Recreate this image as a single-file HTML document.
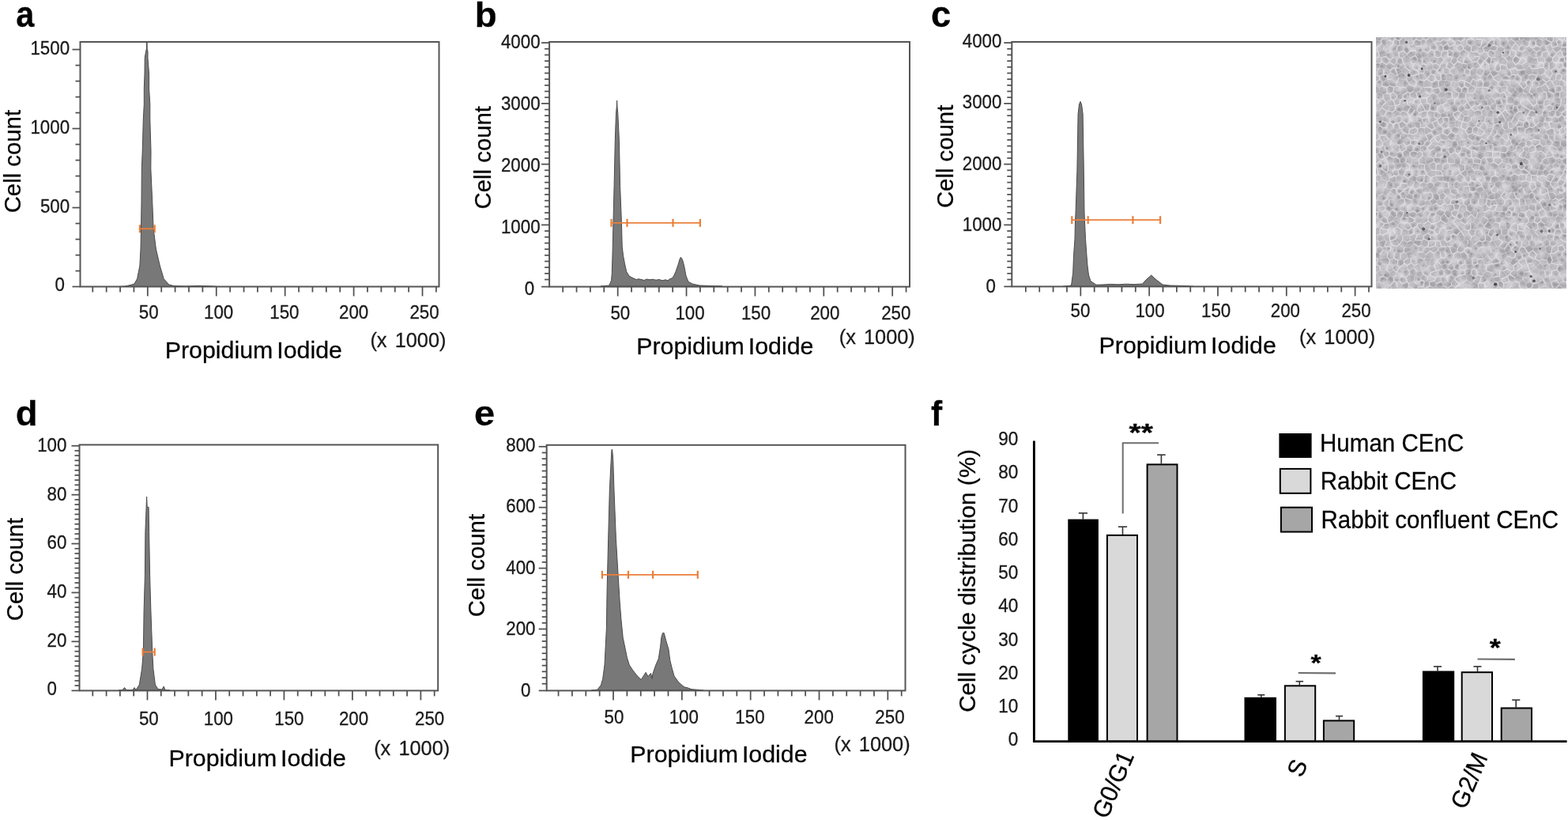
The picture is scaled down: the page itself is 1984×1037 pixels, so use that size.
<!DOCTYPE html>
<html><head><meta charset="utf-8"><title>Cell cycle figure</title>
<style>html,body{margin:0;padding:0;background:#fff;overflow:hidden;}svg{display:block;}text{stroke:#1a1a1a;stroke-width:0.3px;}</style></head>
<body><svg width="1984" height="1037" viewBox="0 0 1984 1037" font-family="Liberation Sans, Arial, sans-serif">
<rect width="1984" height="1037" fill="#fff"/>
<path d="M150.0,362.5 L158.0,362.0 L165.0,360.5 L170.0,359.0 L173.6,352.5 L176.9,336.0 L178.0,315.0 L178.5,289.0 L179.0,257.0 L179.3,213.0 L180.2,192.0 L181.3,151.0 L182.3,132.0 L182.3,112.0 L183.0,94.0 L183.2,73.5 L184.6,65.0 L185.4,62.0 L185.5,54.0 L186.1,54.0 L186.2,62.0 L187.0,65.0 L187.0,73.5 L188.6,94.0 L188.6,112.0 L189.8,132.0 L189.8,151.0 L191.0,192.0 L190.8,213.0 L192.8,257.0 L194.1,289.0 L197.4,315.0 L202.3,336.0 L207.2,352.5 L213.8,360.0 L220.0,361.5 L235.0,362.0 L250.0,361.3 L258.0,361.6 L270.0,362.0 L275.0,362.5 Z" fill="#787878" stroke="#4a4a4a" stroke-width="1" stroke-linejoin="round"/>
<rect x="101.5" y="53" width="454.0" height="309.5" fill="none" stroke="#555555" stroke-width="2"/>
<line x1="91.5" y1="362.50" x2="101.5" y2="362.50" stroke="#505050" stroke-width="1.75"/>
<line x1="95.5" y1="342.60" x2="101.5" y2="342.60" stroke="#505050" stroke-width="1.75"/>
<line x1="95.5" y1="322.60" x2="101.5" y2="322.60" stroke="#505050" stroke-width="1.75"/>
<line x1="95.5" y1="302.60" x2="101.5" y2="302.60" stroke="#505050" stroke-width="1.75"/>
<line x1="95.5" y1="282.60" x2="101.5" y2="282.60" stroke="#505050" stroke-width="1.75"/>
<line x1="91.5" y1="262.60" x2="101.5" y2="262.60" stroke="#505050" stroke-width="1.75"/>
<line x1="95.5" y1="242.60" x2="101.5" y2="242.60" stroke="#505050" stroke-width="1.75"/>
<line x1="95.5" y1="222.60" x2="101.5" y2="222.60" stroke="#505050" stroke-width="1.75"/>
<line x1="95.5" y1="202.60" x2="101.5" y2="202.60" stroke="#505050" stroke-width="1.75"/>
<line x1="95.5" y1="182.60" x2="101.5" y2="182.60" stroke="#505050" stroke-width="1.75"/>
<line x1="91.5" y1="162.60" x2="101.5" y2="162.60" stroke="#505050" stroke-width="1.75"/>
<line x1="95.5" y1="142.60" x2="101.5" y2="142.60" stroke="#505050" stroke-width="1.75"/>
<line x1="95.5" y1="122.60" x2="101.5" y2="122.60" stroke="#505050" stroke-width="1.75"/>
<line x1="95.5" y1="102.60" x2="101.5" y2="102.60" stroke="#505050" stroke-width="1.75"/>
<line x1="95.5" y1="82.60" x2="101.5" y2="82.60" stroke="#505050" stroke-width="1.75"/>
<line x1="91.5" y1="62.60" x2="101.5" y2="62.60" stroke="#505050" stroke-width="1.75"/>
<line x1="117.28" y1="362.5" x2="117.28" y2="369.5" stroke="#505050" stroke-width="1.75"/>
<line x1="134.67" y1="362.5" x2="134.67" y2="369.5" stroke="#505050" stroke-width="1.75"/>
<line x1="152.06" y1="362.5" x2="152.06" y2="369.5" stroke="#505050" stroke-width="1.75"/>
<line x1="169.44" y1="362.5" x2="169.44" y2="369.5" stroke="#505050" stroke-width="1.75"/>
<line x1="186.82" y1="362.5" x2="186.82" y2="374.5" stroke="#505050" stroke-width="1.75"/>
<line x1="204.21" y1="362.5" x2="204.21" y2="369.5" stroke="#505050" stroke-width="1.75"/>
<line x1="221.59" y1="362.5" x2="221.59" y2="369.5" stroke="#505050" stroke-width="1.75"/>
<line x1="238.98" y1="362.5" x2="238.98" y2="369.5" stroke="#505050" stroke-width="1.75"/>
<line x1="256.37" y1="362.5" x2="256.37" y2="369.5" stroke="#505050" stroke-width="1.75"/>
<line x1="273.75" y1="362.5" x2="273.75" y2="374.5" stroke="#505050" stroke-width="1.75"/>
<line x1="291.13" y1="362.5" x2="291.13" y2="369.5" stroke="#505050" stroke-width="1.75"/>
<line x1="308.52" y1="362.5" x2="308.52" y2="369.5" stroke="#505050" stroke-width="1.75"/>
<line x1="325.90" y1="362.5" x2="325.90" y2="369.5" stroke="#505050" stroke-width="1.75"/>
<line x1="343.29" y1="362.5" x2="343.29" y2="369.5" stroke="#505050" stroke-width="1.75"/>
<line x1="360.67" y1="362.5" x2="360.67" y2="374.5" stroke="#505050" stroke-width="1.75"/>
<line x1="378.06" y1="362.5" x2="378.06" y2="369.5" stroke="#505050" stroke-width="1.75"/>
<line x1="395.45" y1="362.5" x2="395.45" y2="369.5" stroke="#505050" stroke-width="1.75"/>
<line x1="412.83" y1="362.5" x2="412.83" y2="369.5" stroke="#505050" stroke-width="1.75"/>
<line x1="430.22" y1="362.5" x2="430.22" y2="369.5" stroke="#505050" stroke-width="1.75"/>
<line x1="447.60" y1="362.5" x2="447.60" y2="374.5" stroke="#505050" stroke-width="1.75"/>
<line x1="464.99" y1="362.5" x2="464.99" y2="369.5" stroke="#505050" stroke-width="1.75"/>
<line x1="482.37" y1="362.5" x2="482.37" y2="369.5" stroke="#505050" stroke-width="1.75"/>
<line x1="499.75" y1="362.5" x2="499.75" y2="369.5" stroke="#505050" stroke-width="1.75"/>
<line x1="517.14" y1="362.5" x2="517.14" y2="369.5" stroke="#505050" stroke-width="1.75"/>
<line x1="534.52" y1="362.5" x2="534.52" y2="374.5" stroke="#505050" stroke-width="1.75"/>
<line x1="551.91" y1="362.5" x2="551.91" y2="369.5" stroke="#505050" stroke-width="1.75"/>
<line x1="176.9" y1="289.3" x2="195.7" y2="289.3" stroke="#EA7F3A" stroke-width="1.8"/>
<line x1="176.9" y1="284.3" x2="176.9" y2="294.3" stroke="#EA7F3A" stroke-width="2.2"/>
<line x1="195.7" y1="284.3" x2="195.7" y2="294.3" stroke="#EA7F3A" stroke-width="2.2"/>
<text transform="translate(69.41,368.23) scale(0.9300,1)" font-size="24.00" fill="#1a1a1a">0</text>
<text transform="translate(50.93,268.58) scale(0.9300,1)" font-size="24.00" fill="#1a1a1a">500</text>
<text transform="translate(38.43,168.93) scale(0.9300,1)" font-size="24.00" fill="#1a1a1a">1000</text>
<text transform="translate(38.43,69.28) scale(0.9300,1)" font-size="24.00" fill="#1a1a1a">1500</text>
<text transform="translate(175.81,402.83) scale(0.9300,1)" font-size="24.00" fill="#1a1a1a">50</text>
<text transform="translate(257.98,402.83) scale(0.9300,1)" font-size="24.00" fill="#1a1a1a">100</text>
<text transform="translate(341.28,402.78) scale(0.9300,1)" font-size="24.00" fill="#1a1a1a">150</text>
<text transform="translate(429.06,402.78) scale(0.9300,1)" font-size="24.00" fill="#1a1a1a">200</text>
<text transform="translate(518.46,402.78) scale(0.9300,1)" font-size="24.00" fill="#1a1a1a">250</text>
<text transform="translate(20.26,34.34) scale(0.9093,1)" font-size="45.64" font-weight="bold" fill="#000">a</text>
<text transform="translate(25.98,269.30) rotate(-90) scale(0.9680,1)" font-size="30.30" fill="#000">Cell count</text>
<text transform="translate(208.67,453.25) scale(1.0228,1)" font-size="29.7" word-spacing="-3.5" fill="#000">Propidium Iodide</text>
<text transform="translate(468.44,438.59) scale(0.975,1)" font-size="26.0" fill="#1a1a1a">(x <tspan dx="3.2">1000)</tspan></text>
<path d="M760.0,362.0 L770.9,361.0 L773.6,354.4 L774.3,345.7 L775.0,323.0 L776.0,280.5 L777.1,235.4 L778.3,177.7 L779.5,143.9 L780.3,135.0 L780.6,127.0 L781.0,135.0 L781.8,143.9 L783.4,177.7 L784.6,235.4 L786.4,280.5 L787.2,311.8 L788.6,323.6 L790.5,333.6 L792.7,343.5 L796.0,349.0 L800.0,351.3 L805.0,353.5 L808.0,352.8 L812.0,353.6 L815.0,354.5 L818.0,353.0 L822.0,353.8 L826.0,353.2 L830.0,354.2 L834.0,353.5 L838.0,354.8 L842.0,353.8 L845.0,354.8 L848.0,352.5 L850.7,351.7 L853.0,348.0 L855.0,343.5 L858.0,335.0 L860.0,328.0 L861.2,325.4 L862.5,326.5 L864.0,330.0 L866.0,338.0 L868.0,349.0 L871.0,356.3 L876.0,359.0 L885.0,361.0 L900.0,361.5 L914.0,362.0 Z" fill="#787878" stroke="#4a4a4a" stroke-width="1" stroke-linejoin="round"/>
<rect x="695.1" y="53" width="455.9" height="309.6" fill="none" stroke="#555555" stroke-width="2"/>
<line x1="685.1" y1="362.60" x2="695.1" y2="362.60" stroke="#505050" stroke-width="1.75"/>
<line x1="689.1" y1="353.52" x2="695.1" y2="353.52" stroke="#505050" stroke-width="1.75"/>
<line x1="689.1" y1="345.84" x2="695.1" y2="345.84" stroke="#505050" stroke-width="1.75"/>
<line x1="689.1" y1="338.17" x2="695.1" y2="338.17" stroke="#505050" stroke-width="1.75"/>
<line x1="689.1" y1="330.49" x2="695.1" y2="330.49" stroke="#505050" stroke-width="1.75"/>
<line x1="689.1" y1="322.81" x2="695.1" y2="322.81" stroke="#505050" stroke-width="1.75"/>
<line x1="689.1" y1="315.13" x2="695.1" y2="315.13" stroke="#505050" stroke-width="1.75"/>
<line x1="689.1" y1="307.46" x2="695.1" y2="307.46" stroke="#505050" stroke-width="1.75"/>
<line x1="689.1" y1="299.78" x2="695.1" y2="299.78" stroke="#505050" stroke-width="1.75"/>
<line x1="689.1" y1="292.10" x2="695.1" y2="292.10" stroke="#505050" stroke-width="1.75"/>
<line x1="685.1" y1="284.43" x2="695.1" y2="284.43" stroke="#505050" stroke-width="1.75"/>
<line x1="689.1" y1="276.75" x2="695.1" y2="276.75" stroke="#505050" stroke-width="1.75"/>
<line x1="689.1" y1="269.07" x2="695.1" y2="269.07" stroke="#505050" stroke-width="1.75"/>
<line x1="689.1" y1="261.39" x2="695.1" y2="261.39" stroke="#505050" stroke-width="1.75"/>
<line x1="689.1" y1="253.72" x2="695.1" y2="253.72" stroke="#505050" stroke-width="1.75"/>
<line x1="689.1" y1="246.04" x2="695.1" y2="246.04" stroke="#505050" stroke-width="1.75"/>
<line x1="689.1" y1="238.36" x2="695.1" y2="238.36" stroke="#505050" stroke-width="1.75"/>
<line x1="689.1" y1="230.68" x2="695.1" y2="230.68" stroke="#505050" stroke-width="1.75"/>
<line x1="689.1" y1="223.01" x2="695.1" y2="223.01" stroke="#505050" stroke-width="1.75"/>
<line x1="689.1" y1="215.33" x2="695.1" y2="215.33" stroke="#505050" stroke-width="1.75"/>
<line x1="685.1" y1="207.65" x2="695.1" y2="207.65" stroke="#505050" stroke-width="1.75"/>
<line x1="689.1" y1="199.97" x2="695.1" y2="199.97" stroke="#505050" stroke-width="1.75"/>
<line x1="689.1" y1="192.30" x2="695.1" y2="192.30" stroke="#505050" stroke-width="1.75"/>
<line x1="689.1" y1="184.62" x2="695.1" y2="184.62" stroke="#505050" stroke-width="1.75"/>
<line x1="689.1" y1="176.94" x2="695.1" y2="176.94" stroke="#505050" stroke-width="1.75"/>
<line x1="689.1" y1="169.26" x2="695.1" y2="169.26" stroke="#505050" stroke-width="1.75"/>
<line x1="689.1" y1="161.59" x2="695.1" y2="161.59" stroke="#505050" stroke-width="1.75"/>
<line x1="689.1" y1="153.91" x2="695.1" y2="153.91" stroke="#505050" stroke-width="1.75"/>
<line x1="689.1" y1="146.23" x2="695.1" y2="146.23" stroke="#505050" stroke-width="1.75"/>
<line x1="689.1" y1="138.55" x2="695.1" y2="138.55" stroke="#505050" stroke-width="1.75"/>
<line x1="685.1" y1="130.88" x2="695.1" y2="130.88" stroke="#505050" stroke-width="1.75"/>
<line x1="689.1" y1="123.20" x2="695.1" y2="123.20" stroke="#505050" stroke-width="1.75"/>
<line x1="689.1" y1="115.52" x2="695.1" y2="115.52" stroke="#505050" stroke-width="1.75"/>
<line x1="689.1" y1="107.84" x2="695.1" y2="107.84" stroke="#505050" stroke-width="1.75"/>
<line x1="689.1" y1="100.17" x2="695.1" y2="100.17" stroke="#505050" stroke-width="1.75"/>
<line x1="689.1" y1="92.49" x2="695.1" y2="92.49" stroke="#505050" stroke-width="1.75"/>
<line x1="689.1" y1="84.81" x2="695.1" y2="84.81" stroke="#505050" stroke-width="1.75"/>
<line x1="689.1" y1="77.13" x2="695.1" y2="77.13" stroke="#505050" stroke-width="1.75"/>
<line x1="689.1" y1="69.46" x2="695.1" y2="69.46" stroke="#505050" stroke-width="1.75"/>
<line x1="689.1" y1="61.78" x2="695.1" y2="61.78" stroke="#505050" stroke-width="1.75"/>
<line x1="685.1" y1="54.10" x2="695.1" y2="54.10" stroke="#505050" stroke-width="1.75"/>
<line x1="712.17" y1="362.6" x2="712.17" y2="369.6" stroke="#505050" stroke-width="1.75"/>
<line x1="729.55" y1="362.6" x2="729.55" y2="369.6" stroke="#505050" stroke-width="1.75"/>
<line x1="746.92" y1="362.6" x2="746.92" y2="369.6" stroke="#505050" stroke-width="1.75"/>
<line x1="764.30" y1="362.6" x2="764.30" y2="369.6" stroke="#505050" stroke-width="1.75"/>
<line x1="781.67" y1="362.6" x2="781.67" y2="374.6" stroke="#505050" stroke-width="1.75"/>
<line x1="799.05" y1="362.6" x2="799.05" y2="369.6" stroke="#505050" stroke-width="1.75"/>
<line x1="816.42" y1="362.6" x2="816.42" y2="369.6" stroke="#505050" stroke-width="1.75"/>
<line x1="833.80" y1="362.6" x2="833.80" y2="369.6" stroke="#505050" stroke-width="1.75"/>
<line x1="851.17" y1="362.6" x2="851.17" y2="369.6" stroke="#505050" stroke-width="1.75"/>
<line x1="868.55" y1="362.6" x2="868.55" y2="374.6" stroke="#505050" stroke-width="1.75"/>
<line x1="885.92" y1="362.6" x2="885.92" y2="369.6" stroke="#505050" stroke-width="1.75"/>
<line x1="903.30" y1="362.6" x2="903.30" y2="369.6" stroke="#505050" stroke-width="1.75"/>
<line x1="920.67" y1="362.6" x2="920.67" y2="369.6" stroke="#505050" stroke-width="1.75"/>
<line x1="938.05" y1="362.6" x2="938.05" y2="369.6" stroke="#505050" stroke-width="1.75"/>
<line x1="955.42" y1="362.6" x2="955.42" y2="374.6" stroke="#505050" stroke-width="1.75"/>
<line x1="972.80" y1="362.6" x2="972.80" y2="369.6" stroke="#505050" stroke-width="1.75"/>
<line x1="990.17" y1="362.6" x2="990.17" y2="369.6" stroke="#505050" stroke-width="1.75"/>
<line x1="1007.55" y1="362.6" x2="1007.55" y2="369.6" stroke="#505050" stroke-width="1.75"/>
<line x1="1024.92" y1="362.6" x2="1024.92" y2="369.6" stroke="#505050" stroke-width="1.75"/>
<line x1="1042.30" y1="362.6" x2="1042.30" y2="374.6" stroke="#505050" stroke-width="1.75"/>
<line x1="1059.67" y1="362.6" x2="1059.67" y2="369.6" stroke="#505050" stroke-width="1.75"/>
<line x1="1077.05" y1="362.6" x2="1077.05" y2="369.6" stroke="#505050" stroke-width="1.75"/>
<line x1="1094.42" y1="362.6" x2="1094.42" y2="369.6" stroke="#505050" stroke-width="1.75"/>
<line x1="1111.80" y1="362.6" x2="1111.80" y2="369.6" stroke="#505050" stroke-width="1.75"/>
<line x1="1129.17" y1="362.6" x2="1129.17" y2="374.6" stroke="#505050" stroke-width="1.75"/>
<line x1="1146.55" y1="362.6" x2="1146.55" y2="369.6" stroke="#505050" stroke-width="1.75"/>
<line x1="773.5" y1="281.9" x2="885.9" y2="281.9" stroke="#EA7F3A" stroke-width="1.8"/>
<line x1="773.5" y1="276.9" x2="773.5" y2="286.9" stroke="#EA7F3A" stroke-width="2.2"/>
<line x1="793.5" y1="276.9" x2="793.5" y2="286.9" stroke="#EA7F3A" stroke-width="2.2"/>
<line x1="851.5" y1="276.9" x2="851.5" y2="286.9" stroke="#EA7F3A" stroke-width="2.2"/>
<line x1="885.9" y1="276.9" x2="885.9" y2="286.9" stroke="#EA7F3A" stroke-width="2.2"/>
<text transform="translate(663.71,372.78) scale(0.9300,1)" font-size="24.00" fill="#1a1a1a">0</text>
<text transform="translate(633.93,294.94) scale(0.9300,1)" font-size="24.00" fill="#1a1a1a">1000</text>
<text transform="translate(633.93,217.10) scale(0.9300,1)" font-size="24.00" fill="#1a1a1a">2000</text>
<text transform="translate(633.93,139.27) scale(0.9300,1)" font-size="24.00" fill="#1a1a1a">3000</text>
<text transform="translate(633.93,61.43) scale(0.9300,1)" font-size="24.00" fill="#1a1a1a">4000</text>
<text transform="translate(772.41,404.28) scale(0.9300,1)" font-size="24.00" fill="#1a1a1a">50</text>
<text transform="translate(854.38,404.28) scale(0.9300,1)" font-size="24.00" fill="#1a1a1a">100</text>
<text transform="translate(937.88,404.28) scale(0.9300,1)" font-size="24.00" fill="#1a1a1a">150</text>
<text transform="translate(1025.16,404.28) scale(0.9300,1)" font-size="24.00" fill="#1a1a1a">200</text>
<text transform="translate(1115.21,404.28) scale(0.9300,1)" font-size="24.00" fill="#1a1a1a">250</text>
<text transform="translate(600.63,34.06) scale(1.0377,1)" font-size="44.08" font-weight="bold" fill="#000">b</text>
<text transform="translate(620.73,264.40) rotate(-90) scale(0.9680,1)" font-size="30.30" fill="#000">Cell count</text>
<text transform="translate(805.17,448.40) scale(1.0228,1)" font-size="29.7" word-spacing="-3.5" fill="#000">Propidium Iodide</text>
<text transform="translate(1061.74,435.09) scale(0.975,1)" font-size="26.0" fill="#1a1a1a">(x <tspan dx="3.2">1000)</tspan></text>
<path d="M1345.0,362.3 L1355.5,361.0 L1357.7,344.9 L1358.5,323.6 L1360.0,302.4 L1360.5,279.0 L1361.0,270.6 L1362.9,216.4 L1364.1,144.0 L1365.5,132.0 L1367.0,128.4 L1368.5,132.0 L1370.1,144.0 L1371.3,216.4 L1372.0,270.0 L1373.5,302.4 L1375.0,323.6 L1376.1,337.0 L1377.5,348.0 L1380.0,355.5 L1387.0,360.2 L1395.0,360.0 L1405.0,359.4 L1415.0,359.8 L1425.0,359.2 L1435.0,359.6 L1445.6,359.0 L1450.0,354.0 L1456.7,348.0 L1462.0,353.0 L1471.1,360.0 L1480.0,361.0 L1500.0,361.5 L1510.0,362.3 Z" fill="#787878" stroke="#4a4a4a" stroke-width="1" stroke-linejoin="round"/>
<rect x="1280.3" y="53" width="455.20000000000005" height="309.4" fill="none" stroke="#555555" stroke-width="2"/>
<line x1="1270.3" y1="362.40" x2="1280.3" y2="362.40" stroke="#505050" stroke-width="1.75"/>
<line x1="1274.3" y1="353.52" x2="1280.3" y2="353.52" stroke="#505050" stroke-width="1.75"/>
<line x1="1274.3" y1="345.84" x2="1280.3" y2="345.84" stroke="#505050" stroke-width="1.75"/>
<line x1="1274.3" y1="338.17" x2="1280.3" y2="338.17" stroke="#505050" stroke-width="1.75"/>
<line x1="1274.3" y1="330.49" x2="1280.3" y2="330.49" stroke="#505050" stroke-width="1.75"/>
<line x1="1274.3" y1="322.81" x2="1280.3" y2="322.81" stroke="#505050" stroke-width="1.75"/>
<line x1="1274.3" y1="315.13" x2="1280.3" y2="315.13" stroke="#505050" stroke-width="1.75"/>
<line x1="1274.3" y1="307.46" x2="1280.3" y2="307.46" stroke="#505050" stroke-width="1.75"/>
<line x1="1274.3" y1="299.78" x2="1280.3" y2="299.78" stroke="#505050" stroke-width="1.75"/>
<line x1="1274.3" y1="292.10" x2="1280.3" y2="292.10" stroke="#505050" stroke-width="1.75"/>
<line x1="1270.3" y1="284.43" x2="1280.3" y2="284.43" stroke="#505050" stroke-width="1.75"/>
<line x1="1274.3" y1="276.75" x2="1280.3" y2="276.75" stroke="#505050" stroke-width="1.75"/>
<line x1="1274.3" y1="269.07" x2="1280.3" y2="269.07" stroke="#505050" stroke-width="1.75"/>
<line x1="1274.3" y1="261.39" x2="1280.3" y2="261.39" stroke="#505050" stroke-width="1.75"/>
<line x1="1274.3" y1="253.72" x2="1280.3" y2="253.72" stroke="#505050" stroke-width="1.75"/>
<line x1="1274.3" y1="246.04" x2="1280.3" y2="246.04" stroke="#505050" stroke-width="1.75"/>
<line x1="1274.3" y1="238.36" x2="1280.3" y2="238.36" stroke="#505050" stroke-width="1.75"/>
<line x1="1274.3" y1="230.68" x2="1280.3" y2="230.68" stroke="#505050" stroke-width="1.75"/>
<line x1="1274.3" y1="223.01" x2="1280.3" y2="223.01" stroke="#505050" stroke-width="1.75"/>
<line x1="1274.3" y1="215.33" x2="1280.3" y2="215.33" stroke="#505050" stroke-width="1.75"/>
<line x1="1270.3" y1="207.65" x2="1280.3" y2="207.65" stroke="#505050" stroke-width="1.75"/>
<line x1="1274.3" y1="199.97" x2="1280.3" y2="199.97" stroke="#505050" stroke-width="1.75"/>
<line x1="1274.3" y1="192.30" x2="1280.3" y2="192.30" stroke="#505050" stroke-width="1.75"/>
<line x1="1274.3" y1="184.62" x2="1280.3" y2="184.62" stroke="#505050" stroke-width="1.75"/>
<line x1="1274.3" y1="176.94" x2="1280.3" y2="176.94" stroke="#505050" stroke-width="1.75"/>
<line x1="1274.3" y1="169.26" x2="1280.3" y2="169.26" stroke="#505050" stroke-width="1.75"/>
<line x1="1274.3" y1="161.59" x2="1280.3" y2="161.59" stroke="#505050" stroke-width="1.75"/>
<line x1="1274.3" y1="153.91" x2="1280.3" y2="153.91" stroke="#505050" stroke-width="1.75"/>
<line x1="1274.3" y1="146.23" x2="1280.3" y2="146.23" stroke="#505050" stroke-width="1.75"/>
<line x1="1274.3" y1="138.55" x2="1280.3" y2="138.55" stroke="#505050" stroke-width="1.75"/>
<line x1="1270.3" y1="130.88" x2="1280.3" y2="130.88" stroke="#505050" stroke-width="1.75"/>
<line x1="1274.3" y1="123.20" x2="1280.3" y2="123.20" stroke="#505050" stroke-width="1.75"/>
<line x1="1274.3" y1="115.52" x2="1280.3" y2="115.52" stroke="#505050" stroke-width="1.75"/>
<line x1="1274.3" y1="107.84" x2="1280.3" y2="107.84" stroke="#505050" stroke-width="1.75"/>
<line x1="1274.3" y1="100.17" x2="1280.3" y2="100.17" stroke="#505050" stroke-width="1.75"/>
<line x1="1274.3" y1="92.49" x2="1280.3" y2="92.49" stroke="#505050" stroke-width="1.75"/>
<line x1="1274.3" y1="84.81" x2="1280.3" y2="84.81" stroke="#505050" stroke-width="1.75"/>
<line x1="1274.3" y1="77.13" x2="1280.3" y2="77.13" stroke="#505050" stroke-width="1.75"/>
<line x1="1274.3" y1="69.46" x2="1280.3" y2="69.46" stroke="#505050" stroke-width="1.75"/>
<line x1="1274.3" y1="61.78" x2="1280.3" y2="61.78" stroke="#505050" stroke-width="1.75"/>
<line x1="1270.3" y1="54.10" x2="1280.3" y2="54.10" stroke="#505050" stroke-width="1.75"/>
<line x1="1297.87" y1="362.4" x2="1297.87" y2="369.4" stroke="#505050" stroke-width="1.75"/>
<line x1="1315.23" y1="362.4" x2="1315.23" y2="369.4" stroke="#505050" stroke-width="1.75"/>
<line x1="1332.60" y1="362.4" x2="1332.60" y2="369.4" stroke="#505050" stroke-width="1.75"/>
<line x1="1349.96" y1="362.4" x2="1349.96" y2="369.4" stroke="#505050" stroke-width="1.75"/>
<line x1="1367.33" y1="362.4" x2="1367.33" y2="374.4" stroke="#505050" stroke-width="1.75"/>
<line x1="1384.69" y1="362.4" x2="1384.69" y2="369.4" stroke="#505050" stroke-width="1.75"/>
<line x1="1402.06" y1="362.4" x2="1402.06" y2="369.4" stroke="#505050" stroke-width="1.75"/>
<line x1="1419.42" y1="362.4" x2="1419.42" y2="369.4" stroke="#505050" stroke-width="1.75"/>
<line x1="1436.79" y1="362.4" x2="1436.79" y2="369.4" stroke="#505050" stroke-width="1.75"/>
<line x1="1454.15" y1="362.4" x2="1454.15" y2="374.4" stroke="#505050" stroke-width="1.75"/>
<line x1="1471.51" y1="362.4" x2="1471.51" y2="369.4" stroke="#505050" stroke-width="1.75"/>
<line x1="1488.88" y1="362.4" x2="1488.88" y2="369.4" stroke="#505050" stroke-width="1.75"/>
<line x1="1506.24" y1="362.4" x2="1506.24" y2="369.4" stroke="#505050" stroke-width="1.75"/>
<line x1="1523.61" y1="362.4" x2="1523.61" y2="369.4" stroke="#505050" stroke-width="1.75"/>
<line x1="1540.97" y1="362.4" x2="1540.97" y2="374.4" stroke="#505050" stroke-width="1.75"/>
<line x1="1558.34" y1="362.4" x2="1558.34" y2="369.4" stroke="#505050" stroke-width="1.75"/>
<line x1="1575.70" y1="362.4" x2="1575.70" y2="369.4" stroke="#505050" stroke-width="1.75"/>
<line x1="1593.07" y1="362.4" x2="1593.07" y2="369.4" stroke="#505050" stroke-width="1.75"/>
<line x1="1610.43" y1="362.4" x2="1610.43" y2="369.4" stroke="#505050" stroke-width="1.75"/>
<line x1="1627.80" y1="362.4" x2="1627.80" y2="374.4" stroke="#505050" stroke-width="1.75"/>
<line x1="1645.16" y1="362.4" x2="1645.16" y2="369.4" stroke="#505050" stroke-width="1.75"/>
<line x1="1662.53" y1="362.4" x2="1662.53" y2="369.4" stroke="#505050" stroke-width="1.75"/>
<line x1="1679.89" y1="362.4" x2="1679.89" y2="369.4" stroke="#505050" stroke-width="1.75"/>
<line x1="1697.26" y1="362.4" x2="1697.26" y2="369.4" stroke="#505050" stroke-width="1.75"/>
<line x1="1714.62" y1="362.4" x2="1714.62" y2="374.4" stroke="#505050" stroke-width="1.75"/>
<line x1="1731.99" y1="362.4" x2="1731.99" y2="369.4" stroke="#505050" stroke-width="1.75"/>
<line x1="1356.3" y1="278.2" x2="1468.1" y2="278.2" stroke="#EA7F3A" stroke-width="1.8"/>
<line x1="1356.3" y1="273.2" x2="1356.3" y2="283.2" stroke="#EA7F3A" stroke-width="2.2"/>
<line x1="1376.7" y1="273.2" x2="1376.7" y2="283.2" stroke="#EA7F3A" stroke-width="2.2"/>
<line x1="1433.4" y1="273.2" x2="1433.4" y2="283.2" stroke="#EA7F3A" stroke-width="2.2"/>
<line x1="1468.1" y1="273.2" x2="1468.1" y2="283.2" stroke="#EA7F3A" stroke-width="2.2"/>
<text transform="translate(1247.41,369.73) scale(0.9300,1)" font-size="24.00" fill="#1a1a1a">0</text>
<text transform="translate(1217.73,292.24) scale(0.9300,1)" font-size="24.00" fill="#1a1a1a">1000</text>
<text transform="translate(1217.73,214.75) scale(0.9300,1)" font-size="24.00" fill="#1a1a1a">2000</text>
<text transform="translate(1217.73,137.27) scale(0.9300,1)" font-size="24.00" fill="#1a1a1a">3000</text>
<text transform="translate(1217.73,59.78) scale(0.9300,1)" font-size="24.00" fill="#1a1a1a">4000</text>
<text transform="translate(1354.56,401.23) scale(0.9300,1)" font-size="24.00" fill="#1a1a1a">50</text>
<text transform="translate(1436.43,401.28) scale(0.9300,1)" font-size="24.00" fill="#1a1a1a">100</text>
<text transform="translate(1520.03,401.28) scale(0.9300,1)" font-size="24.00" fill="#1a1a1a">150</text>
<text transform="translate(1607.81,401.28) scale(0.9300,1)" font-size="24.00" fill="#1a1a1a">200</text>
<text transform="translate(1697.41,401.28) scale(0.9300,1)" font-size="24.00" fill="#1a1a1a">250</text>
<text transform="translate(1177.89,34.34) scale(0.9940,1)" font-size="45.64" font-weight="bold" fill="#000">c</text>
<text transform="translate(1206.13,263.05) rotate(-90) scale(0.9680,1)" font-size="30.30" fill="#000">Cell count</text>
<text transform="translate(1390.52,446.90) scale(1.0228,1)" font-size="29.7" word-spacing="-3.5" fill="#000">Propidium Iodide</text>
<text transform="translate(1644.04,434.55) scale(0.975,1)" font-size="26.0" fill="#1a1a1a">(x <tspan dx="3.2">1000)</tspan></text>
<path d="M150.0,873.0 L155.0,872.5 L157.5,869.5 L160.0,872.5 L168.0,872.5 L170.0,869.5 L172.0,872.5 L176.3,866.0 L179.6,845.8 L181.4,823.3 L182.1,773.0 L183.4,727.9 L183.9,672.7 L185.1,641.3 L185.6,628.0 L186.2,641.3 L188.1,641.3 L188.6,672.7 L189.6,727.9 L190.9,773.0 L192.7,823.3 L193.9,845.8 L196.4,866.0 L200.0,871.5 L205.0,872.0 L207.2,868.0 L209.0,872.5 L215.0,873.0 Z" fill="#787878" stroke="#4a4a4a" stroke-width="1" stroke-linejoin="round"/>
<rect x="100.5" y="562.5" width="453.70000000000005" height="310.9" fill="none" stroke="#555555" stroke-width="2"/>
<line x1="90.5" y1="873.40" x2="100.5" y2="873.40" stroke="#505050" stroke-width="1.75"/>
<line x1="94.5" y1="867.01" x2="100.5" y2="867.01" stroke="#505050" stroke-width="1.75"/>
<line x1="94.5" y1="860.82" x2="100.5" y2="860.82" stroke="#505050" stroke-width="1.75"/>
<line x1="94.5" y1="854.64" x2="100.5" y2="854.64" stroke="#505050" stroke-width="1.75"/>
<line x1="94.5" y1="848.45" x2="100.5" y2="848.45" stroke="#505050" stroke-width="1.75"/>
<line x1="94.5" y1="842.26" x2="100.5" y2="842.26" stroke="#505050" stroke-width="1.75"/>
<line x1="94.5" y1="836.07" x2="100.5" y2="836.07" stroke="#505050" stroke-width="1.75"/>
<line x1="94.5" y1="829.88" x2="100.5" y2="829.88" stroke="#505050" stroke-width="1.75"/>
<line x1="94.5" y1="823.70" x2="100.5" y2="823.70" stroke="#505050" stroke-width="1.75"/>
<line x1="94.5" y1="817.51" x2="100.5" y2="817.51" stroke="#505050" stroke-width="1.75"/>
<line x1="90.5" y1="811.32" x2="100.5" y2="811.32" stroke="#505050" stroke-width="1.75"/>
<line x1="94.5" y1="805.13" x2="100.5" y2="805.13" stroke="#505050" stroke-width="1.75"/>
<line x1="94.5" y1="798.94" x2="100.5" y2="798.94" stroke="#505050" stroke-width="1.75"/>
<line x1="94.5" y1="792.76" x2="100.5" y2="792.76" stroke="#505050" stroke-width="1.75"/>
<line x1="94.5" y1="786.57" x2="100.5" y2="786.57" stroke="#505050" stroke-width="1.75"/>
<line x1="94.5" y1="780.38" x2="100.5" y2="780.38" stroke="#505050" stroke-width="1.75"/>
<line x1="94.5" y1="774.19" x2="100.5" y2="774.19" stroke="#505050" stroke-width="1.75"/>
<line x1="94.5" y1="768.00" x2="100.5" y2="768.00" stroke="#505050" stroke-width="1.75"/>
<line x1="94.5" y1="761.82" x2="100.5" y2="761.82" stroke="#505050" stroke-width="1.75"/>
<line x1="94.5" y1="755.63" x2="100.5" y2="755.63" stroke="#505050" stroke-width="1.75"/>
<line x1="90.5" y1="749.44" x2="100.5" y2="749.44" stroke="#505050" stroke-width="1.75"/>
<line x1="94.5" y1="743.25" x2="100.5" y2="743.25" stroke="#505050" stroke-width="1.75"/>
<line x1="94.5" y1="737.06" x2="100.5" y2="737.06" stroke="#505050" stroke-width="1.75"/>
<line x1="94.5" y1="730.88" x2="100.5" y2="730.88" stroke="#505050" stroke-width="1.75"/>
<line x1="94.5" y1="724.69" x2="100.5" y2="724.69" stroke="#505050" stroke-width="1.75"/>
<line x1="94.5" y1="718.50" x2="100.5" y2="718.50" stroke="#505050" stroke-width="1.75"/>
<line x1="94.5" y1="712.31" x2="100.5" y2="712.31" stroke="#505050" stroke-width="1.75"/>
<line x1="94.5" y1="706.12" x2="100.5" y2="706.12" stroke="#505050" stroke-width="1.75"/>
<line x1="94.5" y1="699.94" x2="100.5" y2="699.94" stroke="#505050" stroke-width="1.75"/>
<line x1="94.5" y1="693.75" x2="100.5" y2="693.75" stroke="#505050" stroke-width="1.75"/>
<line x1="90.5" y1="687.56" x2="100.5" y2="687.56" stroke="#505050" stroke-width="1.75"/>
<line x1="94.5" y1="681.37" x2="100.5" y2="681.37" stroke="#505050" stroke-width="1.75"/>
<line x1="94.5" y1="675.18" x2="100.5" y2="675.18" stroke="#505050" stroke-width="1.75"/>
<line x1="94.5" y1="669.00" x2="100.5" y2="669.00" stroke="#505050" stroke-width="1.75"/>
<line x1="94.5" y1="662.81" x2="100.5" y2="662.81" stroke="#505050" stroke-width="1.75"/>
<line x1="94.5" y1="656.62" x2="100.5" y2="656.62" stroke="#505050" stroke-width="1.75"/>
<line x1="94.5" y1="650.43" x2="100.5" y2="650.43" stroke="#505050" stroke-width="1.75"/>
<line x1="94.5" y1="644.24" x2="100.5" y2="644.24" stroke="#505050" stroke-width="1.75"/>
<line x1="94.5" y1="638.06" x2="100.5" y2="638.06" stroke="#505050" stroke-width="1.75"/>
<line x1="94.5" y1="631.87" x2="100.5" y2="631.87" stroke="#505050" stroke-width="1.75"/>
<line x1="90.5" y1="625.68" x2="100.5" y2="625.68" stroke="#505050" stroke-width="1.75"/>
<line x1="94.5" y1="619.49" x2="100.5" y2="619.49" stroke="#505050" stroke-width="1.75"/>
<line x1="94.5" y1="613.30" x2="100.5" y2="613.30" stroke="#505050" stroke-width="1.75"/>
<line x1="94.5" y1="607.12" x2="100.5" y2="607.12" stroke="#505050" stroke-width="1.75"/>
<line x1="94.5" y1="600.93" x2="100.5" y2="600.93" stroke="#505050" stroke-width="1.75"/>
<line x1="94.5" y1="594.74" x2="100.5" y2="594.74" stroke="#505050" stroke-width="1.75"/>
<line x1="94.5" y1="588.55" x2="100.5" y2="588.55" stroke="#505050" stroke-width="1.75"/>
<line x1="94.5" y1="582.36" x2="100.5" y2="582.36" stroke="#505050" stroke-width="1.75"/>
<line x1="94.5" y1="576.18" x2="100.5" y2="576.18" stroke="#505050" stroke-width="1.75"/>
<line x1="94.5" y1="569.99" x2="100.5" y2="569.99" stroke="#505050" stroke-width="1.75"/>
<line x1="90.5" y1="563.80" x2="100.5" y2="563.80" stroke="#505050" stroke-width="1.75"/>
<line x1="117.30" y1="873.4" x2="117.30" y2="880.4" stroke="#505050" stroke-width="1.75"/>
<line x1="134.59" y1="873.4" x2="134.59" y2="880.4" stroke="#505050" stroke-width="1.75"/>
<line x1="151.88" y1="873.4" x2="151.88" y2="880.4" stroke="#505050" stroke-width="1.75"/>
<line x1="169.18" y1="873.4" x2="169.18" y2="880.4" stroke="#505050" stroke-width="1.75"/>
<line x1="186.48" y1="873.4" x2="186.48" y2="885.4" stroke="#505050" stroke-width="1.75"/>
<line x1="203.77" y1="873.4" x2="203.77" y2="880.4" stroke="#505050" stroke-width="1.75"/>
<line x1="221.06" y1="873.4" x2="221.06" y2="880.4" stroke="#505050" stroke-width="1.75"/>
<line x1="238.36" y1="873.4" x2="238.36" y2="880.4" stroke="#505050" stroke-width="1.75"/>
<line x1="255.66" y1="873.4" x2="255.66" y2="880.4" stroke="#505050" stroke-width="1.75"/>
<line x1="272.95" y1="873.4" x2="272.95" y2="885.4" stroke="#505050" stroke-width="1.75"/>
<line x1="290.25" y1="873.4" x2="290.25" y2="880.4" stroke="#505050" stroke-width="1.75"/>
<line x1="307.54" y1="873.4" x2="307.54" y2="880.4" stroke="#505050" stroke-width="1.75"/>
<line x1="324.84" y1="873.4" x2="324.84" y2="880.4" stroke="#505050" stroke-width="1.75"/>
<line x1="342.13" y1="873.4" x2="342.13" y2="880.4" stroke="#505050" stroke-width="1.75"/>
<line x1="359.43" y1="873.4" x2="359.43" y2="885.4" stroke="#505050" stroke-width="1.75"/>
<line x1="376.72" y1="873.4" x2="376.72" y2="880.4" stroke="#505050" stroke-width="1.75"/>
<line x1="394.01" y1="873.4" x2="394.01" y2="880.4" stroke="#505050" stroke-width="1.75"/>
<line x1="411.31" y1="873.4" x2="411.31" y2="880.4" stroke="#505050" stroke-width="1.75"/>
<line x1="428.61" y1="873.4" x2="428.61" y2="880.4" stroke="#505050" stroke-width="1.75"/>
<line x1="445.90" y1="873.4" x2="445.90" y2="885.4" stroke="#505050" stroke-width="1.75"/>
<line x1="463.19" y1="873.4" x2="463.19" y2="880.4" stroke="#505050" stroke-width="1.75"/>
<line x1="480.49" y1="873.4" x2="480.49" y2="880.4" stroke="#505050" stroke-width="1.75"/>
<line x1="497.79" y1="873.4" x2="497.79" y2="880.4" stroke="#505050" stroke-width="1.75"/>
<line x1="515.08" y1="873.4" x2="515.08" y2="880.4" stroke="#505050" stroke-width="1.75"/>
<line x1="532.38" y1="873.4" x2="532.38" y2="885.4" stroke="#505050" stroke-width="1.75"/>
<line x1="549.67" y1="873.4" x2="549.67" y2="880.4" stroke="#505050" stroke-width="1.75"/>
<line x1="180.6" y1="824.5" x2="195.7" y2="824.5" stroke="#EA7F3A" stroke-width="1.8"/>
<line x1="180.6" y1="819.5" x2="180.6" y2="829.5" stroke="#EA7F3A" stroke-width="2.2"/>
<line x1="195.7" y1="819.5" x2="195.7" y2="829.5" stroke="#EA7F3A" stroke-width="2.2"/>
<text transform="translate(59.51,879.33) scale(0.9300,1)" font-size="24.00" fill="#1a1a1a">0</text>
<text transform="translate(59.52,817.68) scale(0.9300,1)" font-size="24.00" fill="#1a1a1a">20</text>
<text transform="translate(59.52,756.03) scale(0.9300,1)" font-size="24.00" fill="#1a1a1a">40</text>
<text transform="translate(59.52,694.38) scale(0.9300,1)" font-size="24.00" fill="#1a1a1a">60</text>
<text transform="translate(59.52,632.73) scale(0.9300,1)" font-size="24.00" fill="#1a1a1a">80</text>
<text transform="translate(47.13,571.08) scale(0.9300,1)" font-size="24.00" fill="#1a1a1a">100</text>
<text transform="translate(175.96,917.38) scale(0.9300,1)" font-size="24.00" fill="#1a1a1a">50</text>
<text transform="translate(257.78,917.38) scale(0.9300,1)" font-size="24.00" fill="#1a1a1a">100</text>
<text transform="translate(347.23,917.38) scale(0.9300,1)" font-size="24.00" fill="#1a1a1a">150</text>
<text transform="translate(428.91,917.38) scale(0.9300,1)" font-size="24.00" fill="#1a1a1a">200</text>
<text transform="translate(525.01,917.38) scale(0.9300,1)" font-size="24.00" fill="#1a1a1a">250</text>
<text transform="translate(19.68,537.95) scale(1.0206,1)" font-size="44.63" font-weight="bold" fill="#000">d</text>
<text transform="translate(29.13,785.15) rotate(-90) scale(0.9680,1)" font-size="30.30" fill="#000">Cell count</text>
<text transform="translate(213.47,968.95) scale(1.0228,1)" font-size="29.7" word-spacing="-3.5" fill="#000">Propidium Iodide</text>
<text transform="translate(473.14,954.75) scale(0.975,1)" font-size="26.0" fill="#1a1a1a">(x <tspan dx="3.2">1000)</tspan></text>
<path d="M748.0,873.0 L755.8,872.2 L760.4,866.4 L762.7,858.4 L765.0,841.0 L766.2,817.9 L767.4,794.7 L767.9,760.0 L768.2,742.3 L769.7,681.5 L771.3,620.8 L772.8,590.0 L774.0,568.5 L774.6,568.5 L775.7,580.3 L777.0,620.8 L779.4,681.5 L781.8,722.0 L784.1,760.0 L785.9,783.1 L788.2,806.3 L791.1,820.2 L793.4,831.7 L796.3,841.0 L800.9,847.9 L805.5,853.7 L808.0,856.5 L811.3,859.5 L814.2,854.9 L817.1,850.3 L820.0,855.5 L823.5,851.4 L825.2,858.4 L825.8,852.6 L829.8,841.0 L833.3,832.9 L835.6,817.9 L836.8,806.3 L838.5,800.5 L840.2,800.5 L842.6,809.8 L846.0,821.3 L847.8,835.2 L850.1,844.5 L853.0,854.9 L858.8,863.0 L865.7,868.8 L870.3,869.9 L875.0,871.7 L881.9,872.2 L890.0,873.0 Z" fill="#787878" stroke="#4a4a4a" stroke-width="1" stroke-linejoin="round"/>
<rect x="691.7" y="562.8" width="453.79999999999995" height="310.6" fill="none" stroke="#555555" stroke-width="2"/>
<line x1="681.7" y1="873.40" x2="691.7" y2="873.40" stroke="#505050" stroke-width="1.75"/>
<line x1="685.7" y1="864.71" x2="691.7" y2="864.71" stroke="#505050" stroke-width="1.75"/>
<line x1="685.7" y1="857.02" x2="691.7" y2="857.02" stroke="#505050" stroke-width="1.75"/>
<line x1="685.7" y1="849.33" x2="691.7" y2="849.33" stroke="#505050" stroke-width="1.75"/>
<line x1="685.7" y1="841.64" x2="691.7" y2="841.64" stroke="#505050" stroke-width="1.75"/>
<line x1="685.7" y1="833.95" x2="691.7" y2="833.95" stroke="#505050" stroke-width="1.75"/>
<line x1="685.7" y1="826.26" x2="691.7" y2="826.26" stroke="#505050" stroke-width="1.75"/>
<line x1="685.7" y1="818.57" x2="691.7" y2="818.57" stroke="#505050" stroke-width="1.75"/>
<line x1="685.7" y1="810.88" x2="691.7" y2="810.88" stroke="#505050" stroke-width="1.75"/>
<line x1="685.7" y1="803.19" x2="691.7" y2="803.19" stroke="#505050" stroke-width="1.75"/>
<line x1="681.7" y1="795.50" x2="691.7" y2="795.50" stroke="#505050" stroke-width="1.75"/>
<line x1="685.7" y1="787.81" x2="691.7" y2="787.81" stroke="#505050" stroke-width="1.75"/>
<line x1="685.7" y1="780.12" x2="691.7" y2="780.12" stroke="#505050" stroke-width="1.75"/>
<line x1="685.7" y1="772.43" x2="691.7" y2="772.43" stroke="#505050" stroke-width="1.75"/>
<line x1="685.7" y1="764.74" x2="691.7" y2="764.74" stroke="#505050" stroke-width="1.75"/>
<line x1="685.7" y1="757.05" x2="691.7" y2="757.05" stroke="#505050" stroke-width="1.75"/>
<line x1="685.7" y1="749.36" x2="691.7" y2="749.36" stroke="#505050" stroke-width="1.75"/>
<line x1="685.7" y1="741.67" x2="691.7" y2="741.67" stroke="#505050" stroke-width="1.75"/>
<line x1="685.7" y1="733.98" x2="691.7" y2="733.98" stroke="#505050" stroke-width="1.75"/>
<line x1="685.7" y1="726.29" x2="691.7" y2="726.29" stroke="#505050" stroke-width="1.75"/>
<line x1="681.7" y1="718.60" x2="691.7" y2="718.60" stroke="#505050" stroke-width="1.75"/>
<line x1="685.7" y1="710.91" x2="691.7" y2="710.91" stroke="#505050" stroke-width="1.75"/>
<line x1="685.7" y1="703.22" x2="691.7" y2="703.22" stroke="#505050" stroke-width="1.75"/>
<line x1="685.7" y1="695.53" x2="691.7" y2="695.53" stroke="#505050" stroke-width="1.75"/>
<line x1="685.7" y1="687.84" x2="691.7" y2="687.84" stroke="#505050" stroke-width="1.75"/>
<line x1="685.7" y1="680.15" x2="691.7" y2="680.15" stroke="#505050" stroke-width="1.75"/>
<line x1="685.7" y1="672.46" x2="691.7" y2="672.46" stroke="#505050" stroke-width="1.75"/>
<line x1="685.7" y1="664.77" x2="691.7" y2="664.77" stroke="#505050" stroke-width="1.75"/>
<line x1="685.7" y1="657.08" x2="691.7" y2="657.08" stroke="#505050" stroke-width="1.75"/>
<line x1="685.7" y1="649.39" x2="691.7" y2="649.39" stroke="#505050" stroke-width="1.75"/>
<line x1="681.7" y1="641.70" x2="691.7" y2="641.70" stroke="#505050" stroke-width="1.75"/>
<line x1="685.7" y1="634.01" x2="691.7" y2="634.01" stroke="#505050" stroke-width="1.75"/>
<line x1="685.7" y1="626.32" x2="691.7" y2="626.32" stroke="#505050" stroke-width="1.75"/>
<line x1="685.7" y1="618.63" x2="691.7" y2="618.63" stroke="#505050" stroke-width="1.75"/>
<line x1="685.7" y1="610.94" x2="691.7" y2="610.94" stroke="#505050" stroke-width="1.75"/>
<line x1="685.7" y1="603.25" x2="691.7" y2="603.25" stroke="#505050" stroke-width="1.75"/>
<line x1="685.7" y1="595.56" x2="691.7" y2="595.56" stroke="#505050" stroke-width="1.75"/>
<line x1="685.7" y1="587.87" x2="691.7" y2="587.87" stroke="#505050" stroke-width="1.75"/>
<line x1="685.7" y1="580.18" x2="691.7" y2="580.18" stroke="#505050" stroke-width="1.75"/>
<line x1="685.7" y1="572.49" x2="691.7" y2="572.49" stroke="#505050" stroke-width="1.75"/>
<line x1="681.7" y1="564.80" x2="691.7" y2="564.80" stroke="#505050" stroke-width="1.75"/>
<line x1="706.57" y1="873.4" x2="706.57" y2="880.4" stroke="#505050" stroke-width="1.75"/>
<line x1="723.93" y1="873.4" x2="723.93" y2="880.4" stroke="#505050" stroke-width="1.75"/>
<line x1="741.30" y1="873.4" x2="741.30" y2="880.4" stroke="#505050" stroke-width="1.75"/>
<line x1="758.66" y1="873.4" x2="758.66" y2="880.4" stroke="#505050" stroke-width="1.75"/>
<line x1="776.03" y1="873.4" x2="776.03" y2="885.4" stroke="#505050" stroke-width="1.75"/>
<line x1="793.39" y1="873.4" x2="793.39" y2="880.4" stroke="#505050" stroke-width="1.75"/>
<line x1="810.75" y1="873.4" x2="810.75" y2="880.4" stroke="#505050" stroke-width="1.75"/>
<line x1="828.12" y1="873.4" x2="828.12" y2="880.4" stroke="#505050" stroke-width="1.75"/>
<line x1="845.49" y1="873.4" x2="845.49" y2="880.4" stroke="#505050" stroke-width="1.75"/>
<line x1="862.85" y1="873.4" x2="862.85" y2="885.4" stroke="#505050" stroke-width="1.75"/>
<line x1="880.22" y1="873.4" x2="880.22" y2="880.4" stroke="#505050" stroke-width="1.75"/>
<line x1="897.58" y1="873.4" x2="897.58" y2="880.4" stroke="#505050" stroke-width="1.75"/>
<line x1="914.95" y1="873.4" x2="914.95" y2="880.4" stroke="#505050" stroke-width="1.75"/>
<line x1="932.31" y1="873.4" x2="932.31" y2="880.4" stroke="#505050" stroke-width="1.75"/>
<line x1="949.67" y1="873.4" x2="949.67" y2="885.4" stroke="#505050" stroke-width="1.75"/>
<line x1="967.04" y1="873.4" x2="967.04" y2="880.4" stroke="#505050" stroke-width="1.75"/>
<line x1="984.40" y1="873.4" x2="984.40" y2="880.4" stroke="#505050" stroke-width="1.75"/>
<line x1="1001.77" y1="873.4" x2="1001.77" y2="880.4" stroke="#505050" stroke-width="1.75"/>
<line x1="1019.13" y1="873.4" x2="1019.13" y2="880.4" stroke="#505050" stroke-width="1.75"/>
<line x1="1036.50" y1="873.4" x2="1036.50" y2="885.4" stroke="#505050" stroke-width="1.75"/>
<line x1="1053.87" y1="873.4" x2="1053.87" y2="880.4" stroke="#505050" stroke-width="1.75"/>
<line x1="1071.23" y1="873.4" x2="1071.23" y2="880.4" stroke="#505050" stroke-width="1.75"/>
<line x1="1088.60" y1="873.4" x2="1088.60" y2="880.4" stroke="#505050" stroke-width="1.75"/>
<line x1="1105.96" y1="873.4" x2="1105.96" y2="880.4" stroke="#505050" stroke-width="1.75"/>
<line x1="1123.33" y1="873.4" x2="1123.33" y2="885.4" stroke="#505050" stroke-width="1.75"/>
<line x1="1140.69" y1="873.4" x2="1140.69" y2="880.4" stroke="#505050" stroke-width="1.75"/>
<line x1="761.9" y1="726.8" x2="882.8" y2="726.8" stroke="#EA7F3A" stroke-width="1.8"/>
<line x1="761.9" y1="721.8" x2="761.9" y2="731.8" stroke="#EA7F3A" stroke-width="2.2"/>
<line x1="795" y1="721.8" x2="795" y2="731.8" stroke="#EA7F3A" stroke-width="2.2"/>
<line x1="826.1" y1="721.8" x2="826.1" y2="731.8" stroke="#EA7F3A" stroke-width="2.2"/>
<line x1="882.8" y1="721.8" x2="882.8" y2="731.8" stroke="#EA7F3A" stroke-width="2.2"/>
<text transform="translate(659.11,880.93) scale(0.9300,1)" font-size="24.00" fill="#1a1a1a">0</text>
<text transform="translate(640.23,803.44) scale(0.9300,1)" font-size="24.00" fill="#1a1a1a">200</text>
<text transform="translate(640.23,725.95) scale(0.9300,1)" font-size="24.00" fill="#1a1a1a">400</text>
<text transform="translate(640.23,648.47) scale(0.9300,1)" font-size="24.00" fill="#1a1a1a">600</text>
<text transform="translate(640.23,570.98) scale(0.9300,1)" font-size="24.00" fill="#1a1a1a">800</text>
<text transform="translate(764.61,914.53) scale(0.9300,1)" font-size="24.00" fill="#1a1a1a">50</text>
<text transform="translate(846.63,914.53) scale(0.9300,1)" font-size="24.00" fill="#1a1a1a">100</text>
<text transform="translate(930.33,914.53) scale(0.9300,1)" font-size="24.00" fill="#1a1a1a">150</text>
<text transform="translate(1017.61,914.53) scale(0.9300,1)" font-size="24.00" fill="#1a1a1a">200</text>
<text transform="translate(1107.36,914.53) scale(0.9300,1)" font-size="24.00" fill="#1a1a1a">250</text>
<text transform="translate(600.02,537.95) scale(1.0442,1)" font-size="45.09" font-weight="bold" fill="#000">e</text>
<text transform="translate(613.03,780.30) rotate(-90) scale(0.9680,1)" font-size="30.30" fill="#000">Cell count</text>
<text transform="translate(797.32,964.20) scale(1.0228,1)" font-size="29.7" word-spacing="-3.5" fill="#000">Propidium Iodide</text>
<text transform="translate(1055.54,950.20) scale(0.975,1)" font-size="26.0" fill="#1a1a1a">(x <tspan dx="3.2">1000)</tspan></text>
<text transform="translate(1177.96,537.80) scale(0.9510,1)" font-size="44.69" font-weight="bold" fill="#000">f</text>
<line x1="1370.4" y1="656.6" x2="1370.4" y2="648.9" stroke="#333" stroke-width="1.6"/>
<line x1="1364.8" y1="648.9" x2="1376.0" y2="648.9" stroke="#333" stroke-width="1.6"/>
<rect x="1352.3" y="657.6" width="36.6" height="280.1" fill="#000" stroke="#000" stroke-width="2"/>
<line x1="1420.5" y1="675.9" x2="1420.5" y2="666.2" stroke="#333" stroke-width="1.6"/>
<line x1="1414.9" y1="666.2" x2="1426.1" y2="666.2" stroke="#333" stroke-width="1.6"/>
<rect x="1400.9" y="676.9" width="38.1" height="260.8" fill="#d9d9d9" stroke="#000" stroke-width="2"/>
<line x1="1469.4" y1="586.4" x2="1469.4" y2="575.2" stroke="#333" stroke-width="1.6"/>
<line x1="1464.1" y1="575.2" x2="1474.7" y2="575.2" stroke="#333" stroke-width="1.6"/>
<rect x="1451.6" y="587.4" width="37.9" height="350.3" fill="#a6a6a6" stroke="#000" stroke-width="2"/>
<line x1="1595.8" y1="881.8" x2="1595.8" y2="878.8" stroke="#333" stroke-width="1.6"/>
<line x1="1591.3" y1="878.8" x2="1600.3" y2="878.8" stroke="#333" stroke-width="1.6"/>
<rect x="1575.5" y="882.8" width="38.5" height="54.9" fill="#000" stroke="#000" stroke-width="2"/>
<line x1="1644.3" y1="866.3" x2="1644.3" y2="861.7" stroke="#333" stroke-width="1.6"/>
<line x1="1639.6" y1="861.7" x2="1649.1" y2="861.7" stroke="#333" stroke-width="1.6"/>
<rect x="1625.9" y="867.3" width="38.3" height="70.4" fill="#d9d9d9" stroke="#000" stroke-width="2"/>
<line x1="1694.5" y1="910.4" x2="1694.5" y2="905.6" stroke="#333" stroke-width="1.6"/>
<line x1="1690.0" y1="905.6" x2="1699.1" y2="905.6" stroke="#333" stroke-width="1.6"/>
<rect x="1674.9" y="911.4" width="38.3" height="26.3" fill="#a6a6a6" stroke="#000" stroke-width="2"/>
<line x1="1819.0" y1="848.5" x2="1819.0" y2="842.9" stroke="#333" stroke-width="1.6"/>
<line x1="1814.0" y1="842.9" x2="1824.1" y2="842.9" stroke="#333" stroke-width="1.6"/>
<rect x="1800.9" y="849.5" width="38.3" height="88.2" fill="#000" stroke="#000" stroke-width="2"/>
<line x1="1869.5" y1="849.2" x2="1869.5" y2="842.9" stroke="#333" stroke-width="1.6"/>
<line x1="1864.4" y1="842.9" x2="1874.5" y2="842.9" stroke="#333" stroke-width="1.6"/>
<rect x="1849.7" y="850.2" width="38.3" height="87.5" fill="#d9d9d9" stroke="#000" stroke-width="2"/>
<line x1="1918.2" y1="894.5" x2="1918.2" y2="885.2" stroke="#333" stroke-width="1.6"/>
<line x1="1913.2" y1="885.2" x2="1923.3" y2="885.2" stroke="#333" stroke-width="1.6"/>
<rect x="1899.7" y="895.5" width="38.3" height="42.2" fill="#a6a6a6" stroke="#000" stroke-width="2"/>
<line x1="1308.4" y1="557.5" x2="1308.4" y2="939.0" stroke="#000" stroke-width="2.9"/>
<line x1="1307" y1="937.7" x2="1982.6" y2="937.7" stroke="#000" stroke-width="2.8"/>
<text transform="translate(1275.68,943.46) scale(0.9600,1)" font-size="23.50" fill="#1a1a1a">0</text>
<text transform="translate(1263.16,901.18) scale(0.9600,1)" font-size="23.50" fill="#1a1a1a">10</text>
<text transform="translate(1263.16,858.90) scale(0.9600,1)" font-size="23.50" fill="#1a1a1a">20</text>
<text transform="translate(1263.16,816.62) scale(0.9600,1)" font-size="23.50" fill="#1a1a1a">30</text>
<text transform="translate(1263.16,774.35) scale(0.9600,1)" font-size="23.50" fill="#1a1a1a">40</text>
<text transform="translate(1263.16,732.07) scale(0.9600,1)" font-size="23.50" fill="#1a1a1a">50</text>
<text transform="translate(1263.16,689.79) scale(0.9600,1)" font-size="23.50" fill="#1a1a1a">60</text>
<text transform="translate(1263.16,647.51) scale(0.9600,1)" font-size="23.50" fill="#1a1a1a">70</text>
<text transform="translate(1263.16,605.24) scale(0.9600,1)" font-size="23.50" fill="#1a1a1a">80</text>
<text transform="translate(1263.16,562.96) scale(0.9600,1)" font-size="23.50" fill="#1a1a1a">90</text>
<text transform="translate(1234.07,900.78) rotate(-90) scale(1.0156,1)" font-size="29.20" fill="#000">Cell cycle distribution (%)</text>
<polyline points="1420.7,649.5 1420.7,560.2 1466,560.2" fill="none" stroke="#6e6e6e" stroke-width="2"/>
<text transform="translate(1428.60,557.92) scale(1.2362,1)" font-size="31.62" font-weight="bold" fill="#000">**</text>
<line x1="1642.7" y1="851" x2="1690" y2="851.3" stroke="#6e6e6e" stroke-width="2.2"/>
<text transform="translate(1658.43,847.75) scale(1.1739,1)" font-size="28.92" font-weight="bold" fill="#000">*</text>
<line x1="1869.5" y1="833.5" x2="1916.9" y2="833.9" stroke="#6e6e6e" stroke-width="2.2"/>
<text transform="translate(1884.82,829.67) scale(1.1805,1)" font-size="30.54" font-weight="bold" fill="#000">*</text>
<text transform="translate(1400.90,1037.09) rotate(-67) scale(0.9700,1)" font-size="31.00" fill="#000">G0/G1</text>
<text transform="translate(1647.34,984.38) rotate(-67) scale(0.9700,1)" font-size="31.00" fill="#000">S</text>
<text transform="translate(1854.34,1025.08) rotate(-67) scale(0.9700,1)" font-size="31.00" fill="#000">G2/M</text>
<rect x="1619.4" y="549" width="39.2" height="29" fill="#000" stroke="#000" stroke-width="2"/>
<rect x="1619.8" y="592.9" width="38.6" height="30.9" fill="#d9d9d9" stroke="#000" stroke-width="2"/>
<rect x="1620.9" y="641.7" width="39.1" height="30.9" fill="#a6a6a6" stroke="#000" stroke-width="2"/>
<text transform="translate(1670.04,571.30) scale(0.95,1)" font-size="31.1" fill="#000">Human CEnC</text>
<text transform="translate(1670.64,618.70) scale(0.95,1)" font-size="31.1" fill="#000">Rabbit CEnC</text>
<text transform="translate(1671.54,667.50) scale(0.95,1)" font-size="31.1" fill="#000">Rabbit confluent CEnC</text>
<defs><filter id="tex" x="0" y="0" width="100%" height="100%" color-interpolation-filters="sRGB"><feTurbulence type="fractalNoise" baseFrequency="0.09" numOctaves="3" seed="11" result="n"/><feColorMatrix in="n" type="matrix" values="0.3 0 0 0 0.585  0.3 0 0 0 0.578  0.3 0 0 0 0.594  0 0 0 0 1"/></filter><clipPath id="mc"><rect x="1741" y="47.5" width="241" height="317.3"/></clipPath></defs>
<rect x="1741" y="47.5" width="241" height="317.3" filter="url(#tex)"/>
<defs><filter id="bl" x="-5%" y="-5%" width="110%" height="110%"><feGaussianBlur stdDeviation="0.5"/></filter></defs>
<g clip-path="url(#mc)"><g filter="url(#bl)"><path d="M1783.7 209.1L1778.4 205.3M1771.6 265.9L1776.6 268.3M1917.1 351.3L1910.6 347.1M1975.7 109.6L1973.7 108.2M1983.7 176.0L1985.4 169.5M1757.8 344.4L1754.4 341.1M1984.9 154.4L1985.0 158.5M1842.5 275.5L1847.5 277.8M1951.8 251.7L1947.9 256.2M1801.5 183.6L1803.4 179.6M1969.7 41.3L1965.1 44.3M1925.2 321.5L1926.8 325.9M1916.5 325.2L1913.4 326.5M1932.7 319.2L1934.5 320.2M1924.6 214.9L1927.9 213.6M1932.0 221.1L1923.8 220.0M1770.6 244.9L1775.8 241.7M1861.6 76.7L1857.1 71.3M1861.9 299.7L1860.4 303.3M1826.3 208.2L1831.8 205.8M1785.3 177.6L1790.3 176.6M1821.2 111.2L1823.0 115.5M1851.5 62.2L1858.4 66.5M1944.6 130.9L1940.3 134.6M1833.4 153.4L1833.2 149.5M1921.9 222.3L1923.8 220.0M1973.3 225.6L1978.5 218.5M1865.4 140.6L1861.7 136.7M1806.6 264.1L1801.1 268.6M1771.2 132.1L1765.6 133.7M1875.8 109.8L1877.3 104.1M1928.8 199.5L1934.5 202.5M1769.6 156.1L1774.1 152.8M1776.1 63.8L1780.2 68.8M1896.1 362.8L1895.3 357.1M1756.9 176.5L1753.0 171.0M1985.6 200.7L1986.6 206.4M1848.9 142.6L1843.1 151.5M1897.3 349.2L1889.6 350.9M1769.6 156.1L1767.1 155.0M1826.2 162.6L1834.1 161.0M1802.2 222.1L1805.1 220.5M1814.1 232.2L1810.3 229.2M1958.1 238.8L1951.0 235.0M1856.0 276.3L1861.3 271.3M1816.8 215.3L1816.8 215.3M1872.3 357.3L1878.0 357.9M1844.3 318.2L1839.2 321.4M1808.4 356.6L1815.4 354.8M1743.0 297.7L1746.0 295.8M1761.9 215.9L1764.2 222.3M1899.7 353.2L1907.1 349.4M1790.4 239.6L1796.4 236.5M1829.7 178.1L1822.7 176.5M1811.9 154.9L1818.4 152.1M1861.0 107.3L1867.4 110.8M1855.7 50.7L1856.4 56.2M1863.8 200.3L1866.4 199.0M1746.3 202.3L1752.3 200.1M1763.1 189.0L1761.8 188.7M1819.1 92.2L1818.4 89.0M1896.1 48.0L1898.4 50.9M1907.7 87.4L1910.9 88.0M1873.4 83.8L1878.5 76.7M1956.0 359.5L1952.4 353.3M1950.5 145.8L1954.0 137.7M1868.6 102.7L1863.6 99.7M1806.2 141.1L1808.6 139.6M1815.7 71.6L1814.4 64.1M1874.4 174.8L1879.2 177.4M1983.1 87.8L1977.9 85.4M1745.0 140.1L1748.6 135.9M1867.6 275.3L1869.8 268.6M1775.4 198.3L1774.1 191.9M1810.3 229.2L1809.8 224.6M1954.6 135.2L1953.4 132.2M1970.2 139.6L1968.0 140.3M1875.8 109.8L1882.7 111.0M1956.2 89.0L1952.5 85.0M1854.0 347.2L1845.4 348.4M1771.7 126.7L1775.4 124.4M1846.9 340.9L1847.5 336.2M1865.8 325.3L1862.8 326.9M1782.5 362.2L1790.7 366.0M1983.8 253.3L1983.3 252.4M1986.5 335.4L1986.0 341.7M1885.8 45.3L1889.1 49.2M1920.8 208.3L1917.7 205.7M1954.6 135.2L1961.7 132.2M1859.9 88.9L1864.2 85.2M1927.0 199.9L1928.8 199.5M1960.9 185.2L1963.3 183.9M1921.0 291.3L1918.6 293.8M1894.5 258.9L1892.0 265.5M1804.7 159.5L1805.0 158.2M1858.0 291.7L1858.7 295.3M1818.9 349.3L1816.2 351.2M1859.9 88.9L1859.9 95.0M1742.5 275.2L1738.1 275.8M1779.3 185.0L1784.2 182.5M1812.5 117.0L1809.3 119.8M1805.3 100.0L1810.5 93.8M1985.8 98.6L1981.6 94.4M1978.2 72.0L1975.8 65.2M1766.2 238.8L1771.5 235.6M1877.9 65.7L1872.7 68.7M1845.2 140.2L1839.1 142.9M1956.4 210.3L1960.8 207.6M1943.6 338.4L1943.3 338.3M1783.5 94.0L1784.2 90.3M1742.4 196.6L1742.5 195.0M1855.8 266.0L1860.8 268.9M1773.6 231.3L1772.2 232.4M1803.5 326.2L1801.8 328.0M1862.1 199.6L1861.3 190.2M1838.1 72.0L1837.7 72.3M1745.1 96.5L1742.5 95.1M1896.1 362.8L1890.4 366.0M1891.4 126.1L1897.6 123.3M1965.9 243.4L1968.7 246.7M1772.0 142.7L1774.7 140.0M1926.7 187.1L1928.3 190.3M1778.4 205.3L1779.4 200.5M1799.1 238.3L1796.4 236.5M1797.1 42.5L1791.1 23.8M1911.8 273.9L1909.1 274.7M1976.7 201.6L1972.3 199.6M1934.8 117.0L1938.9 119.1M1930.9 284.7L1935.4 289.5M1745.1 311.5L1741.3 313.4M1794.0 318.9L1800.2 318.5M1746.0 295.8L1746.1 289.3M1964.5 60.5L1962.5 55.8M1925.2 338.5L1925.7 336.5M1977.1 79.9L1971.4 78.6M1741.5 212.0L1742.5 212.8M1827.5 326.0L1823.5 326.1M1870.8 252.6L1870.3 258.8M1969.1 262.1L1973.0 257.0M1780.9 142.4L1774.7 140.0M1969.1 354.5L1962.5 356.5M1963.4 343.0L1969.4 341.2M1925.5 249.0L1922.4 251.6M1748.1 146.0L1749.9 146.7M1934.5 320.2L1939.4 316.4M1828.5 102.1L1830.3 101.2M1811.2 181.2L1806.0 186.3M1773.8 73.5L1776.1 80.3M1790.4 239.6L1786.9 237.0M1841.0 187.8L1841.3 192.6M1811.5 164.3L1815.9 162.0M1854.8 167.2L1854.1 164.6M1918.2 95.0L1912.3 94.5M1938.4 349.3L1937.0 350.9M1764.7 320.2L1763.3 326.4M1862.1 199.6L1863.8 200.3M1975.0 131.7L1975.5 124.7M1925.4 81.8L1931.6 77.6M1952.1 100.4L1956.5 104.0M1902.1 343.0L1907.3 340.1M1969.2 52.3L1973.4 49.8M1973.1 358.6L1969.1 354.5M1892.0 356.5L1895.3 357.1M1853.4 185.1L1856.5 187.6M1760.5 177.8L1759.3 183.3M1799.5 80.5L1799.6 74.0M1867.6 275.3L1866.4 275.6M1941.9 366.9L1948.2 364.0M1777.2 288.5L1781.8 291.4M1968.4 279.9L1964.9 283.5M1905.1 152.2L1905.2 152.9M1834.6 88.3L1830.2 85.1M1824.0 237.2L1820.4 238.4M1966.8 239.3L1961.9 233.2M1912.3 94.5L1910.9 88.0M1841.0 56.1L1834.0 58.9M1922.6 50.2L1920.6 42.7M1927.9 213.6L1935.0 218.0M1936.5 139.7L1939.2 139.5M1789.7 125.5L1794.0 124.3M1966.8 239.3L1972.0 235.6M1814.4 64.1L1818.3 62.8M1930.1 296.4L1930.6 296.8M1783.6 346.3L1779.1 350.8M1860.9 43.5L1866.3 42.3M1855.2 260.8L1855.8 266.0M1796.5 231.6L1801.5 230.0M1816.6 304.6L1816.4 310.4M1914.5 259.5L1908.2 262.6M1747.8 108.8L1749.2 103.6M1965.0 197.5L1958.1 199.6M1975.6 59.6L1975.2 59.8M1874.3 261.2L1870.3 258.8M1868.3 170.5L1873.7 172.0M1971.9 253.6L1978.5 250.4M1734.4 267.5L1744.2 268.0M1769.2 329.4L1763.3 326.4M1943.3 100.3L1944.0 95.4M1976.5 334.7L1972.6 334.3M1820.3 110.6L1813.2 112.4M1837.3 272.1L1842.4 275.3M1792.7 286.4L1788.8 288.8M1874.7 235.4L1878.1 240.2M1863.6 99.7L1860.4 105.9M1973.4 226.0L1980.4 229.0M1746.8 289.0L1756.7 290.9M1861.4 346.6L1862.4 341.3M1799.0 131.2L1803.6 140.2M1935.5 160.6L1939.7 161.5M1848.0 259.6L1843.1 256.6M1899.4 266.8L1898.0 267.9M1776.1 318.7L1776.4 313.5M1901.3 132.1L1898.8 124.1M1889.3 161.6L1889.5 161.9M1784.2 197.2L1783.9 192.9M1907.2 186.0L1904.0 184.0M1982.2 106.5L1985.5 110.4M1848.5 52.7L1844.1 51.0M1829.7 322.9L1828.9 325.1M1887.8 329.3L1882.5 323.1M1788.5 99.7L1792.3 102.8M1770.8 201.6L1771.7 206.1M1831.3 148.1L1825.3 148.8M1976.3 244.3L1980.4 241.3M1926.3 65.8L1921.4 63.7M1878.8 125.8L1881.8 126.4M1863.7 161.7L1862.8 168.2M1864.7 339.9L1862.4 341.3M1898.0 192.4L1904.9 193.5M1758.2 271.9L1758.1 268.5M1880.3 335.6L1887.7 333.4M1890.7 57.0L1890.5 49.4M1898.0 57.3L1902.7 60.2M1931.6 333.9L1930.7 327.1M1910.0 244.8L1912.7 243.0M1787.2 51.7L1788.7 52.3M1775.8 240.5L1775.8 241.7M1736.2 350.9L1730.8 344.8M1888.6 191.9L1881.1 191.2M1933.9 276.3L1934.2 280.5M1752.5 265.7L1748.8 268.0M1934.4 127.6L1940.3 134.6M1818.4 152.1L1821.4 158.2M1916.9 85.3L1920.1 89.0M1860.9 289.6L1858.0 291.7M1912.2 213.2L1912.2 209.0M1961.3 320.9L1964.3 328.7M1851.0 269.4L1851.2 274.6M1775.0 43.4L1776.0 44.2M1830.5 129.5L1825.4 132.8M1773.4 211.7L1768.7 215.2M1950.1 95.1L1954.3 93.0M1907.3 340.1L1912.2 343.3M1841.1 251.7L1842.8 253.2M1910.6 347.1L1912.2 343.3M1793.9 212.8L1795.1 214.8M1752.3 200.1L1749.5 193.6M1918.8 251.0L1922.4 251.6M1788.9 115.5L1784.0 117.9M1960.9 185.2L1960.8 188.8M1924.2 74.2L1928.1 72.4M1762.2 41.7L1757.1 44.3M1793.8 259.9L1791.4 260.6M1964.9 77.4L1964.6 73.1M1801.6 329.7L1801.8 328.0M1826.1 64.3L1831.9 64.0M1896.1 94.2L1889.5 97.8M1835.6 78.6L1837.7 72.3M1916.9 85.3L1910.9 88.0M1960.8 99.6L1954.3 93.0M1780.1 157.1L1774.1 152.8M1827.5 270.4L1832.7 276.9M1886.4 252.9L1882.3 251.4M1809.6 177.8L1814.0 173.7M1925.7 305.4L1924.8 311.6M1848.6 55.8L1842.9 58.6M1935.5 160.6L1929.9 163.3M1809.6 317.2L1814.3 320.4M1875.8 296.1L1874.2 290.6M1956.6 117.0L1957.5 125.1M1930.0 208.8L1927.9 213.6M1952.0 263.8L1946.7 267.4M1981.9 329.8L1982.3 328.4M1864.3 206.0L1863.8 200.3M1977.1 79.9L1977.9 85.4M1756.0 50.4L1762.2 53.1M1807.6 305.2L1807.0 311.9M1735.5 162.1L1740.2 153.5M1912.7 362.0L1908.1 364.7M1981.3 208.6L1980.1 214.4M1771.2 56.8L1768.4 58.2M1834.6 88.3L1834.2 91.4M1944.4 145.9L1944.4 145.9M1751.4 58.6L1750.6 62.2M1851.7 356.6L1850.6 358.5M1886.5 80.6L1887.0 72.6M1809.4 78.0L1813.3 81.2M1938.3 86.9L1935.0 83.1M1861.8 315.8L1861.2 314.4M1862.9 118.1L1865.9 116.4M1775.0 303.4L1774.7 298.5M1821.2 111.2L1820.3 110.6M1930.7 327.1L1926.8 325.9M1758.9 118.9L1754.9 118.0M1906.7 198.7L1909.2 199.4M1899.2 184.7L1904.0 184.0M1984.3 130.4L1979.9 133.5M1757.5 154.4L1758.6 150.4M1834.5 139.4L1830.5 140.6M1751.9 282.7L1745.4 278.7M1889.8 273.5L1892.1 274.6M1757.5 196.8L1763.7 199.4M1847.9 320.1L1844.3 318.2M1905.6 207.8L1909.1 207.2M1882.9 56.1L1882.6 54.2M1878.0 357.9L1879.8 365.3M1913.0 301.6L1908.0 295.7M1891.8 114.4L1898.4 118.6M1890.5 49.4L1889.1 49.2M1880.3 335.6L1878.0 334.4M1831.4 311.2L1833.9 312.2M1735.5 162.1L1741.1 165.0M1963.5 346.0L1963.4 343.0M1890.1 172.9L1894.4 168.2M1899.4 155.1L1901.1 155.7M1819.6 134.8L1818.0 140.1M1876.8 327.3L1869.1 327.7M1877.9 65.7L1876.0 60.3M1877.0 326.9L1876.8 327.3M1884.9 134.1L1886.1 138.6M1799.2 192.9L1800.2 197.0M1841.0 56.1L1841.1 53.0M1812.5 117.0L1819.0 120.5M1926.3 65.8L1930.5 62.3M1763.2 127.0L1767.3 124.1M1755.0 48.6L1757.1 44.3M1771.1 162.4L1772.7 162.8M1905.0 139.0L1910.4 145.0M1828.2 298.4L1830.0 296.7M1959.4 65.3L1958.1 64.6M1794.6 208.5L1795.9 207.2M1968.2 290.7L1974.1 289.6M1934.6 323.4L1934.5 320.2M1904.4 42.2L1909.8 40.8M1766.6 319.2L1764.7 320.2M1980.8 229.5L1976.8 235.4M1976.8 235.4L1980.4 241.3M1753.2 236.7L1755.3 229.8M1828.2 298.4L1827.8 302.8M1842.4 275.3L1845.5 266.8M1885.9 229.6L1884.0 230.5M1968.9 310.3L1964.3 312.1M1977.6 50.9L1973.4 49.8M1905.8 221.2L1906.6 220.8M1878.0 357.9L1882.4 355.0M1900.3 142.7L1905.1 152.2M1753.7 364.4L1757.7 409.1M1780.1 157.1L1784.4 152.5M1745.1 96.5L1746.3 100.3M1795.4 146.9L1800.0 149.6M1817.3 271.2L1816.4 268.5M1915.4 341.5L1912.2 343.3M1941.4 249.8L1941.9 246.0M1886.6 239.8L1888.6 243.3M1852.6 109.2L1849.3 112.1M1932.0 221.1L1935.0 218.7M1807.8 243.6L1809.6 242.6M1937.8 178.3L1940.5 176.1M1783.4 163.4L1790.9 161.2M1926.5 206.1L1920.8 208.3M1735.5 312.1L1741.3 313.4M1780.1 42.6L1790.3 -51.3M1952.2 201.7L1956.5 198.9M1806.9 176.9L1803.8 170.8M1863.7 367.2L1859.9 472.8M1864.1 243.4L1859.9 242.1M1773.6 231.3L1780.1 232.4M1831.8 205.8L1831.2 200.0M1891.4 64.7L1894.0 62.9M1955.3 77.7L1953.2 80.0M1835.4 297.7L1836.7 302.9M1784.0 117.9L1781.3 116.4M1888.6 334.1L1897.3 332.2M1771.6 260.9L1777.7 258.2M1941.8 168.6L1947.4 168.5M1744.8 156.5L1740.2 153.5M1951.4 246.9L1949.7 245.5M1893.9 311.9L1895.3 312.5M1854.8 167.2L1857.6 170.5M1830.5 115.7L1828.6 117.4M1847.6 42.4L1844.1 45.1M1869.7 347.8L1867.6 341.0M1763.1 157.3L1767.1 155.0M1943.1 258.3L1943.1 266.5M1847.6 42.4L1851.4 43.6M1983.5 365.3L1984.1 364.3M1852.1 253.6L1849.1 250.2M1749.4 49.0L1747.1 51.6M1823.9 66.0L1823.5 71.5M1887.8 123.3L1891.4 126.1M1740.6 123.5L1741.5 118.5M1956.6 328.8L1958.4 333.3M1905.9 178.2L1909.7 176.4M1889.3 161.6L1890.3 157.9M1870.2 214.6L1875.6 217.1M1844.3 77.6L1843.9 74.0M1858.4 159.8L1854.1 164.6M1802.6 312.6L1807.0 311.9M1943.0 142.0L1939.2 139.5M1957.5 125.1L1961.8 126.4M1795.7 221.6L1792.3 223.7M1956.5 104.0L1955.8 105.8M1835.7 43.9L1834.2 49.3M1985.5 110.4L1997.6 106.6M1853.4 341.8L1855.6 339.3M1965.1 44.3L1965.9 51.3M1831.2 259.5L1834.9 257.8M1860.4 105.9L1853.3 102.6M1865.6 177.4L1862.7 178.5M1761.9 215.9L1765.4 213.8M1772.0 175.3L1771.9 171.9M1820.9 246.5L1817.6 243.8M1959.1 288.9L1954.8 286.1M1745.3 71.5L1742.0 73.0M1956.6 184.0L1952.5 185.3M1816.6 304.6L1809.3 304.3M1878.4 154.3L1879.6 148.4M1877.9 285.6L1883.0 279.3M1938.3 363.8L1933.1 364.9M1780.2 68.8L1780.2 69.4M1938.7 182.7L1942.1 185.1M1946.3 304.5L1952.4 306.3M1814.4 172.8L1821.3 170.2M1919.5 160.5L1921.2 169.1M1739.8 184.6L1739.3 179.2M1966.8 171.0L1967.2 177.1M1835.5 43.6L1835.7 43.9M1797.1 42.5L1800.1 43.0M1976.4 95.7L1975.0 100.7M1809.3 119.8L1803.3 116.0M1733.5 72.7L1742.0 73.0M1750.2 124.4L1753.6 129.3M1846.6 161.9L1840.9 160.0M1790.4 279.7L1790.1 276.7M1897.5 198.1L1900.5 202.1M1827.5 270.4L1828.5 266.9M1843.0 228.6L1847.8 231.4M1797.6 185.0L1793.9 182.2M1857.3 117.6L1857.4 111.1M1768.0 286.8L1773.6 291.0M1894.4 168.2L1893.9 165.0M1731.2 136.0L1737.0 130.9M1945.1 227.9L1945.4 223.2M1739.3 179.2L1745.4 175.0M1774.9 120.4L1775.4 124.4M1980.6 316.1L1977.1 309.5M1955.8 105.8L1960.0 112.8M1937.7 229.9L1937.5 221.3M1825.7 58.7L1823.1 56.6M1857.1 71.3L1858.4 66.5M1969.6 67.0L1969.4 68.9M1895.1 319.9L1893.2 321.5M1948.3 181.7L1952.5 185.3M1975.6 59.6L1982.1 59.7M1945.4 223.2L1944.7 221.9M1766.6 357.0L1763.8 355.5M1931.4 151.8L1931.3 147.7M1809.7 47.0L1815.2 41.7M1760.6 363.7L1762.8 379.0M1934.2 280.5L1930.8 283.4M1840.0 238.1L1843.4 239.0M1938.7 302.9L1938.4 297.2M1921.8 181.5L1924.3 179.7M1816.4 310.4L1808.5 313.4M1846.8 65.2L1843.3 63.7M1878.3 198.8L1874.1 201.8M1912.9 60.7L1917.6 54.3M1773.8 358.8L1780.5 356.4M1986.0 341.7L1982.8 343.2M1780.9 142.4L1784.7 135.2M1969.1 94.3L1968.5 100.6M1838.0 290.3L1830.5 291.8M1795.4 146.9L1794.3 147.8M1760.0 125.7L1763.2 127.0M1795.6 142.6L1792.7 139.6M1767.6 120.4L1767.3 124.1M1785.3 177.6L1784.2 182.5M1790.3 176.6L1793.4 178.3M1955.8 105.8L1949.6 109.5M1739.2 45.6L1739.8 50.8M1976.4 294.8L1974.7 290.0M1777.6 282.6L1772.9 280.5M1819.5 316.3L1814.3 320.4M1825.2 168.6L1831.8 171.3M1934.5 57.8L1931.4 59.6M1771.7 126.7L1771.2 132.1M1893.9 148.3L1900.3 142.7M1839.2 321.4L1836.6 320.0M1852.5 317.7L1847.9 320.1M1867.6 341.0L1864.7 339.9M1831.5 51.6L1834.2 49.3M1844.3 318.2L1843.9 315.4M1903.3 258.6L1904.5 253.5M1809.8 224.6L1805.1 220.5M1814.4 64.1L1810.2 63.0M1981.3 138.7L1986.5 142.6M1980.2 151.1L1980.3 148.8M1890.9 177.5L1890.1 172.9M1856.5 187.6L1857.4 187.6M1838.2 221.3L1835.1 222.5M1769.2 329.4L1767.7 335.3M1875.0 145.5L1874.5 140.3M1823.8 335.5L1818.5 330.3M1859.9 242.1L1858.8 235.7M1923.8 131.0L1929.8 135.8M1816.2 282.5L1810.8 283.0M1818.7 59.5L1815.0 53.6M1927.6 292.1L1921.0 291.3M1947.8 109.1L1943.7 111.3M1871.7 161.7L1876.7 154.9M1936.0 80.9L1935.5 81.2M1934.8 265.0L1939.7 267.9M1941.4 230.1L1937.7 229.9M1765.1 133.2L1765.6 133.7M1888.6 191.9L1897.8 192.1M1940.9 73.2L1943.7 72.7M1948.4 330.4L1941.9 327.2M1851.9 60.0L1848.6 55.8M1811.3 110.0L1813.2 112.4M1891.6 294.6L1896.3 298.4M1813.3 81.2L1817.4 80.2M1787.9 221.2L1781.9 225.5M1775.0 303.4L1770.4 309.5M1799.5 80.5L1804.9 81.9M1918.6 295.9L1918.6 293.8M1835.8 332.4L1832.3 334.7M1946.5 256.4L1947.9 256.2M1780.5 356.4L1779.1 350.8M1972.4 281.9L1974.1 289.6M1835.4 240.0L1834.9 244.5M1740.1 222.3L1744.1 220.5M1840.7 265.3L1839.1 259.2M1770.1 221.4L1767.1 223.0M1737.4 82.0L1739.9 80.0M1827.4 75.7L1822.0 83.0M1901.2 116.8L1898.4 118.6M1883.6 71.0L1878.7 76.7M1840.6 353.4L1841.4 351.2M1959.2 171.2L1955.9 168.7M1890.7 57.0L1895.1 58.9M1985.8 42.3L1981.0 42.3M1801.4 301.7L1807.6 305.2M1966.5 108.7L1964.2 103.0M1891.2 244.2L1888.6 243.3M1941.2 148.7L1932.1 147.1M1921.6 212.1L1924.6 214.9M1819.3 229.2L1824.2 230.0M1892.3 214.8L1892.2 222.1M1902.7 358.1L1899.4 354.5M1908.2 262.6L1908.4 264.7M1979.9 133.5L1981.3 138.7M1793.6 283.2L1797.7 281.8M1873.4 83.8L1868.8 77.9M1756.6 207.4L1750.5 208.8M1918.0 320.3L1916.5 325.2M1958.4 365.3L1958.2 394.3M1937.5 221.3L1935.0 218.7M1739.4 105.0L1746.3 100.3M1974.4 63.8L1969.6 67.0M1822.1 318.3L1823.5 326.1M1980.1 77.1L1987.5 79.6M1920.4 283.8L1921.0 291.3M1861.2 228.3L1860.2 222.9M1863.9 65.9L1869.0 65.1M1897.6 288.2L1898.0 282.7M1901.2 116.8L1903.6 116.6M1894.4 242.7L1895.4 238.5M1857.0 174.4L1862.7 178.5M1800.4 243.9L1807.8 243.6M1897.5 198.1L1889.8 200.0M1751.5 311.5L1754.8 305.2M1787.2 200.0L1784.2 197.2M1825.4 132.8L1823.5 132.6M1807.8 290.0L1814.4 291.7M1794.0 74.7L1790.5 70.2M1870.1 138.9L1874.5 140.3M1861.7 136.7L1857.1 129.1M1808.5 313.4L1807.0 311.9M1817.4 207.5L1814.2 204.3M1924.6 97.8L1924.6 102.8M1956.6 117.0L1953.3 116.1M1847.2 192.8L1844.5 194.7M1789.5 184.8L1784.2 182.5M1830.9 247.7L1825.9 242.9M1822.6 289.2L1821.0 295.2M1854.0 347.2L1853.4 341.8M1833.0 237.8L1832.9 231.0M1783.4 163.4L1782.6 168.9M1755.3 229.8L1757.4 228.5M1917.2 113.0L1917.0 112.0M1740.6 123.5L1745.4 126.7M1828.5 257.0L1820.9 261.5M1842.2 170.0L1844.7 168.9M1921.8 105.9L1927.7 112.6M1891.6 294.6L1887.1 300.4M1874.1 201.8L1866.4 199.0M1922.0 357.4L1923.1 363.8M1931.0 273.1L1933.9 276.3M1958.6 243.3L1961.3 251.9M1967.9 146.2L1968.0 140.3M1917.9 189.6L1913.5 191.9M1837.1 311.4L1833.9 312.2M1978.7 305.4L1974.1 302.3M1736.8 191.8L1738.3 186.0M1981.5 122.1L1984.6 128.0M1858.0 250.5L1852.1 253.6M1916.4 267.2L1917.1 260.8M1926.5 206.1L1930.0 208.8M1893.2 80.5L1895.8 78.6M1744.5 356.1L1743.4 356.5M1734.9 220.0L1740.1 222.3M1739.7 228.6L1744.2 230.2M1934.0 153.6L1931.4 151.8M1745.4 126.7L1743.7 131.4M1782.3 244.8L1785.2 237.2M1757.5 196.8L1753.0 200.3M1745.3 71.5L1744.1 65.5M1889.2 99.6L1889.5 97.8M1882.8 296.6L1885.0 290.6M1748.0 55.5L1747.1 51.6M1841.4 351.2L1844.7 349.6M1950.2 206.1L1952.2 201.7M1790.7 303.7L1793.4 296.8M1912.2 209.0L1917.7 205.7M1900.2 173.3L1905.9 178.2M1884.8 305.9L1887.9 304.1M1786.9 237.0L1789.6 230.3M1961.0 101.3L1956.5 104.0M1815.9 162.0L1811.9 154.9M1766.6 357.0L1768.0 362.3M1744.1 220.5L1747.5 222.4M1771.7 276.9L1774.2 274.6M1954.8 153.6L1953.3 155.0M1816.8 215.3L1823.6 216.3M1767.3 344.0L1763.0 341.5M1817.3 342.2L1814.6 335.9M1751.5 184.9L1753.3 190.4M1892.7 325.0L1898.5 329.0M1814.4 291.7L1817.8 285.9M1975.0 100.7L1974.0 101.6M1825.7 49.9L1822.9 52.4M1798.3 354.2L1802.2 355.8M1868.8 77.9L1872.4 72.7M1872.2 183.9L1866.3 184.8M1947.9 256.2L1952.0 263.8M1779.1 99.8L1783.0 106.2M1782.5 362.2L1782.7 358.0M1854.1 164.6L1848.4 161.1M1881.7 251.7L1882.3 251.4M1969.6 264.9L1963.3 267.2M1768.6 95.3L1768.3 95.1M1737.7 53.2L1737.2 56.1M1978.0 216.8L1980.1 214.4M1883.1 171.1L1882.4 174.8M1888.6 191.9L1888.6 191.9M1959.7 155.1L1961.7 162.4M1979.2 72.5L1978.2 72.0M1864.7 356.3L1865.7 350.2M1783.3 214.3L1785.7 215.9M1920.8 208.3L1921.6 212.1M1825.7 58.7L1826.1 64.3M1942.1 185.1L1948.3 181.7M1968.5 250.6L1971.9 253.6M1792.3 102.8L1791.6 108.2M1961.7 266.4L1963.3 267.2M1833.9 312.2L1836.6 320.0M1793.6 283.2L1792.7 286.4M1835.9 185.3L1831.7 186.9M1754.8 140.7L1756.6 140.0M1876.7 154.9L1878.4 154.3M1836.4 267.9L1840.7 265.3M1888.9 153.3L1890.3 157.9M1871.7 161.7L1878.4 165.5M1986.5 325.5L1987.4 320.6M1811.6 104.1L1817.2 101.2M1889.7 204.9L1889.8 200.0M1763.4 350.1L1763.8 355.5M1797.6 161.3L1796.8 155.0M1959.0 295.3L1956.3 297.5M1815.7 71.6L1819.4 73.0M1754.8 161.3L1750.0 161.9M1982.0 273.1L1978.4 276.0M1922.4 251.6L1922.6 259.7M1924.7 229.9L1930.4 228.3M1799.0 57.6L1800.4 58.3M1750.3 254.8L1755.8 251.2M1736.7 290.7L1742.7 286.9M1770.4 183.7L1771.6 191.6M1924.6 102.8L1922.1 105.0M1973.1 72.8L1978.2 72.0M1947.9 177.5L1948.3 181.7M1821.8 304.8L1823.6 311.8M1805.3 100.0L1811.6 104.1M1876.6 137.6L1874.5 140.3M1845.1 342.2L1840.1 340.2M1962.7 320.2L1964.3 312.1M1818.9 349.3L1822.7 350.5M1837.9 216.3L1838.2 221.3M1831.9 64.0L1832.0 71.2M1826.1 86.4L1825.9 92.0M1848.5 292.1L1843.7 287.2M1749.5 180.5L1749.7 183.8M1779.9 159.1L1780.1 157.1M1794.8 201.7L1795.9 207.2M1781.9 225.5L1782.3 227.6M1747.7 212.9L1753.8 217.9M1949.7 245.5L1948.7 237.8M1819.5 183.5L1816.2 184.8M1966.1 296.1L1959.0 295.3M1826.3 252.8L1828.5 257.0M1801.4 301.7L1799.1 304.2M1739.8 184.6L1745.3 186.5M1907.2 186.0L1912.6 182.7M1866.7 308.6L1871.8 304.3M1925.7 336.5L1921.5 331.8M1941.9 246.0L1938.4 243.1M1867.3 159.5L1871.0 161.7M1904.4 95.3L1910.5 97.4M1900.3 364.8L1896.1 362.8M1747.5 170.9L1753.0 171.0M1959.4 141.1L1965.4 139.0M1937.5 221.3L1944.7 221.9M1737.3 322.0L1741.0 318.6M1764.1 110.3L1758.4 108.3M1862.9 212.5L1866.0 216.0M1898.5 109.6L1895.3 107.8M1793.5 365.1L1794.3 363.1M1955.5 350.1L1954.6 342.1M1847.7 219.5L1853.0 224.0M1882.7 111.0L1885.2 117.2M1787.2 86.7L1794.2 89.8M1766.4 197.7L1770.8 201.6M1789.8 335.8L1793.2 333.9M1755.9 101.0L1756.2 100.4M1844.2 124.0L1846.3 118.0M1934.3 95.1L1939.2 93.9M1914.1 77.5L1917.7 81.7M1746.7 42.8L1747.1 43.2M1774.7 349.0L1779.1 350.8M1784.7 64.0L1790.6 63.6M1764.2 222.3L1767.1 223.0M1790.1 276.7L1783.2 273.6M1757.0 282.4L1762.8 279.2M1905.5 273.6L1909.1 274.7M1777.6 84.3L1784.2 90.3M1803.6 259.4L1797.4 262.1M1983.5 365.3L1978.2 365.5M1894.5 258.9L1886.8 260.3M1792.7 286.4L1797.7 291.8M1889.5 97.8L1885.6 92.6M1809.2 197.3L1814.1 200.2M1916.2 219.3L1921.9 222.3M1863.2 126.3L1865.8 127.4M1755.0 48.6L1749.4 49.0M1916.4 41.9L1914.1 43.1M1767.3 344.0L1770.6 338.9M1825.1 214.4L1826.3 208.2M1770.5 72.5L1773.8 73.5M1929.8 135.8L1930.4 135.7M1756.5 215.5L1754.3 217.9M1909.7 176.4L1906.9 169.1M1840.1 206.7L1834.0 207.5M1922.5 197.9L1922.3 195.7M1761.7 141.8L1756.6 140.0M1808.6 139.6L1815.0 141.1M1770.7 51.7L1776.0 45.2M1898.9 185.1L1899.2 184.7M1965.6 212.4L1969.8 215.9M1822.9 52.4L1817.6 52.1M1874.2 131.1L1869.5 133.7M1878.5 167.3L1873.7 172.0M1819.4 73.0L1823.5 71.5M1855.1 118.6L1854.4 124.9M1986.7 185.7L1988.2 190.6M1758.1 268.5L1752.5 265.7M1888.7 198.6L1889.8 200.0M1940.5 176.1L1947.9 177.5M1988.2 190.6L1982.0 196.1M1929.2 87.9L1929.6 88.0M1945.4 282.6L1949.7 279.4M1930.6 296.8L1929.7 302.4M1856.4 56.2L1861.9 58.8M1878.7 76.7L1878.5 76.7M1740.3 149.5L1739.9 153.1M1840.0 84.7L1834.6 88.3M1870.2 359.0L1870.9 364.0M1966.7 320.5L1962.7 320.2M1971.8 316.9L1971.0 311.9M1785.6 304.1L1780.4 306.2M1826.3 222.7L1825.9 222.4M1814.5 147.7L1818.6 151.1M1938.4 243.1L1938.5 241.0M1849.1 250.2L1842.8 253.2M1897.6 123.3L1898.8 124.1M1772.1 321.3L1772.1 327.8M1944.5 322.1L1941.9 327.2M1958.1 64.6L1955.5 58.4M1847.5 336.2L1853.8 333.5M1912.9 62.7L1918.3 65.1M1817.5 256.9L1820.9 261.5M1955.5 195.4L1956.5 198.9M1844.8 135.2L1845.2 140.2M1766.7 105.5L1769.9 98.8M1783.2 282.5L1786.1 288.3M1989.7 78.0L1985.1 68.4M1939.9 62.7L1943.9 65.3M1827.1 74.6L1823.5 71.5M1878.1 273.7L1882.9 277.6M1783.7 209.1L1786.1 207.1M1893.3 138.0L1900.4 142.5M1935.3 236.4L1936.3 230.7M1965.3 303.3L1966.3 296.5M1962.0 230.5L1962.5 230.3M1912.9 268.4L1911.8 273.9M1939.7 161.5L1942.9 158.5M1767.7 335.3L1770.6 338.6M1870.1 332.9L1864.6 335.8M1963.7 149.1L1967.9 146.2M1744.1 220.5L1742.5 212.8M1788.0 81.1L1784.9 78.6M1876.9 267.6L1878.1 268.6M1767.6 192.9L1771.6 191.6M1785.1 146.4L1783.4 147.4M1773.6 251.0L1776.9 251.5M1856.8 313.4L1853.9 314.1M1802.2 161.4L1804.7 159.5M1810.8 167.5L1814.4 172.8M1821.6 252.2L1820.9 246.5M1833.9 62.8L1831.9 64.0M1777.0 333.0L1780.5 335.9M1968.5 116.2L1967.4 109.2M1817.5 256.9L1812.9 259.7M1843.1 151.5L1842.9 151.5M1908.0 295.7L1908.9 290.3M1873.2 99.7L1877.3 104.1M1776.1 318.7L1778.5 320.2M1908.1 53.9L1908.3 51.2M1925.4 236.4L1921.7 238.7M1940.9 167.8L1941.8 168.6M1772.7 297.0L1773.6 291.0M1780.2 68.8L1784.7 64.0M1738.1 275.8L1736.0 281.7M1879.4 303.9L1875.4 305.9M1815.0 141.1L1818.0 140.1M1903.3 315.0L1908.3 307.6M1832.5 155.0L1833.4 153.4M1841.1 251.7L1836.1 252.4M1801.5 230.0L1802.2 222.1M1899.6 296.4L1899.9 289.7M1804.6 232.5L1810.3 229.2M1858.0 291.7L1852.4 290.4M1762.2 41.7L1764.7 43.9M1800.9 346.7L1806.7 350.3M1731.4 332.1L1737.7 336.4M1976.0 142.8L1981.3 138.7M1977.6 356.0L1981.5 356.4M1778.6 111.0L1774.0 110.0M1815.4 354.8L1816.2 351.2M1949.3 59.6L1952.4 56.4M1810.0 344.6L1817.3 342.2M1736.6 98.4L1739.4 105.0M1834.0 207.5L1831.8 205.8M1758.8 89.0L1764.0 85.2M1853.3 208.6L1848.0 207.0M1930.8 184.3L1930.7 179.4M1763.2 127.0L1765.1 133.2M1900.2 98.6L1900.2 100.2M1792.7 44.6L1787.9 40.6M1935.0 186.2L1930.8 184.3M1843.8 286.6L1838.6 280.3M1975.5 171.0L1980.7 167.4M1917.3 158.8L1921.7 152.3M1936.4 356.0L1937.0 350.9M1952.1 39.0L1946.9 44.4M1757.0 259.9L1757.9 252.5M1974.4 63.8L1975.8 65.2M1741.8 253.6L1742.9 252.7M1788.7 170.3L1793.6 167.1M1809.6 242.6L1811.9 244.3M1848.2 101.4L1853.1 102.3M1861.3 190.2L1857.4 187.6M1985.9 353.2L1986.0 352.7M1972.7 88.0L1977.9 85.4M1819.9 102.4L1817.2 101.2M1868.9 192.6L1865.3 190.2M1979.1 50.2L1981.0 42.3M1795.8 132.4L1798.0 130.6M1830.4 94.5L1825.9 92.0M1837.7 72.3L1832.0 71.2M1927.0 199.9L1922.5 197.9M1861.9 58.8L1861.2 64.8M1793.4 343.7L1789.3 338.7M1768.0 183.2L1770.4 183.7M1886.5 107.0L1882.7 111.0M1882.3 66.9L1883.6 71.0M1884.8 265.2L1878.1 268.6M1742.7 286.9L1742.0 284.3M1817.6 303.8L1821.8 304.8M1755.1 275.5L1751.3 273.8M1861.9 299.7L1858.7 295.3M1753.6 129.3L1748.6 134.5M1920.8 274.0L1925.3 275.9M1766.1 302.2L1767.6 297.7M1763.1 157.3L1757.5 154.4M1912.2 213.2L1907.8 216.1M1920.6 42.7L1916.4 41.9M1809.6 317.2L1803.8 322.3M1781.7 169.9L1782.6 168.9M1852.7 146.8L1850.8 154.0M1966.3 296.5L1973.5 299.0M1880.2 258.0L1884.7 263.4M1801.2 110.0L1802.0 110.7M1765.4 138.9L1765.6 133.7M1768.3 95.1L1765.6 95.4M1789.7 125.5L1788.0 131.0M1878.3 198.8L1879.5 199.5M1920.8 274.0L1921.5 270.4M1929.9 163.3L1929.1 168.9M1852.6 109.2L1853.3 102.6M1857.4 111.1L1852.6 109.2M1972.8 92.8L1976.4 95.7M1840.6 353.4L1846.1 359.0M1908.8 161.9L1913.5 162.6M1911.3 222.8L1916.2 219.3M1866.0 216.0L1870.2 214.6M1952.1 39.0L1958.8 44.1M1943.3 57.4L1949.3 59.6M1977.3 207.0L1981.3 208.6M1806.1 147.7L1800.0 149.6M1845.0 266.1L1848.0 259.6M1893.3 138.0L1894.0 132.5M1737.5 43.4L1739.2 45.6M1917.3 171.4L1916.8 173.8M1797.1 125.6L1798.0 130.6M1824.2 41.6L1823.2 42.8M1900.7 68.9L1903.9 62.9M1959.8 69.7L1959.4 65.3M1915.4 341.5L1914.6 335.9M1886.7 315.0L1886.4 319.0M1785.2 237.2L1782.3 236.0M1937.8 178.3L1934.0 176.9M1917.3 158.8L1917.2 158.8M1864.6 335.8L1863.1 333.6M1981.5 267.5L1984.7 265.0M1858.8 235.7L1857.8 234.8M1857.8 234.8L1852.2 236.3M1853.8 283.8L1857.8 281.5M1802.4 207.9L1795.9 207.2M1796.5 231.6L1792.0 228.3M1938.3 363.8L1939.6 359.0M1754.8 161.3L1755.9 155.6M1946.0 86.4L1938.3 86.9M1907.1 333.6L1904.0 328.9M1970.9 41.8L1969.7 41.3M1946.5 256.4L1941.4 249.8M1745.5 204.0L1750.5 208.8M1785.2 237.2L1786.9 237.0M1932.3 108.3L1927.7 112.6M1785.7 215.9L1787.9 221.2M1956.2 89.0L1954.3 93.0M1930.1 104.1L1932.3 108.3M1800.3 63.8L1807.2 66.9M1762.6 116.5L1767.6 120.4M1862.1 148.7L1861.3 151.8M1800.3 73.1L1799.6 74.0M1836.1 252.4L1834.9 257.8M1873.7 39.8L1878.2 46.1M1823.5 326.1L1818.5 328.6M1936.0 343.3L1938.4 349.3M1904.2 241.7L1899.4 246.6M1780.5 356.4L1782.7 358.0M1756.5 282.1L1751.9 282.7M1867.9 238.0L1874.7 235.4M1783.2 282.5L1780.7 281.3M1856.8 313.4L1857.4 304.0M1878.4 165.5L1878.5 167.3M1912.8 304.0L1908.3 307.1M1816.8 215.3L1810.3 215.3M1748.2 77.5L1746.5 79.7M1803.6 140.2L1795.6 142.6M1935.0 218.0L1935.0 218.7M1879.6 148.4L1880.9 147.9M1868.6 102.7L1873.2 99.7M1948.2 364.0L1949.0 364.3M1985.6 66.7L1985.3 66.4M1747.8 73.2L1753.5 71.3M1819.9 180.7L1814.0 173.7M1788.8 288.8L1789.7 294.6M1796.2 325.5L1801.8 328.0M1903.7 228.4L1900.9 230.4M1786.1 288.3L1781.8 291.4M1921.7 152.3L1921.3 150.3M1899.4 155.1L1890.3 157.9M1869.7 228.2L1869.8 225.2M1810.8 167.5L1803.8 170.8M1741.3 313.4L1741.0 318.6M1825.9 222.4L1823.6 216.3M1828.5 266.9L1821.5 264.1M1780.9 173.5L1785.3 177.6M1771.5 235.6L1772.2 232.4M1827.0 341.6L1827.5 348.0M1847.6 70.1L1843.9 74.0M1924.2 74.2L1921.3 79.9M1908.1 154.1L1908.8 161.9M1964.3 328.7L1963.0 333.1M1780.4 127.2L1781.0 132.0M1809.3 304.3L1807.6 305.2M1964.4 93.0L1962.6 88.7M1861.7 136.7L1866.3 132.9M1775.2 167.6L1771.9 171.9M1907.0 131.5L1906.6 124.4M1873.2 96.6L1876.0 94.7M1901.0 161.3L1904.5 164.8M1749.4 153.2L1755.9 155.6M1976.6 319.1L1980.6 316.1M1971.1 149.0L1976.4 145.3M1808.6 190.9L1807.3 190.1M1982.0 221.5L1987.0 220.5M1898.2 81.5L1905.9 82.3M1844.5 194.7L1841.3 192.6M1952.6 263.9L1956.3 268.8M1965.4 195.2L1960.8 188.8M1755.1 275.5L1756.5 282.1M1736.5 128.2L1737.0 130.9M1924.2 127.4L1923.8 131.0M1746.8 341.9L1745.7 336.6M1929.4 252.0L1930.7 259.1M1763.0 56.0L1759.2 59.4M1747.8 73.2L1748.2 77.5M1960.6 43.3L1965.1 44.3M1972.0 334.6L1963.0 333.1M1982.0 273.1L1981.5 267.5M1767.1 348.1L1763.4 350.1M1792.6 270.0L1798.5 266.9M1768.0 286.8L1768.8 284.6M1934.9 53.4L1934.5 57.8M1855.2 260.8L1851.7 258.2M1826.9 154.8L1825.3 148.8M1780.4 127.2L1775.4 124.4M1887.1 300.4L1887.9 304.1M1862.8 168.2L1868.3 170.5M1963.3 183.9L1969.7 186.9M1839.5 231.2L1843.0 228.6M1932.1 147.1L1936.5 139.7M1749.2 364.4L1753.7 364.4M1930.6 296.8L1932.8 296.2M1754.8 110.6L1747.8 108.8M1967.4 109.2L1973.7 108.2M1886.1 138.6L1889.4 140.1M1800.2 197.0L1794.8 201.7M1858.3 199.6L1855.2 197.8M1964.9 77.4L1968.5 79.9M1776.1 80.3L1777.5 81.2M1763.8 82.3L1758.5 78.5M1825.5 238.6L1824.0 237.2M1853.4 87.9L1852.8 92.6M1760.6 100.1L1756.2 100.4M1899.4 266.8L1905.1 269.0M1887.0 223.5L1892.2 222.1M1750.8 259.2L1753.3 261.8M1839.5 326.3L1839.2 321.4M1948.8 63.4L1943.9 65.3M1947.6 154.3L1943.1 158.5M1742.0 284.3L1736.0 281.7M1788.7 52.3L1789.0 54.5M1935.9 343.2L1929.2 344.4M1790.6 80.5L1788.0 81.1M1745.4 158.8L1750.0 161.9M1788.3 250.5L1787.9 247.3M1834.9 257.8L1839.1 259.2M1897.8 192.1L1898.0 192.4M1971.4 78.6L1973.1 72.8M1985.6 200.7L1982.4 197.8M1806.1 147.7L1808.1 150.3M1806.9 176.9L1803.4 179.6M1805.2 123.7L1809.0 121.2M1878.2 46.1L1881.5 44.3M1904.5 138.8L1904.7 133.7M1785.2 327.0L1785.4 332.5M1959.0 295.3L1959.1 288.9M1939.4 60.9L1943.3 57.4M1861.0 107.3L1860.4 105.9M1850.3 154.2L1843.1 151.5M1746.0 171.7L1747.5 170.9M1828.5 266.9L1830.3 265.6M1762.6 116.5L1758.9 118.9M1986.8 231.3L1980.8 229.5M1861.4 48.7L1860.9 43.5M1841.5 365.9L1841.0 364.2M1736.2 143.3L1720.3 153.7M1795.8 115.9L1799.5 120.0M1867.3 158.8L1870.3 153.3M1902.9 237.0L1901.5 235.8M1764.1 110.3L1766.7 108.8M1738.4 85.3L1737.4 82.0M1956.3 297.5L1953.7 296.6M1841.4 246.7L1834.9 244.5M1857.7 38.9L1868.5 -1.3M1777.6 282.6L1780.7 281.3M1741.6 140.2L1737.3 143.6M1969.1 94.3L1972.8 92.8M1966.0 162.5L1967.4 170.1M1770.4 309.5L1770.2 309.5M1806.7 275.0L1806.7 274.9M1783.3 214.3L1779.0 216.0M1876.0 60.3L1882.9 56.1M1791.9 65.9L1790.6 63.6M1890.9 88.5L1893.2 80.5M1853.8 283.8L1847.7 280.5M1818.4 89.0L1822.3 83.9M1760.1 312.5L1758.8 317.9M1915.6 133.0L1913.5 138.7M1762.9 289.7L1765.4 295.9M1968.5 116.2L1973.9 116.7M1896.1 208.7L1889.7 204.9M1825.1 229.2L1832.9 231.0M1740.7 243.0L1740.5 239.0M1789.9 109.5L1783.1 106.7M1874.7 235.4L1875.1 232.1M1792.7 44.6L1791.5 49.8M1776.2 329.7L1777.0 333.0M1791.4 199.8L1787.2 200.0M1921.5 331.8L1921.3 330.4M1926.1 56.6L1922.1 59.6M1840.8 125.3L1837.9 123.9M1942.9 158.5L1939.6 152.6M1886.6 206.8L1889.7 204.9M1844.6 104.0L1848.2 101.4M1811.9 244.3L1813.3 250.4M1962.0 230.5L1961.9 233.2M1857.5 95.6L1859.9 95.0M1857.6 170.5L1862.8 168.2M1742.2 344.7L1737.9 341.0M1799.4 342.2L1800.9 346.7M1763.4 72.3L1758.6 76.0M1821.5 264.1L1816.4 268.5M1804.7 159.5L1811.5 164.3M1809.6 131.9L1808.6 139.6M1966.1 296.1L1968.2 290.7M1853.3 49.4L1848.5 52.7M1912.9 62.7L1912.9 60.7M1784.4 152.5L1783.4 147.4M1759.1 288.4L1756.7 290.9M1857.0 322.3L1857.8 326.1M1767.5 311.3L1761.5 310.4M1759.8 65.3L1761.3 66.0M1810.5 93.8L1815.8 95.7M1984.1 364.3L1981.5 356.4M1812.6 86.6L1818.4 89.0M1831.6 339.6L1836.5 342.5M1793.4 178.3L1796.6 175.0M1938.5 109.8L1939.1 103.5M1782.4 59.7L1789.0 54.5M1901.7 101.2L1911.3 101.9M1762.1 265.1L1767.6 268.7M1980.1 77.1L1979.2 72.5M1824.3 340.0L1817.7 342.4M1737.9 341.0L1737.7 336.4M1932.5 43.4L1935.8 44.9M1876.9 135.2L1883.1 133.0M1861.2 314.4L1856.8 313.4M1737.9 65.9L1733.5 72.7M1946.5 132.4L1944.6 130.9M1823.6 311.8L1830.2 312.0M1879.5 199.5L1882.6 205.6M1973.0 163.8L1973.6 170.0M1912.2 209.0L1909.1 207.2M1740.4 208.3L1741.5 212.0M1849.6 185.4L1853.4 185.1M1930.9 284.7L1927.6 292.1M1900.6 259.8L1903.3 258.6M1937.4 257.6L1943.1 258.3M1945.4 282.6L1946.1 288.7M1862.9 118.1L1857.3 117.6M1868.5 49.5L1875.7 50.0M1825.2 168.6L1826.2 162.6M1827.9 287.2L1830.5 291.8M1848.9 142.6L1845.2 140.2M1858.3 199.6L1862.1 199.6M1861.7 136.7L1858.3 139.0M1936.3 230.7L1937.7 229.9M1822.7 350.5L1827.5 348.0M1873.2 96.6L1868.1 93.5M1968.9 201.0L1965.0 197.5M1872.1 71.7L1865.7 71.5M1866.4 275.6L1861.3 271.3M1760.1 312.5L1751.5 311.5M1857.0 322.3L1852.5 317.7M1793.4 192.5L1788.0 190.7M1740.4 208.3L1745.5 204.0M1853.6 328.9L1853.8 333.5M1828.5 257.0L1831.2 259.5M1826.3 252.8L1830.9 247.7M1831.9 190.1L1834.9 195.5M1867.2 291.3L1869.7 289.7M1947.6 120.5L1946.8 123.8M1897.5 198.1L1898.0 192.4M1930.8 184.3L1926.7 187.1M1808.4 356.6L1809.1 361.6M1957.5 125.1L1954.1 127.1M1866.7 308.6L1865.2 308.6M1932.4 334.2L1938.7 332.7M1745.4 175.0L1749.5 180.5M1876.0 94.7L1878.0 88.2M1892.7 325.0L1887.8 329.3M1824.0 185.8L1819.5 183.5M1874.8 349.0L1876.4 348.2M1925.3 364.6L1923.1 363.8M1861.3 190.2L1865.3 190.2M1821.6 170.3L1821.3 170.2M1819.6 134.8L1823.5 132.6M1982.6 104.2L1975.0 100.7M1791.6 59.2L1799.0 57.6M1844.2 124.0L1840.8 125.3M1755.4 325.3L1758.3 329.0M1946.2 78.9L1953.2 80.0M1756.7 207.3L1753.0 200.3M1956.1 223.9L1960.3 219.9M1979.1 50.2L1986.3 54.2M1819.9 180.7L1822.7 176.5M1889.4 185.5L1887.4 181.9M1746.4 321.9L1750.5 316.1M1927.2 160.0L1927.6 154.9M1908.3 307.1L1908.3 307.6M1836.5 342.5L1840.1 340.2M1785.2 327.0L1786.2 326.2M1787.1 96.1L1783.5 94.0M1969.6 67.0L1964.0 62.7M1933.1 364.9L1930.2 362.8M1844.1 45.1L1835.7 43.9M1919.3 185.3L1917.9 189.6M1791.4 117.1L1794.0 124.3M1736.5 128.2L1740.6 123.5M1839.8 82.2L1835.6 78.6M1757.7 191.8L1753.3 190.4M1845.1 211.8L1847.8 218.6M1775.9 180.8L1779.3 185.0M1927.3 117.1L1931.1 119.0M1780.5 335.9L1785.4 332.5M1980.6 286.8L1985.6 289.4M1803.8 364.4L1809.1 361.6M1971.4 78.6L1968.5 79.9M1823.0 278.7L1829.4 282.9M1862.8 326.9L1863.1 333.6M1983.7 176.0L1993.7 180.3M1961.7 162.4L1966.0 162.4M1885.0 290.6L1889.0 289.0M1837.9 123.9L1831.3 125.7M1843.4 239.0L1845.3 244.2M1980.7 167.4L1979.5 161.9M1931.6 77.6L1929.4 72.9M1799.2 192.9L1797.5 191.3M1808.0 207.8L1814.2 204.3M1759.3 240.0L1763.4 237.9M1836.9 178.0L1841.3 177.3M1744.8 156.5L1749.4 153.2M1860.9 289.6L1860.5 282.5M1740.9 334.7L1743.4 327.6M1906.7 50.4L1904.4 42.2M1739.4 107.2L1739.4 105.0M1858.0 232.4L1861.2 228.3M1783.3 214.3L1783.7 209.1M1968.5 205.0L1964.5 208.7M1930.4 135.7L1936.5 139.7M1798.1 246.3L1797.7 251.2M1823.2 93.2L1819.1 92.2M1886.8 260.3L1884.7 263.4M1748.6 135.9L1754.8 140.7M1757.6 333.9L1755.9 335.2M1802.4 207.9L1802.4 214.4M1934.5 57.8L1939.4 60.9M1758.3 329.0L1757.6 333.9M1785.1 146.4L1790.0 139.5M1971.1 57.7L1969.2 52.3M1951.4 246.9L1958.6 243.3M1768.1 244.3L1766.2 238.8M1838.5 295.8L1835.4 297.7M1971.8 316.9L1966.7 320.5M1964.9 283.5L1964.4 286.1M1975.7 109.6L1976.7 114.6M1943.6 191.0L1942.1 185.1M1885.7 89.3L1885.6 92.6M1770.6 338.6L1777.0 333.0M1757.5 196.8L1757.7 191.8M1816.2 222.5L1809.8 224.6M1734.9 220.0L1729.1 226.7M1934.6 323.4L1940.5 327.7M1774.1 191.9L1779.1 189.4M1888.6 191.9L1888.7 198.6M1921.8 140.7L1925.2 140.8M1786.2 257.7L1781.3 260.5M1864.1 243.4L1867.6 241.3M1769.6 156.1L1771.1 162.4M1944.4 145.9L1943.0 142.0M1765.2 48.6L1770.7 51.7M1851.7 258.2L1852.1 253.6M1924.2 74.2L1917.9 70.4M1753.5 71.3L1758.6 76.0M1851.1 80.1L1852.6 72.7M1807.2 66.9L1810.2 63.0M1861.3 151.8L1857.3 155.6M1914.1 43.1L1909.8 40.8M1842.2 170.0L1836.1 166.7M1919.1 134.1L1921.8 140.7M1865.9 116.4L1867.4 110.8M1779.3 185.0L1779.1 189.4M1872.7 68.7L1869.0 65.1M1951.3 231.4L1951.0 235.0M1811.3 110.0L1802.0 110.7M1900.2 204.8L1900.5 202.1M1930.1 269.1L1924.8 267.6M1910.1 356.2L1907.4 349.5M1934.9 53.4L1937.3 50.7M1839.9 335.6L1840.1 340.2M1946.9 214.5L1945.8 215.1M1896.2 104.2L1895.3 107.8M1976.6 319.1L1976.7 323.5M1823.0 278.7L1816.4 282.5M1744.2 268.0L1742.5 275.2M1758.7 299.0L1758.2 304.8M1985.5 110.4L1984.1 117.1M1920.1 89.0L1929.2 87.9M1755.4 67.0L1759.8 65.3M1954.9 253.1L1951.8 251.7M1746.0 171.7L1745.4 175.0M1797.5 191.3L1793.4 192.5M1836.8 116.4L1830.5 115.7M1959.7 350.2L1963.5 346.0M1899.5 249.1L1899.4 246.6M1985.1 263.1L2005.6 253.4M1877.9 285.6L1877.7 287.7M1839.5 95.3L1834.2 91.4M1851.7 356.6L1855.7 354.4M1775.8 240.5L1782.3 236.0M1974.1 178.4L1974.4 184.4M1805.8 130.4L1805.2 123.7M1782.7 268.7L1781.4 267.6M1844.7 349.6L1845.4 348.4M1755.3 352.1L1750.6 349.2M1858.3 139.0L1853.6 138.5M1892.3 252.9L1891.4 252.4M1898.6 88.2L1898.2 81.5M1905.2 319.5L1905.6 319.7M1810.2 297.6L1807.0 294.5M1843.5 297.9L1838.5 295.8M1982.0 196.1L1978.7 192.9M1969.4 68.9L1964.6 73.1M1766.2 238.8L1763.4 237.9M1785.4 332.5L1789.8 335.8M1960.4 334.8L1958.4 333.3M1927.6 154.9L1921.7 152.3M1848.8 200.6L1845.3 197.0M1789.9 109.5L1791.6 108.2M1783.6 346.3L1782.8 342.1M1969.7 41.3L1960.7 -2.2M1790.5 70.2L1784.5 73.6M1742.9 87.6L1745.5 86.4M1865.9 297.7L1861.9 299.7M1932.4 334.2L1935.9 343.2M1869.7 347.8L1865.7 350.2M1874.1 201.8L1873.5 207.4M1856.8 129.0L1857.1 129.1M1894.0 62.9L1895.1 58.9M1795.8 132.4L1792.7 139.6M1885.8 45.3L1891.3 37.5M1817.3 271.2L1814.6 274.7M1776.9 251.5L1777.7 258.2M1954.8 153.6L1955.3 148.9M1972.3 199.6L1968.9 201.0M1959.7 321.0L1961.3 320.9M1806.7 275.0L1807.4 279.6M1835.8 332.4L1836.1 329.2M1977.2 160.7L1973.0 163.8M1772.1 321.3L1776.1 318.7M1949.9 275.2L1956.1 272.7M1923.6 312.4L1924.8 311.6M1977.6 356.0L1977.4 350.6M1936.4 193.3L1943.6 191.0M1735.1 177.2L1739.3 179.2M1924.8 311.6L1928.8 312.9M1875.7 109.9L1868.4 110.2M1763.7 199.4L1766.4 197.7M1904.5 253.5L1899.5 249.1M1967.8 365.4L1973.0 360.2M1750.2 297.4L1755.2 294.6M1739.3 326.0L1743.4 327.6M1921.8 140.7L1916.8 145.0M1892.0 72.4L1887.0 72.6M1786.1 288.3L1788.8 288.8M1884.2 215.6L1885.8 214.4M1801.1 283.4L1807.4 279.6M1771.6 191.6L1774.1 191.9M1818.0 140.1L1822.9 143.9M1943.7 72.7L1945.1 73.4M1958.1 238.8L1958.7 243.1M1765.4 213.8L1768.7 215.2M1816.3 222.2L1825.9 222.4M1987.0 220.5L1985.7 215.8M1815.7 198.9L1823.0 199.1M1880.2 258.0L1881.7 251.7M1882.8 296.6L1887.1 300.4M1739.0 117.8L1741.5 118.5M1914.4 131.5L1907.0 131.5M1836.4 357.8L1836.9 360.5M1851.4 43.6L1853.3 49.4M1966.1 296.1L1966.3 296.5M1962.6 88.7L1968.5 84.7M1914.6 335.9L1921.5 331.8M1892.2 222.1L1895.8 223.9M1921.3 298.4L1923.0 303.3M1862.0 78.4L1868.8 77.9M1763.8 355.5L1758.7 361.4M1773.6 251.0L1770.6 244.9M1906.2 114.3L1907.6 109.8M1854.4 124.9L1856.8 129.0M1986.7 308.2L1979.4 305.2M1953.4 132.2L1954.1 127.1M1986.0 99.7L1997.6 106.6M1853.4 341.8L1846.9 340.9M1952.5 85.0L1946.1 86.1M1816.8 215.3L1817.4 207.5M1973.8 244.3L1976.3 244.3M1885.9 229.6L1887.0 223.5M1743.3 64.9L1744.1 65.5M1836.9 178.0L1832.4 175.7M1807.0 294.5L1800.9 298.5M1828.2 184.7L1824.0 185.8M1955.5 195.4L1950.0 191.0M1741.8 60.1L1743.3 64.9M1915.6 133.0L1919.1 134.1M1803.2 253.8L1805.0 253.0M1896.3 298.4L1895.8 301.4M1790.7 303.7L1799.1 304.2M1771.9 146.1L1774.1 148.4M1955.5 58.4L1962.5 55.8M1971.0 327.1L1971.2 326.2M1824.3 340.0L1827.0 341.6M1967.3 221.7L1960.3 219.9M1783.2 282.5L1790.4 279.7M1882.3 66.9L1885.3 63.1M1750.7 94.0L1755.4 96.8M1837.8 102.6L1836.2 103.3M1756.6 207.4L1756.5 215.5M1878.4 154.3L1880.2 156.5M1958.6 243.3L1958.7 243.1M1916.4 125.0L1920.9 123.6M1946.2 78.9L1945.1 73.4M1872.3 357.3L1870.2 359.0M1850.3 154.2L1848.4 161.1M1750.5 237.9L1753.2 236.7M1910.9 63.8L1910.0 70.1M1771.2 355.6L1773.8 358.8M1800.8 362.5L1802.2 355.8M1973.5 345.0L1969.4 341.2M1912.6 182.7L1911.3 176.8M1793.8 259.9L1797.4 262.1M1935.2 207.4L1937.5 209.2M1849.5 116.2L1849.3 112.1M1814.1 200.2L1814.2 204.3M1778.3 250.3L1786.3 252.8M1872.3 357.3L1874.8 349.0M1945.4 282.6L1940.9 280.6M1817.1 296.4L1814.4 291.7M1955.3 77.7L1954.5 74.3M1914.5 73.4L1917.9 70.4M1880.6 342.6L1880.3 335.6M1984.7 245.0L1983.3 252.4M1809.2 348.5L1810.0 344.6M1763.1 170.9L1763.1 176.4M1973.3 225.6L1973.4 226.0M1961.1 260.1L1963.0 258.9M1763.1 161.8L1763.1 157.3M1912.0 49.6L1917.6 53.3M1944.2 125.4L1944.6 130.9M1891.4 64.7L1885.3 63.1M1856.5 86.8L1859.9 88.9M1900.9 305.8L1896.7 312.1M1795.7 221.6L1802.2 222.1M1836.1 166.7L1835.9 162.5M1976.7 201.6L1982.4 197.8M1945.9 192.3L1950.0 191.0M1772.1 81.6L1770.2 86.0M1938.4 243.1L1935.5 244.8M1869.5 133.7L1866.3 132.9M1980.1 214.4L1985.7 215.8M1961.0 101.3L1964.2 103.0M1986.7 185.7L1993.7 180.3M1847.8 218.6L1853.8 215.0M1978.0 216.8L1978.5 218.5M1879.5 199.5L1888.7 198.6M1806.3 339.3L1807.5 336.7M1815.7 198.9L1817.3 193.3M1918.0 320.3L1912.1 316.4M1825.7 58.7L1831.6 54.7M1853.3 208.6L1855.1 208.1M1811.2 181.2L1809.6 177.8M1744.3 247.6L1749.7 245.1M1767.1 63.8L1768.4 58.2M1964.4 286.1L1959.1 288.9M1808.1 150.3L1808.6 153.8M1793.6 167.1L1793.7 163.1M1820.3 110.6L1819.9 102.4M1982.0 196.1L1982.4 197.8M1797.1 42.5L1792.7 44.6M1810.1 268.4L1806.7 274.9M1880.6 342.6L1888.0 345.0M1966.1 118.9L1959.1 115.4M1808.6 190.9L1814.8 188.4M1972.4 154.6L1968.5 156.5M1888.6 191.9L1889.4 185.5M1948.4 274.0L1949.9 275.2M1931.3 147.7L1932.1 147.1M1845.0 266.1L1840.7 265.3M1823.2 101.3L1823.2 93.2M1789.3 267.1L1792.6 270.0M1840.8 125.3L1840.5 132.1M1890.6 231.7L1891.4 235.3M1788.0 81.1L1787.2 86.7M1897.3 349.2L1897.8 342.5M1939.6 152.6L1941.2 148.7M1770.1 221.4L1768.7 215.2M1926.8 353.2L1926.9 350.9M1745.1 311.5L1749.6 313.5M1965.9 51.3L1962.8 53.6M1765.7 274.7L1767.0 274.1M1831.9 355.6L1830.6 349.6M1975.5 171.0L1973.6 170.0M1873.3 84.9L1878.0 88.2M1823.2 42.8L1818.5 43.0M1951.3 231.4L1945.1 227.9M1889.1 49.2L1882.6 54.2M1963.7 149.1L1958.4 146.6M1891.7 129.6L1891.4 126.1M1859.8 364.2L1863.7 367.2M1848.0 207.0L1848.8 200.6M1824.0 185.8L1823.7 192.2M1890.9 88.5L1895.7 90.8M1831.3 79.0L1830.2 85.1M1852.5 317.7L1853.9 314.1M1959.7 155.1L1964.0 153.2M1927.5 238.0L1928.9 244.6M1794.2 89.8L1795.2 93.0M1935.9 343.2L1936.0 343.3M1966.4 123.3L1965.3 125.1M1857.3 155.6L1850.8 154.0M1735.0 261.0L1725.9 254.9M1954.8 153.6L1959.7 155.1M1834.2 212.3L1834.0 207.5M1919.0 342.8L1925.2 338.5M1944.0 95.4L1945.7 94.5M1807.4 279.6L1810.8 283.0M1918.8 251.0L1915.5 243.8M1776.1 63.8L1769.9 66.6M1968.2 290.7L1964.4 286.1M1858.0 232.4L1852.5 226.4M1980.2 282.3L1977.9 280.1M1755.7 319.2L1755.4 325.3M1754.1 81.7L1758.5 78.5M1845.0 183.7L1843.8 179.1M1815.2 41.7L1818.5 43.0M1801.5 183.6L1797.6 185.0M1789.3 267.1L1782.7 268.7M1747.4 366.8L1741.4 364.9M1745.7 336.6L1740.9 334.7M1817.4 207.5L1822.5 206.9M1771.9 146.1L1765.3 149.1M1907.1 123.6L1906.6 124.4M1814.1 232.2L1814.0 235.3M1835.9 107.5L1836.2 103.3M1819.7 314.3L1819.5 316.3M1937.1 110.4L1934.8 117.0M1907.5 78.3L1903.8 72.9M1900.4 142.5L1904.5 138.8M1895.2 47.8L1896.1 48.0M1962.8 53.6L1955.9 49.6M1914.1 304.7L1918.2 310.0M1956.6 227.5L1962.0 230.5M1986.7 308.2L1987.0 309.1M1898.0 282.7L1891.8 281.2M1754.9 248.6L1755.8 251.2M1736.8 191.8L1730.3 194.6M1776.4 313.5L1778.1 312.6M1889.5 161.9L1885.5 170.7M1986.5 142.8L1986.5 142.6M1806.7 350.3L1806.2 354.2M1781.3 260.5L1781.4 267.6M1887.7 333.4L1888.6 334.1M1761.8 206.1L1764.5 207.8M1980.3 148.8L1986.5 142.8M1766.9 79.5L1768.1 73.7M1770.5 72.5L1769.9 66.6M1896.2 104.2L1889.2 99.6M1871.8 304.3L1875.4 305.9M1946.1 288.7L1943.0 291.7M1923.6 312.4L1921.2 318.4M1928.4 282.6L1920.4 283.8M1906.2 114.3L1912.5 118.9M1964.5 179.9L1959.8 175.4M1919.5 160.5L1927.2 160.0M1936.3 230.7L1930.4 228.3M1848.9 292.1L1852.6 298.9M1841.0 364.2L1846.1 359.0M1944.8 357.6L1939.6 359.0M1758.0 224.8L1764.2 222.3M1766.7 108.8L1772.0 110.5M1844.8 135.2L1848.6 132.5M1913.3 253.3L1909.1 251.0M1903.8 72.9L1900.5 71.7M1870.4 59.5L1873.7 58.9M1973.5 123.1L1973.9 116.7M1827.4 75.7L1827.1 74.6M1817.2 358.6L1823.7 356.2M1821.0 295.2L1817.7 296.8M1970.1 231.3L1973.4 226.0M1873.3 84.9L1868.8 87.4M1749.9 146.7L1752.4 145.8M1866.9 230.2L1861.2 228.3M1935.5 160.6L1934.0 153.6M1750.7 94.0L1750.9 87.8M1964.8 363.7L1962.3 356.8M1907.7 87.4L1905.9 82.3M1791.0 242.4L1790.4 239.6M1938.9 119.1L1941.5 124.8M1765.2 48.6L1762.2 53.1M1753.3 261.8L1752.5 265.7M1789.5 184.8L1793.9 182.2M1957.0 164.7L1953.5 160.3M1985.0 158.5L1996.1 166.2M1985.8 42.3L1990.9 47.3M1930.4 228.3L1932.0 221.1M1910.1 289.8L1918.6 293.8M1750.2 124.4L1750.1 119.8M1852.5 226.4L1853.0 224.0M1907.1 123.6L1903.6 116.6M1865.7 350.2L1861.4 346.6M1848.9 292.1L1848.5 292.1M1822.8 274.3L1823.0 278.7M1942.8 274.8L1940.9 280.6M1842.2 222.9L1847.7 219.5M1913.2 284.0L1917.8 281.6M1818.6 151.1L1823.1 147.2M1806.2 141.1L1803.6 140.2M1758.4 108.3L1754.8 110.6M1876.9 311.8L1871.3 314.1M1754.8 110.6L1754.9 118.0M1902.7 363.2L1902.7 358.1M1800.0 149.6L1799.8 153.2M1851.7 363.9L1857.9 365.0M1979.4 305.2L1978.7 305.4M1879.8 365.3L1881.5 365.8M1916.8 145.0L1916.6 145.4M1810.2 297.6L1809.3 304.3M1779.6 368.1L1782.5 362.2M1951.6 66.1L1950.8 71.9M1918.2 95.0L1920.1 94.0M1781.0 132.0L1784.1 133.8M1842.8 253.2L1843.1 256.6M1912.8 304.0L1914.1 304.7M1877.9 65.7L1882.3 66.9M1877.7 287.7L1885.0 290.6M1896.1 208.7L1900.2 204.8M1750.7 94.0L1745.1 96.5M1952.5 85.0L1953.2 80.0M1874.8 349.0L1869.7 347.8M1849.3 112.1L1845.3 108.5M1807.8 290.0L1807.8 290.0M1956.1 223.9L1953.8 222.0M1974.2 155.1L1972.4 154.6M1893.2 321.5L1892.7 325.0M1938.7 182.7L1935.0 186.2M1807.3 190.1L1806.0 186.3M1884.8 265.2L1888.6 267.4M1977.1 309.5L1971.0 311.9M1896.1 48.0L1902.2 41.2M1952.0 263.8L1952.6 263.9M1932.1 125.6L1934.0 127.6M1879.2 297.6L1879.4 303.9M1861.4 48.7L1855.7 50.7M1907.2 323.5L1913.4 326.5M1881.4 97.1L1885.6 92.6M1908.4 264.7L1912.9 268.4M1836.1 346.8L1830.6 349.6M1845.1 328.9L1844.3 333.0M1807.5 336.7L1808.9 336.1M1892.0 265.5L1888.6 267.4M1762.2 53.1L1763.0 56.0M1782.0 275.4L1774.2 274.6M1749.5 193.6L1745.5 192.6M1849.9 175.7L1854.3 176.4M1816.2 282.5L1816.4 282.5M1944.0 95.4L1939.2 93.9M1964.4 93.0L1960.8 99.6M1787.1 96.1L1795.0 93.4M1746.0 295.8L1750.2 297.4M1789.7 294.6L1783.3 298.1M1788.0 190.7L1789.5 184.8M1918.2 310.0L1912.0 314.4M1856.6 81.0L1851.1 80.1M1878.7 76.7L1884.2 82.3M1806.1 147.7L1806.2 141.1M1971.1 57.7L1964.5 60.5M1962.5 55.8L1962.8 53.6M1736.8 191.8L1742.5 195.0M1952.4 353.3L1952.5 352.3M1756.7 290.9L1755.2 294.6M1870.1 138.9L1865.4 140.6M1979.2 72.5L1985.1 68.4M1828.1 318.1L1829.7 322.9M1833.2 149.5L1831.3 148.1M1776.1 222.1L1781.9 225.5M1791.5 49.8L1788.7 52.3M1860.8 258.3L1860.9 251.7M1761.7 141.8L1765.4 138.9M1838.7 289.1L1838.0 290.3M1950.7 327.8L1956.6 328.8M1815.2 267.9L1810.1 268.4M1961.7 162.4L1957.0 164.7M1868.4 45.0L1868.5 49.5M1783.0 106.2L1783.1 106.7M1897.3 332.2L1898.5 329.0M1779.0 216.0L1776.1 222.1M1767.0 274.1L1767.6 268.7M1755.4 96.8L1756.2 100.4M1973.1 347.8L1973.5 345.0M1766.1 302.2L1758.6 305.0M1943.3 100.3L1939.1 103.5M1962.5 230.3L1967.3 221.7M1873.3 84.9L1873.4 83.8M1754.4 341.1L1755.9 335.2M1985.0 158.5L1979.5 161.9M1794.3 363.1L1800.8 362.5M1922.1 59.6L1921.4 63.7M1947.5 48.5L1952.0 51.2M1789.1 356.2L1792.7 358.7M1963.0 258.9L1969.1 262.1M1959.9 79.4L1960.0 87.9M1776.2 329.7L1781.3 326.2M1912.0 154.2L1916.7 145.8M1926.8 325.9L1921.3 330.4M1790.9 161.2L1793.7 163.1M1804.9 100.0L1802.1 102.2M1784.2 122.8L1784.0 117.9M1830.8 306.5L1827.8 302.8M1950.2 206.1L1948.6 206.8M1900.2 173.3L1900.2 172.5M1853.3 208.6L1853.8 215.0M1761.5 310.4L1758.6 305.0M1783.0 147.2L1780.9 142.4M1854.5 192.9L1855.2 197.8M1852.7 146.8L1858.0 146.3M1771.4 349.9L1774.7 349.0M1919.3 185.3L1921.2 183.9M1977.5 266.4L1976.3 258.4M1965.4 195.2L1965.0 197.5M1877.8 223.5L1876.0 222.3M1843.5 297.9L1848.5 292.1M1838.7 65.2L1833.9 62.8M1934.8 265.0L1930.1 269.1M1770.7 51.7L1771.2 56.8M1740.2 153.5L1739.9 153.1M1934.5 202.5L1935.2 207.4M1815.8 95.7L1817.2 101.2M1823.0 199.1L1825.8 197.5M1814.6 335.9L1818.5 330.3M1976.4 145.3L1980.3 148.8M1968.5 250.6L1964.4 253.0M1754.8 140.7L1752.4 145.8M1973.9 116.7L1976.7 114.6M1826.1 64.3L1823.9 66.0M1737.2 200.8L1737.4 206.5M1732.0 91.3L1737.0 97.1M1770.2 86.0L1765.0 85.9M1872.9 366.0L1862.0 542.0M1907.4 349.5L1910.6 347.1M1902.7 358.1L1910.1 356.2M1846.3 118.0L1839.4 114.0M1886.6 239.8L1891.4 235.3M1883.6 71.0L1887.0 72.6M1750.6 349.2L1745.8 351.1M1959.8 175.4L1959.2 171.2M1980.4 229.0L1982.0 221.5M1984.7 245.0L1982.6 241.5M1914.1 77.5L1914.5 73.4M1813.3 250.4L1808.5 253.5M1843.9 315.4L1848.2 307.7M1831.8 171.3L1836.1 166.7M1980.6 286.8L1980.2 282.3M1917.3 171.4L1913.2 168.0M1985.1 263.1L1982.6 256.5M1758.9 118.9L1760.0 125.7M1862.5 182.8L1857.4 187.6M1774.9 120.4L1781.3 116.4M1962.7 320.2L1961.3 320.9M1913.2 284.0L1910.1 289.8M1798.8 124.0L1805.2 123.7M1938.5 241.0L1944.0 237.1M1796.6 100.6L1802.1 102.2M1856.8 129.0L1852.4 132.7M1837.3 272.1L1836.4 267.9M1748.2 77.5L1754.1 81.7M1901.0 161.3L1901.1 155.7M1809.4 47.0L1804.3 51.2M1836.8 116.4L1837.9 123.9M1934.6 305.3L1935.2 310.0M1782.6 168.9L1788.7 170.3M1794.7 311.8L1788.7 308.1M1916.7 365.7L1904.8 523.0M1921.2 169.1L1917.3 171.4M1864.3 206.0L1873.2 207.6M1963.3 183.9L1964.5 179.9M1818.7 59.5L1818.3 62.8M1744.3 306.1L1742.7 304.2M1867.3 159.5L1863.7 161.7M1767.5 311.3L1770.2 309.5M1970.2 139.6L1975.3 132.1M1904.9 193.5L1908.3 189.4M1832.1 364.5L1836.9 360.5M1863.9 65.9L1861.2 64.8M1762.6 116.5L1764.1 110.3M1976.4 294.8L1973.5 299.0M1934.1 100.7L1930.1 104.1M1850.5 80.4L1844.3 77.6M1895.7 90.8L1898.6 88.2M1946.9 298.4L1942.7 294.2M1894.6 258.7L1894.5 258.9M1930.1 269.1L1931.0 273.1M1895.8 301.4L1900.9 305.8M1782.8 342.1L1780.7 340.3M1737.0 130.9L1738.9 131.8M1749.7 183.8L1745.3 186.5M1832.1 364.5L1826.1 361.5M1971.1 149.0L1967.9 146.2M1986.3 54.2L1986.3 54.2M1927.6 154.9L1931.4 151.8M1898.0 282.7L1900.5 278.8M1922.3 195.7L1928.3 190.3M1739.0 117.8L1734.4 109.7M1827.9 287.2L1822.6 289.2M1862.5 182.8L1866.3 184.8M1873.1 250.5L1872.8 245.3M1960.3 216.9L1965.6 212.4M1958.1 64.6L1951.6 66.1M1869.7 228.2L1875.1 232.1M1882.6 322.8L1882.5 323.1M1800.9 298.5L1801.4 301.7M1846.8 65.2L1851.5 62.2M1861.4 48.7L1866.1 51.0M1952.0 216.1L1955.8 213.1M1788.0 190.7L1783.9 192.9M1841.3 192.6L1834.9 195.5M1798.0 130.6L1799.0 131.2M1797.5 295.7L1793.4 296.8M1944.0 237.1L1941.4 230.1M1844.3 77.6L1839.8 82.2M1932.7 319.2L1928.8 312.9M1944.5 322.1L1939.4 316.4M1842.9 151.5L1838.8 145.7M1789.7 125.5L1784.2 122.8M1836.7 302.9L1830.8 306.5M1791.5 49.8L1797.6 51.6M1922.1 59.6L1917.6 54.3M1910.9 63.8L1912.9 62.7M1809.2 348.5L1816.2 351.2M1943.4 51.2L1943.3 57.4M1802.2 161.4L1797.6 161.3M1878.9 312.9L1876.9 311.8M1982.6 256.5L1983.8 253.3M1881.5 365.8L1905.4 624.1M1809.6 131.9L1805.8 130.4M1804.3 51.2L1800.3 49.5M1851.2 274.6L1847.5 277.8M1865.9 297.7L1867.2 291.3M1873.7 39.8L1868.4 45.0M1977.6 50.9L1975.6 59.6M1895.2 47.8L1890.5 49.4M1937.5 209.2L1938.4 212.7M1908.4 264.7L1905.1 269.0M1968.5 84.7L1972.7 88.0M1860.9 43.5L1857.7 38.9M1946.7 267.4L1948.4 274.0M1781.7 169.9L1775.2 167.6M1744.5 356.1L1747.7 357.8M1861.7 136.7L1861.7 136.7M1891.4 252.4L1886.4 252.9M1879.4 229.5L1877.8 223.5M1917.9 70.4L1918.3 65.1M1822.9 158.4L1821.4 158.2M1917.7 81.7L1921.3 79.9M1787.9 40.6L1782.5 43.1M1839.1 142.9L1838.8 145.7M1802.4 214.4L1805.2 219.9M1737.2 229.3L1736.9 237.5M1964.7 135.7L1965.4 139.0M1904.5 253.5L1909.1 251.0M1949.9 275.2L1949.7 279.4M1960.9 309.7L1960.8 304.7M1796.7 83.0L1796.9 84.3M1817.4 80.2L1822.0 83.0M1808.8 58.6L1810.2 63.0M1825.4 132.8L1829.0 140.3M1798.3 310.4L1794.7 311.8M1958.8 44.1L1955.9 49.6M1971.1 272.5L1968.0 275.4M1774.2 274.6L1776.6 268.3M1953.8 222.0L1945.4 223.2M1751.9 282.7L1746.8 289.0M1950.4 320.7L1950.2 320.7M1949.7 279.4L1954.7 283.2M1851.9 60.0L1851.5 62.2M1826.2 162.6L1822.9 158.4M1924.6 97.8L1920.1 94.0M1888.9 153.3L1889.0 149.1M1916.1 355.6L1922.0 357.4M1817.7 342.4L1817.3 342.2M1873.7 58.9L1875.7 50.0M1871.0 161.7L1871.7 161.7M1938.5 241.0L1935.3 236.4M1750.8 259.2L1743.9 261.6M1871.2 180.2L1874.4 174.8M1849.6 185.4L1847.2 192.8M1972.0 334.6L1969.4 341.2M1823.2 101.3L1819.9 102.4M1762.9 289.7L1768.0 286.8M1890.7 57.0L1885.3 59.0M1841.1 53.0L1834.2 49.3M1800.9 92.4L1795.2 93.0M1973.8 244.3L1972.0 235.6M1746.5 79.7L1739.9 80.0M1741.8 60.1L1748.0 55.5M1956.1 272.7L1958.7 274.9M1984.1 296.6L1976.4 294.8M1840.0 84.7L1839.8 82.2M1907.6 109.8L1905.9 108.9M1984.9 154.4L1980.2 151.1M1813.3 53.5L1815.0 53.6M1831.6 54.7L1834.0 58.9M1826.9 154.8L1822.9 158.4M1765.0 85.9L1768.3 95.1" stroke="#e6e5e9" stroke-width="1.3" fill="none" opacity="0.8"/><path d="M1823.7 192.2L1817.3 193.3M1984.6 128.0L1997.3 120.6M1922.0 357.4L1926.8 353.2M1947.4 168.5L1951.6 171.1M1907.5 333.8L1910.5 333.1M1938.7 332.7L1940.5 327.7M1872.9 276.7L1867.6 275.3M1797.1 66.8L1791.9 65.9M1745.4 126.7L1750.2 124.4M1809.6 317.2L1808.5 313.4M1889.0 289.0L1890.7 289.9M1905.5 89.1L1904.4 95.3M1974.2 155.1L1980.2 151.1M1925.2 321.5L1921.2 318.4M1976.4 145.3L1976.0 142.8M1868.9 148.2L1870.3 153.3M1945.5 197.1L1942.8 200.2M1824.3 340.0L1823.8 335.5M1848.2 101.4L1846.6 93.8M1735.1 177.2L1715.0 181.2M1912.7 243.0L1915.5 243.8M1851.9 60.0L1856.4 56.2M1938.4 212.7L1935.0 218.0M1822.6 289.2L1817.8 285.9M1838.5 295.8L1838.0 290.3M1767.1 223.0L1766.4 229.4M1843.4 239.0L1848.6 234.3M1759.1 91.7L1765.6 95.4M1900.2 172.5L1894.4 168.2M1896.5 178.4L1899.2 184.7M1768.0 183.2L1763.1 189.0M1780.4 127.2L1784.2 122.8M1762.4 148.0L1758.6 150.4M1802.7 41.8L1800.1 43.0M1878.3 198.8L1878.0 194.2M1926.1 56.6L1931.4 59.6M1934.9 53.4L1927.8 50.2M1852.0 243.6L1848.7 245.7M1873.2 207.6L1873.5 207.4M1880.3 214.5L1875.6 217.1M1796.5 231.6L1796.4 236.5M1873.7 172.0L1874.4 174.8M1982.1 59.7L1986.3 54.2M1959.9 79.4L1964.9 77.4M1896.8 228.2L1890.6 231.7M1828.5 332.7L1827.5 326.0M1903.9 62.9L1902.7 60.2M1832.4 41.0L1810.1 -2684.4M1858.3 199.6L1855.1 208.1M1885.5 170.7L1883.1 171.1M1754.9 118.0L1750.1 119.8M1885.3 63.1L1885.3 59.0M1784.2 90.3L1787.2 86.7M1878.2 46.1L1877.0 49.3M1744.2 230.2L1745.2 235.8M1788.9 115.5L1789.9 109.5M1955.3 148.9L1958.4 146.6M1809.7 240.7L1814.0 235.3M1747.7 212.9L1750.5 208.8M1874.2 131.1L1874.3 127.6M1845.3 208.8L1840.1 206.7M1799.5 342.2L1799.4 342.2M1764.0 85.2L1763.8 82.3M1915.8 230.0L1913.6 229.7M1907.3 340.1L1907.5 333.8M1842.9 151.5L1841.3 153.4M1904.5 213.0L1907.8 216.1M1803.4 179.6L1796.6 175.0M1871.8 304.3L1871.3 300.9M1904.5 213.0L1898.1 214.1M1749.9 146.7L1749.4 153.2M1972.4 281.9L1968.4 279.9M1835.6 78.6L1831.3 79.0M1835.9 107.5L1830.4 111.9M1885.8 214.4L1886.6 206.8M1896.1 208.7L1896.1 212.4M1896.1 94.2L1900.2 98.6M1840.0 84.7L1844.6 88.1M1954.5 137.4L1954.6 135.2M1964.0 153.2L1968.5 156.5M1772.7 162.8L1775.2 167.6M1832.3 247.4L1836.1 252.4M1842.9 58.6L1841.0 56.1M1915.8 230.0L1922.1 227.9M1907.6 109.8L1910.1 108.7M1878.0 194.2L1881.1 191.2M1813.3 81.2L1812.6 86.6M1878.0 88.2L1883.6 87.5M1883.0 279.3L1888.3 284.5M1776.0 44.2L1776.0 45.2M1897.3 332.2L1899.9 336.5M1810.3 327.2L1808.9 336.1M1896.8 228.2L1895.8 223.9M1921.3 150.3L1916.7 145.8M1966.0 162.5L1973.0 163.8M1961.1 260.1L1961.7 266.4M1930.0 208.8L1935.2 207.4M1925.5 249.0L1928.9 244.6M1823.6 311.8L1819.7 314.3M1898.9 185.1L1897.8 192.1M1857.3 222.5L1853.0 224.0M1751.3 342.6L1750.6 349.2M1885.3 59.0L1882.9 56.1M1953.3 155.0L1953.5 160.3M1790.3 176.6L1788.7 170.3M1806.5 72.2L1808.7 74.3M1875.7 109.9L1876.8 117.3M1839.9 335.6L1835.8 332.4M1930.7 259.1L1924.0 260.7M1935.0 83.1L1935.5 81.2M1889.8 148.4L1889.0 149.1M1925.3 275.9L1928.4 282.6M1816.2 222.5L1816.3 222.2M1775.9 101.0L1769.9 98.8M1803.7 207.2L1803.8 199.2M1837.1 311.4L1842.5 304.7M1857.8 281.5L1856.0 276.3M1991.2 150.6L1986.5 142.8M1969.0 129.9L1975.0 131.7M1870.1 138.9L1869.5 133.7M1929.1 168.9L1926.8 169.7M1776.0 45.2L1779.7 53.1M1734.4 109.7L1739.4 107.2M1813.3 53.5L1808.8 58.6M1939.6 359.0L1936.4 356.0M1971.1 57.7L1975.2 59.8M1972.0 235.6L1972.1 235.4M1878.8 125.8L1878.2 118.2M1917.9 189.6L1922.3 195.7M1808.9 336.1L1814.6 335.9M1944.5 322.1L1950.2 320.7M1745.5 110.7L1739.4 107.2M1758.8 317.9L1764.7 320.2M1736.3 170.7L1741.9 168.5M1910.4 145.0L1916.6 145.4M1920.5 348.3L1926.8 350.7M1987.5 79.6L1989.7 78.0M1746.5 79.7L1745.5 86.4M1790.0 139.5L1784.7 135.2M1845.1 342.2L1845.4 348.4M1762.1 335.7L1763.0 341.5M1860.5 282.5L1864.0 281.0M1756.0 50.4L1754.4 57.4M1835.9 185.3L1841.0 187.8M1799.0 57.6L1797.6 51.6M1805.2 88.1L1809.4 89.5M1885.1 103.1L1882.2 102.0M1902.9 237.0L1910.1 235.1M1950.5 289.1L1954.8 286.1M1929.4 72.9L1928.1 72.4M1762.4 148.0L1761.7 141.8M1908.1 364.7L1902.7 363.2M1885.1 103.1L1889.2 99.6M1852.5 226.4L1847.8 231.4M1917.0 236.7L1915.8 230.0M1852.7 146.8L1849.2 142.7M1937.8 178.3L1938.7 182.7M1968.0 140.3L1965.4 139.0M1978.5 218.5L1982.0 221.5M1975.5 124.7L1981.5 122.1M1912.7 362.0L1916.7 365.7M1813.2 112.4L1812.5 117.0M1907.2 186.0L1908.3 189.4M1800.2 197.0L1803.8 199.2M1883.0 238.5L1879.4 240.4M1844.6 104.0L1837.8 102.6M1875.6 217.1L1876.0 222.3M1848.9 292.1L1852.4 290.4M1802.1 102.2L1801.2 110.0M1986.7 185.7L1982.9 185.0M1836.1 329.2L1828.9 325.1M1901.5 235.8L1895.4 238.5M1870.4 59.5L1865.7 56.0M1831.2 200.0L1825.8 197.5M1973.4 49.8L1970.9 41.8M1762.5 231.2L1766.4 229.4M1956.4 210.3L1950.2 206.1M1903.3 315.0L1896.7 312.1M1879.6 148.4L1875.0 145.5M1872.9 276.7L1873.2 280.5M1866.1 51.0L1868.5 49.5M1790.7 366.0L1793.5 365.1M1921.2 318.4L1918.0 320.3M1781.4 267.6L1776.6 268.3M1786.2 257.7L1791.4 260.6M1954.6 342.1L1952.3 341.6M1797.7 251.2L1796.3 252.2M1742.5 95.1L1742.9 87.6M1916.7 365.7L1923.1 363.8M1805.2 88.1L1804.9 81.9M1840.5 132.1L1844.8 135.2M1775.8 240.5L1771.5 235.6M1921.7 238.7L1920.2 242.4M1887.0 223.5L1884.7 220.6M1947.2 138.2L1946.5 132.4M1830.3 265.6L1831.2 259.5M1883.1 140.5L1886.1 138.6M1929.9 163.3L1927.2 160.0M1868.8 87.4L1864.2 85.2M1851.0 269.4L1855.8 266.0M1898.4 118.6L1897.6 123.3M1828.6 117.4L1828.7 122.7M1946.9 214.5L1948.6 206.8M1892.0 356.5L1886.6 361.2M1954.7 283.2L1958.5 280.0M1955.8 318.9L1955.2 312.7M1918.6 295.9L1913.0 301.6M1941.8 40.8L1946.9 44.4M1923.8 220.0L1924.6 214.9M1934.1 100.7L1934.3 95.1M1737.2 200.8L1742.4 196.6M1938.7 332.7L1943.3 338.3M1785.6 304.1L1788.2 305.6M1960.8 207.6L1958.1 199.6M1955.9 49.6L1952.0 51.2M1932.5 43.4L1930.1 44.2M1800.4 58.3L1804.7 57.0M1818.9 349.3L1817.7 342.4M1875.1 232.1L1879.4 229.5M1986.5 325.5L1982.3 328.4M1781.7 169.9L1780.9 173.5M1855.7 50.7L1853.3 49.4M1786.4 317.6L1789.1 320.3M1753.9 129.4L1753.6 129.3M1774.1 148.4L1783.0 147.2M1802.6 312.6L1800.2 318.5M1789.1 356.2L1790.1 348.9M1853.9 314.1L1848.2 307.7M1952.0 216.1L1946.9 214.5M1954.9 253.1L1958.3 259.7M1818.3 254.3L1821.6 252.2M1782.7 358.0L1789.1 356.2M1755.0 48.6L1756.0 50.4M1751.5 184.9L1759.3 183.3M1914.1 77.5L1907.5 78.3M1887.8 349.6L1889.6 350.9M1870.9 364.0L1863.7 367.2M1825.5 238.6L1833.0 237.8M1932.8 296.2L1935.4 289.5M1954.7 283.2L1954.8 286.1M1872.3 319.8L1877.0 326.9M1777.5 57.3L1779.7 53.1M1831.3 125.7L1828.7 122.7M1895.2 47.8L1891.3 37.5M1826.3 222.7L1825.1 229.2M1739.8 50.8L1737.7 53.2M1949.7 245.5L1941.9 246.0M1912.0 154.2L1908.1 154.1M1969.6 264.9L1969.1 262.1M1793.6 167.1L1797.8 171.8M1905.9 178.2L1904.0 184.0M1742.0 73.0L1739.9 80.0M1771.9 146.1L1772.0 142.7M1782.8 342.1L1789.3 338.7M1892.1 274.6L1891.8 281.2M1930.2 362.8L1930.8 358.6M1951.0 235.0L1948.7 237.8M1898.6 342.1L1899.9 336.5M1969.9 191.1L1969.7 186.9M1978.5 250.4L1976.3 244.3M1900.5 202.1L1906.7 198.7M1911.3 176.8L1909.7 176.4M1864.3 206.0L1862.3 210.8M1921.2 169.1L1926.8 169.7M1755.9 155.6L1757.5 154.4M1741.0 257.9L1741.8 253.6M1943.9 65.3L1943.7 72.7M1770.4 183.7L1775.9 180.8M1768.8 284.6L1762.8 279.2M1941.4 230.1L1945.1 227.9M1934.2 260.5L1937.4 257.6M1948.8 63.4L1951.6 66.1M1794.7 311.8L1794.0 318.9M1940.5 176.1L1941.8 168.6M1872.1 191.1L1872.2 183.9M1770.6 338.9L1775.4 341.7M1895.4 238.5L1891.4 235.3M1847.2 192.8L1854.5 192.9M1987.4 320.6L1981.4 316.1M1907.5 78.3L1905.9 82.3M1746.4 321.9L1741.0 318.6M1817.6 303.8L1816.6 304.6M1836.4 357.8L1831.9 355.6M1845.3 197.0L1840.7 201.2M1921.4 63.7L1918.3 65.1M1922.6 50.2L1917.6 53.3M1908.1 53.9L1912.9 60.7M1789.8 154.6L1784.4 152.5M1931.6 333.9L1925.7 336.5M1945.5 197.1L1952.2 201.7M1865.2 308.6L1861.2 314.4M1878.6 209.5L1873.5 207.4M1955.3 148.9L1950.5 145.8M1951.6 334.2L1948.7 332.6M1882.6 352.7L1882.4 355.0M1842.4 275.3L1842.5 275.5M1935.0 186.2L1934.0 192.0M1843.3 63.7L1838.7 65.2M1892.0 72.4L1891.4 64.7M1751.3 342.6L1746.8 341.9M1969.1 354.5L1969.3 351.1M1865.2 219.6L1869.8 225.2M1852.8 303.3L1848.1 306.4M1774.0 110.0L1772.0 110.5M1860.4 303.3L1857.4 304.0M1930.1 44.2L1923.7 40.7M1857.8 326.1L1853.6 328.9M1762.1 335.7L1757.6 333.9M1862.5 182.8L1862.7 178.5M1929.4 252.0L1934.7 251.4M1766.8 257.0L1761.9 262.9M1846.6 161.9L1848.4 161.1M1861.2 64.8L1858.4 66.5M1746.3 202.3L1742.4 196.6M1830.5 291.8L1830.0 296.7M1974.2 208.2L1972.4 215.0M1731.2 136.0L1050.9 113.8M1964.0 62.7L1959.4 65.3M1889.5 161.9L1893.9 165.0M1892.0 356.5L1889.6 350.9M1938.4 297.2L1942.7 294.2M1960.6 43.3L1958.8 44.1M1815.7 198.9L1814.1 200.2M1896.8 228.2L1900.9 230.4M1761.5 310.4L1760.1 312.5M1756.6 207.4L1756.7 207.3M1834.2 91.4L1830.4 94.5M1845.1 328.9L1839.5 326.3M1922.1 105.0L1921.8 105.9M1864.7 356.3L1861.3 357.3M1872.2 183.9L1872.2 183.9M1874.3 127.6L1871.5 125.6M1754.4 341.1L1751.3 342.6M1789.8 154.6L1790.9 161.2M1781.7 94.8L1773.6 91.4M1811.6 104.1L1811.3 110.0M1912.7 362.0L1912.7 358.1M1849.7 366.9L1853.7 385.8M1767.3 124.1L1771.7 126.7M1876.9 135.2L1874.2 131.1M1899.9 289.7L1897.6 288.2M1847.8 218.6L1847.7 219.5M1749.8 333.2L1746.1 326.8M1825.5 238.6L1825.9 242.9M1944.3 306.0L1942.7 311.7M1781.7 94.8L1783.5 94.0M1759.2 242.1L1759.3 240.0M1906.9 169.1L1913.2 168.0M1950.7 327.8L1950.4 320.7M1979.5 161.9L1977.2 160.7M1888.2 179.9L1887.4 181.9M1757.7 133.9L1765.1 133.2M1948.4 274.0L1942.8 274.8M1814.3 320.4L1815.0 325.6M1818.4 152.1L1818.6 151.1M1840.5 132.1L1835.7 134.5M1940.9 167.8L1939.7 161.5M1881.5 44.3L1890.0 1.7M1968.5 84.7L1968.5 79.9M1731.4 60.3L1737.9 65.9M1845.5 266.8L1845.0 266.1M1899.4 354.5L1895.3 357.1M1956.6 227.5L1956.1 223.9M1938.4 297.2L1932.8 296.2M1899.9 219.4L1895.8 223.9M1958.4 365.3L1964.8 363.7M1816.4 282.5L1817.8 285.9M1764.8 247.8L1759.2 242.1M1900.4 276.8L1900.5 278.8M1945.7 94.5L1946.0 86.4M1852.6 298.9L1852.8 303.3M1770.4 309.5L1776.4 313.5M1894.0 132.5L1901.3 132.1M1895.1 319.9L1895.3 312.5M1908.1 364.7L1901.5 439.7M1964.5 208.7L1965.6 212.4M1820.9 261.5L1821.5 264.1M1974.1 302.3L1973.5 299.0M1914.4 131.5L1915.6 133.0M1834.9 195.5L1834.5 196.4M1917.7 205.7L1917.9 201.6M1792.3 328.9L1796.2 325.5M1952.1 100.4L1946.8 104.6M1942.7 311.7L1946.2 313.3M1832.3 334.7L1828.5 332.7M1883.0 279.3L1882.9 277.6M1931.6 333.9L1932.4 334.2M1950.7 327.8L1948.4 330.4M1982.8 343.2L1979.7 341.8M1915.3 215.6L1916.2 219.3M1976.7 323.5L1982.3 328.4M1861.4 346.6L1855.8 349.4M1816.2 222.5L1819.3 229.2M1956.5 198.9L1958.1 199.6M1965.3 125.1L1961.8 126.4M1808.1 150.3L1814.5 147.7M1819.5 183.5L1819.9 180.7M1816.2 162.0L1815.9 162.0M1953.3 116.1L1947.6 120.5M1909.0 280.8L1904.8 282.0M1812.9 259.7L1815.2 267.9M1895.3 312.5L1896.7 312.1M1846.8 65.2L1847.6 70.1M1875.7 109.9L1875.8 109.8M1952.3 341.6L1951.6 334.2M1952.3 341.6L1947.5 342.9M1970.2 139.6L1976.0 142.8M1876.4 348.2L1882.6 352.7M1767.6 268.7L1771.6 265.9M1750.9 87.8L1753.7 86.1M1817.6 243.8L1820.4 238.4M1786.4 317.6L1778.5 320.2M1886.7 315.0L1893.9 311.9M1872.1 71.7L1872.4 72.7M1930.7 327.1L1934.6 323.4M1731.9 270.3L1699.5 279.4M1845.0 183.7L1849.6 185.4M1892.0 72.4L1896.2 74.6M1848.8 200.6L1855.2 197.8M1840.9 160.0L1841.3 153.4M1893.3 138.0L1889.4 140.1M1840.6 353.4L1836.4 357.8M1783.9 192.9L1779.1 189.4M1834.0 58.9L1833.9 62.8M1811.9 259.6L1806.7 262.1M1936.0 80.9L1940.9 73.2M1874.4 335.7L1870.1 332.9M1903.7 228.4L1912.2 230.5M1977.1 309.5L1978.7 305.4M1816.4 268.5L1815.2 267.9M1920.9 123.6L1922.9 118.3M1912.2 121.6L1912.5 118.9M1840.7 201.2L1834.5 196.4M1905.2 319.5L1903.3 315.0M1872.9 366.0L1870.9 364.0M1766.6 319.2L1767.5 311.3M1861.6 76.7L1862.0 78.4M1755.2 294.6L1758.7 299.0M1973.1 358.6L1973.0 360.2M1926.8 350.7L1926.9 350.9M1770.5 72.5L1768.1 73.7M1772.7 297.0L1767.6 297.7M1967.3 221.7L1968.3 221.3M1736.9 237.5L1715.5 240.7M1985.4 169.5L1980.7 167.4M1943.1 158.5L1948.1 162.1M1884.2 215.6L1880.3 214.5M1886.6 361.2L1886.5 363.0M1809.2 348.5L1806.7 350.3M1910.0 244.8L1904.2 241.7M1823.2 93.2L1825.9 92.0M1881.5 44.3L1885.8 45.3M1947.5 342.9L1943.6 338.4M1741.1 165.0L1741.9 168.5M1903.9 62.9L1910.9 63.8M1770.2 309.5L1766.1 302.2M1788.2 305.6L1790.7 303.7M1792.3 102.8L1796.6 100.6M1804.9 81.9L1809.4 78.0M1968.5 116.2L1966.1 118.9M1935.6 69.5L1929.4 72.9M1956.6 227.5L1951.3 231.4M1857.1 71.3L1852.6 72.7M1775.0 43.4L1764.7 43.9M1763.1 189.0L1767.6 192.9M1884.9 134.1L1883.1 133.0M1980.4 241.3L1982.6 241.5M1829.4 282.9L1827.9 287.2M1800.9 92.4L1803.1 89.0M1772.0 142.7L1765.4 138.9M1949.3 59.6L1948.8 63.4M1978.2 365.5L1973.0 360.2M1817.1 296.4L1817.7 296.8M1753.8 217.9L1754.3 217.9M1940.9 73.2L1935.6 69.5M1779.7 53.1L1787.2 51.7M1895.8 78.6L1896.2 74.6M1764.5 176.8L1772.0 175.3M1795.8 115.9L1799.3 110.4M1758.7 299.0L1765.4 295.9M1828.1 318.1L1822.1 318.3M1796.9 334.5L1801.6 329.7M1889.8 148.4L1889.4 140.1M1958.3 259.7L1961.1 260.1M1794.0 124.3L1797.1 125.6M1916.7 145.8L1916.6 145.4M1960.9 309.7L1955.2 312.7M1946.9 44.4L1947.5 48.5M1898.6 342.1L1897.8 342.5M1876.9 311.8L1875.4 305.9M1903.3 258.6L1908.2 262.6M1913.5 191.9L1912.3 198.3M1854.4 124.9L1847.0 125.7M1887.8 123.3L1887.2 118.4M1831.3 79.0L1827.4 75.7M1819.0 120.5L1819.8 123.9M1886.5 107.0L1892.6 109.8M1754.4 356.4L1747.7 357.8M1763.7 252.3L1757.9 252.5M1985.7 296.0L1991.1 298.9M1964.5 208.7L1960.8 207.6M1794.6 208.5L1786.1 207.1M1847.2 170.2L1844.7 168.9M1935.8 44.9L1941.8 40.8M1947.4 168.5L1948.1 162.1M1731.4 332.1L1693.4 326.9M1767.1 348.1L1767.3 344.0M1834.1 161.0L1832.5 155.0M1943.0 142.0L1947.2 138.2M1920.1 89.0L1920.1 94.0M1868.6 102.7L1868.4 110.2M1742.2 345.1L1745.8 351.1M1899.4 354.5L1899.7 353.2M1791.6 108.2L1799.3 110.4M1915.7 101.3L1911.5 101.6M1780.4 306.2L1778.1 312.6M1758.2 271.9L1755.1 275.5M1956.6 184.0L1955.7 178.7M1934.0 127.6L1934.4 127.6M1754.4 356.4L1758.5 361.3M1813.0 128.2L1819.8 123.9M1866.0 216.0L1865.2 219.6M1912.2 230.5L1913.6 229.7M1953.5 160.3L1948.1 162.1M1870.8 252.6L1864.2 250.3M1955.8 213.1L1956.4 210.3M1987.0 279.7L1990.5 285.0M1794.3 147.8L1785.1 146.4M1835.9 107.5L1839.4 113.6M1979.7 341.8L1973.5 345.0M1806.7 262.1L1806.6 264.1M1758.6 305.0L1758.2 304.8M1819.4 73.0L1817.4 80.2M1958.5 280.0L1964.9 283.5M1867.6 241.3L1872.8 245.3M1753.9 129.4L1757.7 133.9M1844.1 51.0L1841.1 53.0M1838.2 221.3L1842.2 222.9M1835.5 43.6L1843.9 31.9M1912.2 230.5L1910.1 235.1M1796.9 84.3L1803.1 89.0M1736.2 350.9L1736.2 355.2M1790.3 348.8L1797.7 351.3M1981.6 94.4L1976.4 95.7M1955.2 312.7L1953.4 311.0M1896.3 298.4L1899.6 296.4M1819.7 314.3L1816.4 310.4M1752.4 145.8L1758.6 150.4M1966.8 171.0L1959.2 171.2M1798.3 310.4L1799.1 304.2M1759.2 242.1L1754.9 248.6M1827.3 108.6L1821.2 111.2M1771.4 349.9L1771.2 355.6M1964.5 60.5L1964.0 62.7M1778.6 111.0L1781.3 116.4M1759.2 59.4L1759.8 65.3M1921.3 298.4L1930.1 296.4M1972.4 215.0L1969.8 215.9M1985.6 289.4L1985.7 296.0M1912.7 358.1L1916.1 355.6M1919.1 134.1L1923.8 131.0M1775.4 341.7L1780.7 340.3M1853.3 102.6L1853.1 102.3M1818.3 254.3L1817.5 256.9M1803.1 89.0L1805.2 88.1M1751.8 302.9L1754.8 305.2M1929.6 88.0L1935.0 83.1M1836.6 320.0L1829.7 322.9M1983.1 87.8L1985.9 86.2M1912.3 94.5L1910.5 97.4M1990.5 285.0L1985.6 289.4M1808.6 190.9L1809.2 197.3M1792.3 328.9L1793.2 333.9M1786.4 317.6L1785.5 313.5M1830.6 349.6L1827.5 348.0M1987.0 279.7L1980.2 282.3M1984.1 296.6L1979.4 305.2M1849.2 142.7L1853.6 138.5M1964.8 274.0L1958.7 274.9M1809.7 240.7L1809.6 242.6M1847.7 280.5L1847.5 277.8M1742.5 212.8L1747.7 212.9M1930.5 169.9L1934.0 176.9M1934.8 117.0L1931.1 119.0M1919.5 160.5L1917.3 158.8M1867.3 159.5L1867.3 158.8M1888.6 334.1L1891.3 341.2M1987.4 320.6L1996.1 314.8M1981.6 94.4L1983.1 87.8M1872.7 68.7L1872.1 71.7M1943.7 111.3L1943.9 115.3M1741.0 257.9L1743.9 261.6M1845.3 244.2L1848.7 245.7M1974.2 208.2L1968.5 205.0M1896.5 178.4L1900.2 173.3M1793.6 283.2L1790.4 279.7M1913.5 162.6L1913.2 168.0M1734.9 217.3L1741.5 212.0M1946.2 313.3L1950.2 320.7M1922.6 50.2L1925.5 51.2M1882.2 102.0L1881.4 97.1M1914.4 131.5L1916.4 125.0M1899.4 266.8L1900.6 259.8M1882.4 174.8L1879.2 177.4M1974.1 178.4L1967.2 177.1M1815.4 354.8L1817.2 358.6M1807.8 290.0L1810.8 283.0M1912.2 213.2L1915.3 215.6M1804.9 100.0L1800.9 92.4M1750.0 161.9L1747.5 170.9M1904.8 282.0L1900.5 278.8M1750.3 254.8L1750.8 259.2M1734.8 305.7L1735.5 312.1M1960.0 87.9L1962.6 88.7M1928.4 282.6L1930.8 283.4M1935.2 310.0L1928.8 312.9M1934.0 153.6L1939.6 152.6M1831.8 281.7L1832.5 280.9M1750.5 237.9L1749.7 245.1M1882.8 248.3L1879.4 240.4M1785.5 313.5L1778.1 312.6M1828.2 184.7L1829.7 178.1M1763.1 161.8L1768.4 164.0M1822.1 366.1L1826.1 361.5M1802.5 273.4L1801.1 268.6M1900.2 204.8L1905.6 207.8M1931.1 119.0L1932.1 125.6M1804.3 51.2L1804.7 57.0M1758.2 271.9L1765.7 274.7M1865.7 264.5L1860.8 268.9M1852.0 243.6L1852.2 236.3M1866.4 199.0L1868.9 192.6M1925.2 338.5L1929.2 344.4M1944.7 81.9L1936.0 80.9M1802.2 355.8L1806.2 354.2M1816.5 362.4L1817.2 358.6M1983.7 176.0L1981.8 177.4M1954.5 137.4L1954.0 137.7M1924.6 97.8L1930.8 93.1M1866.3 42.3L1868.4 45.0M1812.9 259.7L1811.9 259.6M1823.7 192.2L1824.8 193.7M1952.0 216.1L1953.8 222.0M1961.8 126.4L1961.7 132.2M1814.6 274.7L1806.7 274.9M1972.6 334.3L1971.0 327.1M1797.6 51.6L1800.3 49.5M1755.4 325.3L1746.3 326.6M1757.7 165.8L1763.1 170.9M1926.3 65.8L1928.1 72.4M1761.8 188.7L1757.7 191.8M1890.4 366.0L1886.5 363.0M1864.0 281.0L1866.4 275.6M1775.9 101.0L1774.0 110.0M1745.5 110.7L1747.8 108.8M1873.2 99.7L1873.2 96.6M1981.5 122.1L1982.9 117.7M1847.8 231.4L1848.6 234.3M1887.4 181.9L1880.4 183.7M1755.3 352.1L1759.5 349.0M1843.9 74.0L1838.1 72.0M1828.2 184.7L1831.7 186.9M1942.8 274.8L1939.4 271.5M1756.5 215.5L1761.9 215.9M1766.8 257.0L1771.6 260.9M1963.3 267.2L1964.8 274.0M1822.5 206.9L1826.3 208.2M1898.5 109.6L1905.9 108.9M1863.7 161.7L1858.4 159.8M1955.4 361.5L1949.0 364.3M1917.6 53.3L1917.6 54.3M1889.9 304.8L1893.9 311.9M1745.5 192.6L1742.5 195.0M1853.8 283.8L1852.4 290.4M1942.9 158.5L1943.1 158.5M1935.6 69.5L1935.7 68.1M1893.9 148.3L1899.4 155.1M1903.9 305.1L1903.6 298.3M1980.4 229.0L1980.8 229.5M1951.0 174.0L1955.7 178.7M1906.2 114.3L1903.6 116.6M1754.4 57.4L1759.2 59.4M1735.1 177.2L1736.3 170.7M1821.0 295.2L1828.2 298.4M1790.1 348.9L1790.3 348.8M1925.2 321.5L1932.7 319.2M1862.8 326.9L1857.8 326.1M1864.1 243.4L1864.2 250.3M1745.0 140.1L1748.1 146.0M1980.1 77.1L1977.1 79.9M1976.2 176.2L1975.5 171.0M1949.6 109.5L1953.3 116.1M1835.1 222.5L1833.9 230.3M1944.4 145.9L1941.2 148.7M1968.9 310.3L1968.7 305.7M1910.0 70.1L1914.5 73.4M1911.3 222.8L1913.6 229.7M1987.2 236.4L2005.3 246.6M1868.1 93.5L1868.8 87.4M1938.4 212.7L1945.8 215.1M1873.1 250.5L1870.8 252.6M1979.7 341.8L1976.5 334.7M1943.9 115.3L1947.6 120.5M1969.0 129.9L1964.7 135.7M1775.9 58.2L1776.1 63.8M1734.8 305.7L1742.7 304.2M1831.4 311.2L1830.8 306.5M1780.5 335.9L1780.7 340.3M1749.7 183.8L1751.5 184.9M1895.8 301.4L1889.9 304.8M1793.4 343.7L1799.4 342.2M1746.1 289.3L1746.8 289.0M1947.6 154.3L1953.3 155.0M1755.4 96.8L1759.1 91.7M1987.1 276.2L1987.0 279.7M1900.9 230.4L1901.5 235.8M1759.1 288.4L1757.0 282.4M1984.3 130.4L1984.6 128.0M1851.7 363.9L1850.6 358.5M1767.6 120.4L1771.8 118.4M1946.8 123.8L1944.2 125.4M1943.9 115.3L1938.9 119.1M1954.5 137.4L1959.4 141.1M1960.9 185.2L1956.6 184.0M1900.2 100.2L1901.7 101.2M1758.2 304.8L1754.8 305.2M1941.9 366.9L1935.7 407.3M1751.3 273.8L1745.3 278.3M1800.2 318.5L1803.8 322.3M1932.5 192.3L1928.3 190.3M1876.9 135.2L1876.6 137.6M1920.6 42.7L1923.7 40.7M1885.1 103.1L1886.5 107.0M1972.3 267.8L1969.6 264.9M1767.1 63.8L1761.3 66.0M1976.3 258.4L1982.6 256.5M1757.0 282.4L1756.5 282.1M1811.9 259.6L1808.5 253.5M1925.3 364.6L1930.2 362.8M1738.9 131.8L1743.7 131.4M1888.0 345.0L1887.8 349.6M1849.5 116.2L1846.3 118.0M1739.3 326.0L1737.3 322.0M1862.7 96.2L1863.6 99.7M1784.7 64.0L1782.4 59.7M1856.4 244.8L1852.0 243.6M1912.9 268.4L1916.4 267.2M1982.9 185.0L1979.2 186.9M1896.2 104.2L1900.2 100.2M1849.2 84.9L1844.6 88.1M1913.3 253.3L1914.5 259.5M1941.5 124.8L1934.4 127.6M1898.9 185.1L1889.4 185.5M1780.7 281.3L1782.0 275.4M1799.1 275.5L1802.5 273.4M1880.9 147.9L1889.0 149.1M1879.4 240.4L1878.1 240.2M1928.8 199.5L1932.5 192.3M1876.7 154.9L1870.3 153.3M1844.6 88.1L1845.1 92.5M1864.6 335.8L1864.7 339.9M1948.2 364.0L1945.6 358.0M1929.2 87.9L1925.4 81.8M1846.9 340.9L1845.1 342.2M1924.3 179.7L1930.7 179.4M1810.3 215.3L1808.0 207.8M1952.4 56.4L1952.0 51.2M1865.7 56.0L1861.9 58.8M1868.3 170.5L1865.6 177.4M1856.5 86.8L1856.6 81.0M1831.9 190.1L1824.8 193.7M1890.9 177.5L1896.5 178.4M1897.6 288.2L1890.7 289.9M1961.7 266.4L1956.3 268.8M1746.7 42.8L1739.2 45.6M1749.7 245.1L1754.9 248.6M1775.6 177.6L1772.0 175.3M1809.4 47.0L1809.7 47.0M1867.6 241.3L1867.9 238.0M1974.2 194.2L1969.9 191.1M1840.0 238.1L1835.4 240.0M1785.6 304.1L1783.3 298.1M1763.7 252.3L1764.8 247.8M1845.1 211.8L1845.3 208.8M1925.4 236.4L1924.7 229.9M1900.2 172.5L1905.1 168.3M1884.2 82.3L1883.6 87.5M1755.3 352.1L1754.4 356.4M1954.0 137.7L1947.2 138.2M1824.2 230.0L1824.0 237.2M1950.8 71.9L1945.1 73.4M1832.0 71.2L1827.1 74.6M1921.3 330.4L1916.5 325.2M1832.7 276.9L1832.5 280.9M1893.9 165.0L1901.0 161.3M1985.1 263.1L1984.7 265.0M1940.4 313.1L1935.2 310.0M1794.6 208.5L1793.9 212.8M1865.9 116.4L1870.8 120.2M1810.2 297.6L1817.1 296.4M1851.7 356.6L1844.7 349.6M1865.8 127.4L1866.3 132.9M1788.7 308.1L1785.5 313.5M1959.7 350.2L1955.5 350.1M1851.2 274.6L1856.0 276.3M1938.5 109.8L1937.1 110.4M1864.2 85.2L1862.0 78.4M1872.9 366.0L1879.8 365.3M1741.8 60.1L1737.2 56.1M1774.7 298.5L1772.7 297.0M1871.2 180.2L1865.6 177.4M1977.5 266.4L1972.3 267.8M1976.7 201.6L1977.3 207.0M1777.6 282.6L1777.2 288.5M1808.7 74.3L1809.4 78.0M1987.2 236.4L1982.6 241.5M1946.4 347.4L1942.7 349.7M1793.9 212.8L1785.7 215.9M1943.7 204.9L1937.5 209.2M1742.9 252.7L1750.3 254.8M1939.4 60.9L1939.9 62.7M1917.7 81.7L1916.9 85.3M1966.8 171.0L1967.4 170.1M1904.7 133.7L1901.3 132.1M1865.8 235.3L1866.9 230.2M1839.5 231.2L1833.9 230.3M1985.6 200.7L1994.7 194.7M1831.6 54.7L1831.5 51.6M1872.0 339.4L1876.9 346.4M1879.2 297.6L1882.8 296.6M1781.0 132.0L1775.6 134.5M1860.2 222.9L1865.2 219.6M1790.0 139.5L1792.7 139.6M1922.1 227.9L1921.9 222.3M1736.2 295.8L1743.0 297.7M1922.9 118.3L1927.3 117.1M1773.6 89.4L1773.6 91.4M1838.1 72.0L1838.7 65.2M1903.9 305.1L1908.3 307.1M1829.0 140.3L1822.9 143.9M1899.7 353.2L1897.3 349.2M1779.1 99.8L1775.9 101.0M1959.1 115.4L1956.6 117.0M1755.4 67.0L1753.5 71.3M1870.2 214.6L1873.2 207.6M1956.3 268.8L1956.1 272.7M1825.7 49.9L1831.5 51.6M1737.7 336.4L1740.9 334.7M1986.0 341.7L1999.7 345.0M1892.6 109.8L1891.8 114.4M1909.1 207.2L1909.2 199.4M1848.6 132.5L1852.4 132.7M1914.1 304.7L1923.0 303.3M1947.9 177.5L1951.0 174.0M1964.7 135.7L1961.7 132.2M1844.2 124.0L1847.0 125.7M1808.5 253.5L1805.0 253.0M1878.7 318.4L1872.3 319.8M1820.8 124.5L1823.5 132.6M1832.4 175.7L1831.8 171.3M1872.2 183.9L1871.2 180.2M1772.1 327.8L1769.2 329.4M1861.3 357.3L1855.7 354.4M1769.9 98.8L1768.6 95.3M1857.6 170.5L1857.0 174.4M1986.0 99.7L1982.6 104.2M1905.6 319.7L1907.2 323.5M1787.9 247.3L1782.3 244.8M1744.2 230.2L1747.7 226.7M1854.3 176.4L1857.0 174.4M1902.7 60.2L1908.1 53.9M1755.9 101.0L1749.2 103.6M1905.1 269.0L1905.5 273.6M1853.6 138.5L1852.4 132.7M1783.6 346.3L1790.1 348.9M1979.3 40.8L1945.5 -1865.1M1960.8 304.7L1956.9 302.2M1757.4 228.5L1758.0 224.8M1742.9 252.7L1744.3 247.6M1955.4 361.5L1956.0 359.5M1830.3 265.6L1836.4 267.9M1809.7 47.0L1813.3 53.5M1953.4 311.0L1952.4 306.3M1870.2 359.0L1864.7 356.3M1824.8 193.7L1825.8 197.5M1906.6 220.8L1911.3 222.8M1768.1 244.3L1770.6 244.9M1758.8 89.0L1759.1 91.7M1843.5 297.9L1844.1 304.3M1892.3 252.9L1899.5 249.1M1969.3 351.1L1963.5 346.0M1881.9 161.3L1889.3 161.6M1791.4 260.6L1789.3 267.1M1901.7 101.2L1905.9 108.9M1862.3 210.8L1855.1 208.1M1797.7 251.2L1803.2 253.8M1910.0 244.8L1909.1 251.0M1816.2 184.8L1811.2 181.2M1788.2 305.6L1788.7 308.1M1804.7 57.0L1808.8 58.6M1963.0 258.9L1964.4 253.0M1905.0 139.0L1913.5 138.7M1755.7 319.2L1750.5 316.1M1929.7 302.4L1925.7 305.4M1872.2 183.9L1879.9 183.3M1768.4 164.0L1771.1 162.4M1930.7 179.4L1934.0 176.9M1786.2 326.2L1792.3 328.9M1809.4 89.5L1812.6 86.6M1919.3 185.3L1912.6 182.7M1807.8 243.6L1805.0 253.0M1849.2 84.9L1853.4 87.9M1840.1 206.7L1840.7 201.2M1817.6 243.8L1811.9 244.3M1816.2 162.0L1821.4 158.2M1764.5 207.8L1771.7 206.1M1986.0 99.7L1985.8 98.6M1768.0 362.3L1771.7 364.0M1746.3 326.6L1746.4 321.9M1779.9 159.1L1772.7 162.8M1920.5 348.3L1917.1 351.3M1814.5 147.7L1815.0 141.1M1782.5 43.1L1787.2 51.7M1743.9 261.6L1745.0 267.4M1792.7 358.7L1798.3 354.2M1777.5 57.3L1782.4 59.7M1764.5 176.8L1763.1 176.4M1866.9 230.2L1869.7 228.2M1865.7 264.5L1869.8 268.6M1934.2 260.5L1934.8 265.0M1964.4 93.0L1969.1 94.3M1799.2 192.9L1807.3 190.1M1876.0 94.7L1881.4 97.1M1930.1 44.2L1927.8 50.2M1959.1 115.4L1960.0 112.8M1745.0 140.1L1741.6 140.2M1884.2 215.6L1884.7 220.6M1803.8 199.2L1809.2 197.3M1845.3 244.2L1841.4 246.7M1982.0 273.1L1987.1 276.2M1851.0 269.4L1845.5 266.8M1855.8 349.4L1855.7 354.4M1944.8 357.6L1942.7 349.7M1966.8 239.3L1965.9 243.4M1770.6 338.9L1770.6 338.6M1931.4 59.6L1930.5 62.3M1844.1 304.3L1848.1 306.4M1806.3 339.3L1810.0 344.6M1846.6 93.8L1852.8 92.6M1868.9 148.2L1865.4 147.1M1937.1 110.4L1932.3 108.3M1849.0 326.9L1853.6 328.9M1867.2 320.8L1861.8 315.8M1956.9 302.2L1956.3 297.5M1954.5 74.3L1950.8 71.9M1921.3 79.9L1925.4 81.8M1855.6 339.3L1862.4 341.3M1848.6 55.8L1848.5 52.7M1926.1 56.6L1925.5 51.2M1809.6 177.8L1806.9 176.9M1877.7 287.7L1874.2 290.6M1779.4 200.5L1784.2 197.2M1926.8 353.2L1930.8 358.6M1775.4 198.3L1770.8 201.6M1779.0 216.0L1773.4 211.7M1972.4 215.0L1978.0 216.8M1894.4 242.7L1899.4 246.6M1878.2 118.2L1885.2 117.2M1857.3 117.6L1855.1 118.6M1836.8 116.4L1839.4 114.0M1779.6 368.1L1771.9 364.4M1902.9 237.0L1904.2 241.7M1934.7 251.4L1935.5 244.8M1929.1 168.9L1930.5 169.9M1833.0 237.8L1835.4 240.0M1907.4 349.5L1907.1 349.4M1903.6 298.3L1899.6 296.4M1874.3 261.2L1876.9 267.6M1946.8 104.6L1947.8 109.1M1921.8 105.9L1917.0 112.0M1901.1 155.7L1905.2 152.9M1792.0 228.3L1792.3 223.7M1796.9 334.5L1793.2 333.9M1941.9 366.9L1938.3 363.8M1828.5 332.7L1823.8 335.5M1806.5 72.2L1807.2 66.9M1880.3 214.5L1878.6 209.5M1792.9 273.2L1790.1 276.7M1946.8 123.8L1954.1 127.1M1797.1 66.8L1800.3 73.1M1843.1 256.6L1839.1 259.2M1878.6 209.5L1882.6 205.6M1908.9 290.3L1910.1 289.8M1975.3 132.1L1979.9 133.5M1991.2 150.6L1984.9 154.4M1773.6 231.3L1774.7 222.7M1876.0 60.3L1873.7 58.9M1742.7 286.9L1746.1 289.3M1937.7 281.3L1940.4 289.9M1869.8 225.2L1876.0 222.3M1879.4 303.9L1884.8 305.9M1890.6 231.7L1885.9 229.6M1955.5 350.1L1952.5 352.3M1973.8 244.3L1968.7 246.7M1834.1 161.0L1835.9 162.5M1981.9 329.8L1976.5 334.7M1757.4 228.5L1762.5 231.2M1944.2 125.4L1941.5 124.8M1745.4 158.8L1744.8 156.5M1736.2 350.9L1742.2 345.1M1966.4 123.3L1973.5 123.1M1966.0 162.5L1966.0 162.4M1739.8 50.8L1747.1 51.6M1810.5 93.8L1809.4 89.5M1795.1 214.8L1795.7 221.6M1747.1 43.2L1749.4 49.0M1903.6 298.3L1908.0 295.7M1915.5 243.8L1920.2 242.4M1853.8 215.0L1856.0 216.0M1736.2 143.3L1737.3 143.6M1767.6 192.9L1766.4 197.7M1777.5 81.2L1784.9 78.6M1936.4 193.3L1934.0 192.0M1790.5 70.2L1791.9 65.9M1788.5 99.7L1787.1 96.1M1874.4 335.7L1878.0 334.4M1883.1 133.0L1881.8 126.4M1929.4 252.0L1925.5 249.0M1854.3 176.4L1853.4 185.1M1844.6 104.0L1845.3 108.5M1969.2 52.3L1965.9 51.3M1878.0 194.2L1872.1 191.1M1734.9 220.0L1734.9 217.3M1781.3 326.2L1785.2 327.0M1766.7 105.5L1760.6 100.1M1927.0 199.9L1926.5 206.1M1929.2 344.4L1926.8 350.7M1839.1 142.9L1834.5 139.4M1737.4 206.5L1740.4 208.3M1794.0 74.7L1790.6 80.5M1783.3 298.1L1781.8 297.1M1832.4 41.0L1835.5 43.6M1910.5 97.4L1911.5 101.6M1765.3 149.1L1767.1 155.0M1731.4 332.1L1739.3 326.0M1954.5 74.3L1959.8 69.7M1877.0 49.3L1882.6 54.2M1921.5 270.4L1916.4 267.2M1876.4 348.2L1876.9 346.4M1956.0 359.5L1962.3 356.8M1821.3 170.2L1816.2 162.0M1798.5 266.9L1801.1 268.6M1910.1 235.1L1912.9 240.2M1775.6 134.5L1771.2 132.1M1740.7 243.0L1734.6 246.1M1777.6 84.3L1773.6 89.4M1795.1 214.8L1802.4 214.4M1855.6 339.3L1855.0 335.3M1737.3 367.0L1741.4 364.9M1791.4 117.1L1795.8 115.9M1966.4 123.3L1966.1 118.9M1908.3 51.2L1912.0 49.6M1809.6 131.9L1812.7 129.5M1841.3 177.3L1842.2 170.0M1912.1 316.4L1912.0 314.4M1859.9 242.1L1856.4 244.8M1924.8 267.6L1921.5 270.4M1977.9 280.1L1972.4 281.9M1817.6 52.1L1815.0 53.6M1985.1 68.4L1985.6 66.7M1826.1 361.5L1826.4 358.7M1773.6 91.4L1768.6 95.3M1841.3 153.4L1833.4 153.4M1919.0 342.8L1915.4 341.5M1944.4 145.9L1947.6 154.3M1973.7 108.2L1974.0 101.6M1876.6 137.6L1883.1 140.5M1870.4 59.5L1869.0 65.1M1835.7 134.5L1834.5 139.4M1842.5 275.5L1838.6 280.3M1749.8 333.2L1755.9 335.2M1815.0 325.6L1818.5 328.6M1863.9 65.9L1865.7 71.5M1922.9 118.3L1917.2 113.0M1738.4 85.3L1742.9 87.6M1732.0 91.3L1738.4 85.3M1757.9 252.5L1755.8 251.2M1938.7 302.9L1934.6 305.3M1903.8 72.9L1910.0 70.1M1980.6 286.8L1974.7 290.0M1964.0 153.2L1963.7 149.1M1885.8 214.4L1892.3 214.8M1952.1 100.4L1950.1 95.1M1806.0 186.3L1801.5 183.6M1932.5 192.3L1934.0 192.0M1868.6 285.0L1864.0 281.0M1880.6 342.6L1876.9 346.4M1781.8 291.4L1781.8 297.1M1948.7 332.6L1948.4 330.4M1877.3 104.1L1882.2 102.0M1784.9 78.6L1784.5 73.6M1872.3 319.8L1870.2 319.1M1828.7 122.7L1820.8 124.5M1930.8 93.1L1929.6 88.0M1968.3 221.3L1969.8 215.9M1796.3 252.2L1793.8 259.9M1810.3 327.2L1803.5 326.2M1878.1 273.7L1878.1 268.6M1880.9 147.9L1883.1 140.5M1804.8 235.1L1804.6 232.5M1854.0 347.2L1855.8 349.4M1955.9 168.7L1957.0 164.7M1866.5 261.2L1865.7 264.5M1737.2 200.8L1730.3 194.6M1942.8 200.2L1943.7 204.9M1946.1 86.1L1944.7 81.9M1940.3 134.6L1939.2 139.5M1960.9 309.7L1964.3 312.1M1909.0 280.8L1913.2 284.0M1737.9 65.9L1743.3 64.9M1977.2 160.7L1974.2 155.1M1812.7 129.5L1813.0 128.2M1885.2 117.2L1887.2 118.4M1912.3 198.3L1909.2 199.4M1869.1 327.7L1870.1 332.9M1832.5 280.9L1838.6 280.3M1780.1 232.4L1782.3 227.6M1745.2 116.5L1750.1 119.8M1847.9 320.1L1849.0 326.9M1869.1 327.7L1865.8 325.3M1886.6 206.8L1882.6 205.6M1940.4 313.1L1939.4 316.4M1800.4 243.9L1799.1 238.3M1983.8 253.3L2005.6 253.4M1771.6 260.9L1771.6 265.9M1751.3 273.8L1748.8 268.0M1921.8 181.5L1916.8 173.8M1968.4 279.9L1968.0 275.4M1789.6 230.3L1782.3 227.6M1798.8 124.0L1799.5 120.0M1827.5 270.4L1822.8 274.3M1943.3 100.3L1946.8 104.6M1826.4 358.7L1823.7 356.2M1763.3 326.4L1758.3 329.0M1810.8 167.5L1811.5 164.3M1937.6 199.1L1934.5 202.5M1943.7 111.3L1938.5 109.8M1930.8 93.1L1934.3 95.1M1856.6 81.0L1862.0 78.4M1955.8 318.9L1950.4 320.7M1982.1 59.7L1985.3 66.4M1955.7 178.7L1959.8 175.4M1912.7 243.0L1912.9 240.2M1803.8 322.3L1803.5 326.2M1847.5 336.2L1844.3 333.0M1763.4 72.3L1761.3 66.0M1763.4 72.3L1768.1 73.7M1788.0 131.0L1784.1 133.8M1809.0 121.2L1809.3 119.8M1950.0 191.0L1952.5 185.3M1797.1 125.6L1798.8 124.0M1912.5 118.9L1917.2 113.0M1758.4 108.3L1755.9 101.0M1818.3 254.3L1813.3 250.4M1930.4 135.7L1934.0 127.6M1919.0 342.8L1920.5 348.3M1741.5 118.5L1745.2 116.5M1961.9 233.2L1958.1 238.8M1878.5 167.3L1883.1 171.1M1960.3 219.9L1960.3 216.9M1886.6 239.8L1883.0 238.5M1845.1 211.8L1837.9 216.3M1960.8 188.8L1955.5 195.4M1899.9 336.5L1907.1 333.6M1849.0 326.9L1845.1 328.9M1745.2 116.5L1745.5 110.7M1981.5 267.5L1977.5 266.4M1744.3 247.6L1740.7 243.0M1968.7 305.7L1974.1 302.3M1854.5 192.9L1856.5 187.6M1771.8 118.4L1772.0 110.5M1814.6 274.7L1816.2 282.5M1945.5 197.1L1945.9 192.3M1803.1 170.5L1803.8 170.8M1976.3 258.4L1973.0 257.0M1982.8 343.2L1982.7 347.2M1782.7 268.7L1783.2 273.6M1793.2 319.7L1796.2 325.5M1742.2 344.7L1746.8 341.9M1945.6 358.0L1944.8 357.6M1836.1 329.2L1839.5 326.3M1950.5 289.1L1953.7 296.6M1897.8 342.5L1891.3 341.2M1976.7 114.6L1982.9 117.7M1831.2 215.5L1834.2 212.3M1894.6 258.7L1900.6 259.8M1844.7 168.9L1846.6 161.9M1750.6 62.2L1744.1 65.5M1768.0 183.2L1764.5 176.8M1979.2 186.9L1974.4 184.4M1832.1 364.5L1830.8 393.0M1868.9 148.2L1875.0 145.5M1772.1 321.3L1766.6 319.2M1917.7 277.2L1911.8 273.9M1929.8 135.8L1925.2 140.8M1917.2 158.8L1913.5 162.6M1740.1 222.3L1739.7 228.6M1756.9 176.5L1749.5 180.5M1916.4 125.0L1912.2 121.6M1939.2 93.9L1938.3 86.9M1961.3 251.9L1964.4 253.0M1890.9 88.5L1885.7 89.3M1878.7 318.4L1882.6 322.8M1859.9 95.0L1862.7 96.2M1946.9 298.4L1953.7 296.6M1759.5 349.0L1757.8 344.4M1762.8 279.2L1765.7 274.7M1793.9 182.2L1793.4 178.3M1973.1 72.8L1969.4 68.9M1765.4 213.8L1764.5 207.8M1822.7 176.5L1821.6 170.3M1908.3 189.4L1913.5 191.9M1822.3 83.9L1822.0 83.0M1881.1 191.2L1880.4 183.7M1888.3 284.5L1891.8 281.2M1771.2 355.6L1766.6 357.0M1774.1 148.4L1774.1 152.8M1835.7 134.5L1830.5 129.5M1905.2 319.5L1900.0 321.6M1991.1 298.9L1986.7 308.2M1902.7 363.2L1900.3 364.8M1968.7 246.7L1968.5 250.6M1885.7 89.3L1883.6 87.5M1777.6 84.3L1777.5 81.2M1878.5 76.7L1872.4 72.7M1806.5 72.2L1800.3 73.1M1972.3 267.8L1971.1 272.5M1943.1 266.5L1946.7 267.4M1797.6 161.3L1793.7 163.1M1927.7 112.6L1927.3 117.1M1860.5 282.5L1857.8 281.5M1968.5 156.5L1966.0 162.4M1802.7 41.8L1809.4 47.0M1747.7 226.7L1755.3 229.8M1982.2 106.5L1975.7 109.6M1817.3 193.3L1814.8 188.4M1958.4 365.3L1955.4 361.5M1798.1 246.3L1791.0 242.4M1898.1 214.1L1899.9 219.4M1859.8 364.2L1861.3 357.3M1935.8 44.9L1937.3 50.7M1882.6 352.7L1887.8 349.6M1914.1 43.1L1912.0 49.6M1952.5 352.3L1946.4 347.4M1758.8 89.0L1753.7 86.1M1921.3 150.3L1928.3 146.1M1803.8 364.4L1800.8 362.5M1907.5 333.8L1907.1 333.6M1805.0 158.2L1808.6 153.8M1831.3 148.1L1830.5 140.6M1814.0 235.3L1820.4 238.4M1940.5 327.7L1941.9 327.2M1990.9 47.3L1986.3 54.2M1882.3 251.4L1882.8 248.3M1935.7 68.1L1930.5 62.3M1857.5 95.6L1853.1 102.3M1947.8 109.1L1949.6 109.5M1955.8 213.1L1960.3 216.9M1939.4 271.5L1933.9 276.3M1863.1 333.6L1855.0 335.3M1745.2 235.8L1740.5 239.0M1907.1 349.4L1902.1 343.0M1884.7 220.6L1877.8 223.5M1894.0 132.5L1891.7 129.6M1900.4 276.8L1897.0 274.3M1981.0 42.3L1979.3 40.8M1804.9 100.0L1805.3 100.0M1967.4 109.2L1966.5 108.7M1766.9 79.5L1763.8 82.3M1885.5 170.7L1890.1 172.9M1868.6 285.0L1869.7 289.7M1789.7 294.6L1793.4 296.8M1972.4 154.6L1971.1 149.0M1812.7 129.5L1819.6 134.8M1873.1 250.5L1881.7 251.7M1776.9 251.5L1778.3 250.3M1946.2 313.3L1953.4 311.0M1744.2 268.0L1745.0 267.4M1844.1 51.0L1844.1 45.1M1791.6 59.2L1789.0 54.5M1789.8 154.6L1792.2 153.0M1950.5 145.8L1944.4 145.9M1737.4 206.5L1722.9 208.3M1821.6 170.3L1825.2 168.6M1963.4 343.0L1960.2 339.7M1808.4 356.6L1806.2 354.2M1750.9 87.8L1745.5 86.4M1839.5 95.3L1845.1 92.5M1964.8 274.0L1968.0 275.4M1955.5 58.4L1952.4 56.4M1857.7 38.9L1851.4 43.6M1909.1 274.7L1909.0 280.8M1944.3 306.0L1946.3 304.5M1797.4 262.1L1798.5 266.9M1862.3 210.8L1862.9 212.5M1868.4 110.2L1867.4 110.8M1905.8 289.0L1908.9 290.3M1857.3 222.5L1860.2 222.9M1770.1 221.4L1774.7 222.7M1759.3 183.3L1761.8 188.7M1948.6 206.8L1943.7 204.9M1850.5 80.4L1849.2 84.9M1930.7 259.1L1934.2 260.5M1788.0 131.0L1795.8 132.4M1930.8 283.4L1930.9 284.7M1850.6 358.5L1846.1 359.0M1918.2 95.0L1915.7 101.3M1789.1 320.3L1793.2 319.7M1823.0 115.5L1819.0 120.5M1924.8 267.6L1924.0 260.7M1873.2 280.5L1877.9 285.6M1831.1 221.3L1831.2 215.5M1741.0 257.9L1735.0 261.0M1758.8 317.9L1755.7 319.2M1865.3 190.2L1866.3 184.8M1797.1 66.8L1800.3 63.8M1858.7 295.3L1852.6 298.9M1769.9 66.6L1767.1 63.8M1765.4 295.9L1767.6 297.7M1743.4 327.6L1746.1 326.8M1741.6 140.2L1738.9 131.8M1828.6 117.4L1823.0 115.5M1826.4 358.7L1831.9 355.6M1745.4 278.7L1742.0 284.3M1836.9 178.0L1835.9 185.3M1748.6 135.9L1748.6 134.5M1886.4 319.0L1882.6 322.8M1855.1 118.6L1849.5 116.2M1986.5 335.4L1981.9 329.8M1913.5 138.7L1916.8 145.0M1903.9 305.1L1900.9 305.8M1796.8 155.0L1799.8 153.2M1774.7 140.0L1775.6 134.5M1774.7 298.5L1781.8 297.1M1768.1 244.3L1764.8 247.8M1795.0 93.4L1796.6 100.6M1858.0 146.3L1858.3 139.0M1956.6 328.8L1959.7 321.0M1831.1 221.3L1835.1 222.5M1835.4 297.7L1830.0 296.7M1827.0 341.6L1831.6 339.6M1760.5 177.8L1756.9 176.5M1836.2 103.3L1830.3 101.2M1823.7 356.2L1822.7 350.5M1822.8 274.3L1817.3 271.2M1796.9 84.3L1794.2 89.8M1862.9 212.5L1856.0 216.0M1968.5 205.0L1968.9 201.0M1984.1 117.1L1982.9 117.7M1904.5 164.8L1908.8 161.9M1813.0 128.2L1809.0 121.2M1755.4 67.0L1750.6 62.2M1814.1 232.2L1819.3 229.2M1917.7 277.2L1917.8 281.6M1865.4 140.6L1865.4 147.1M1990.3 208.6L1986.6 206.4M1905.1 168.3L1906.9 169.1M1969.9 191.1L1965.4 195.2M1823.2 101.3L1828.5 102.1M1916.1 355.6L1917.1 351.3M1745.3 71.5L1747.8 73.2M1973.5 123.1L1975.5 124.7M1858.0 146.3L1862.1 148.7M1982.7 347.2L1977.4 350.6M1800.3 63.8L1800.4 58.3M1865.7 56.0L1866.1 51.0M1884.7 263.4L1884.8 265.2M1925.5 249.0L1925.5 249.0M1871.0 161.7L1868.3 170.5M1845.3 208.8L1848.0 207.0M1925.3 275.9L1931.0 273.1M1981.4 316.1L1987.0 309.1M1832.5 155.0L1826.9 154.8M1847.7 280.5L1843.8 286.6M1822.5 206.9L1823.0 199.1M1898.4 50.9L1906.7 50.4M1731.4 60.3L1737.2 56.1M1865.2 308.6L1860.4 303.3M1952.4 306.3L1956.9 302.2M1807.0 294.5L1807.8 290.0M1857.3 155.6L1858.4 159.8M1916.4 41.9L1879.6 -482.9M1760.0 125.7L1753.9 129.4M1748.6 134.5L1743.7 131.4M1905.6 319.7L1912.1 316.4M1806.7 262.1L1803.6 259.4M1855.2 260.8L1860.8 258.3M1884.0 230.5L1879.4 229.5M1922.5 197.9L1917.9 201.6M1848.1 306.4L1848.2 307.7M1971.0 327.1L1964.3 328.7M1794.0 74.7L1799.6 74.0M1839.4 113.6L1839.4 114.0M1898.0 57.3L1898.4 50.9M1913.3 253.3L1918.8 251.0M1795.0 93.4L1795.2 93.0M1779.3 246.0L1782.3 244.8M1964.8 363.7L1967.8 365.4M1894.6 258.7L1892.3 252.9M1974.4 63.8L1975.2 59.8M1741.8 253.6L1737.8 251.9M1759.3 240.0L1753.2 236.7M1761.9 262.9L1757.0 259.9M1768.8 284.6L1772.9 280.5M1763.1 161.8L1757.7 164.7M1974.0 101.6L1968.5 100.6M1821.6 252.2L1826.3 252.8M1820.8 124.5L1819.8 123.9M1850.5 80.4L1851.1 80.1M1870.8 120.2L1876.8 117.3M1944.7 81.9L1946.2 78.9M1763.0 56.0L1768.4 58.2M1753.3 190.4L1749.5 193.6M1976.7 323.5L1971.2 326.2M1731.2 136.0L1736.2 143.3M1776.1 222.1L1774.7 222.7M1775.4 341.7L1774.7 349.0M1846.6 93.8L1845.1 92.5M1942.7 349.7L1938.4 349.3M1825.1 214.4L1831.2 215.5M1912.0 154.2L1917.2 158.8M1986.0 352.7L1982.7 347.2M1750.5 237.9L1745.2 235.8M1791.6 59.2L1790.6 63.6M1887.9 304.1L1889.9 304.8M1783.0 147.2L1783.4 147.4M1964.6 73.1L1959.8 69.7M1745.3 278.3L1742.5 275.2M1791.4 199.8L1794.8 201.7M1868.3 170.5L1868.3 170.5M1931.3 147.7L1928.3 146.1M1981.4 316.1L1980.6 316.1M1802.4 207.9L1803.7 207.2M1921.3 298.4L1918.6 295.9M1926.8 169.7L1924.3 179.7M1772.1 81.6L1766.9 79.5M1768.0 362.3L1760.6 363.7M1751.5 311.5L1749.6 313.5M1887.7 333.4L1887.8 329.3M1911.3 176.8L1916.8 173.8M1809.7 240.7L1804.8 235.1M1811.9 154.9L1808.6 153.8M1745.4 278.7L1745.3 278.3M1858.0 232.4L1857.8 234.8M1766.8 257.0L1766.4 254.7M1768.4 164.0L1767.3 167.5M1747.1 43.2L1754.3 42.0M1928.9 244.6L1935.5 244.8M1977.6 356.0L1973.1 358.6M1748.1 146.0L1740.3 149.5M1856.4 244.8L1858.0 250.5M1829.0 140.3L1830.5 140.6M1788.5 99.7L1783.0 106.2M1831.8 281.7L1838.7 289.1M1791.4 199.8L1793.4 192.5M1945.9 192.3L1943.6 191.0M1920.9 123.6L1924.2 127.4M1868.9 192.6L1872.1 191.1M1962.3 356.8L1962.5 356.5M1852.8 92.6L1857.5 95.6M1847.6 70.1L1852.6 72.7M1884.9 134.1L1891.7 129.6M1870.8 120.2L1871.5 125.6M1738.3 186.0L1715.0 181.2M1792.9 273.2L1799.1 275.5M1904.5 213.0L1905.6 207.8M1946.5 256.4L1943.1 258.3M1830.5 129.5L1831.3 125.7M1844.5 194.7L1845.3 197.0M1944.3 306.0L1938.7 302.9M1751.4 58.6L1748.0 55.5M1817.7 296.8L1817.6 303.8M1747.7 226.7L1747.5 222.4M1970.1 231.3L1972.1 235.4M1943.3 338.3L1936.0 343.3M1754.3 42.0L1757.1 44.3M1955.9 168.7L1951.6 171.1M1978.4 276.0L1971.1 272.5M1898.2 81.5L1895.8 78.6M1878.7 318.4L1878.9 312.9M1844.1 304.3L1842.5 304.7M1762.5 231.2L1763.4 237.9M1783.1 106.7L1778.6 111.0M1838.7 289.1L1843.7 287.2M1797.7 351.3L1800.9 346.7M1951.8 251.7L1951.4 246.9M1907.0 131.5L1904.7 133.7M1734.4 267.5L1735.0 261.0M1878.8 125.8L1874.3 127.6M1817.6 52.1L1818.5 43.0M1860.9 251.7L1858.0 250.5M1976.2 176.2L1974.1 178.4M1748.8 268.0L1745.0 267.4M1831.4 311.2L1830.2 312.0M1975.8 65.2L1985.3 66.4M1850.3 154.2L1850.8 154.0M1990.3 208.6L1985.7 215.8M1829.4 282.9L1831.8 281.7M1747.5 222.4L1753.8 217.9M1797.7 351.3L1798.3 354.2M1772.1 81.6L1776.1 80.3M1877.0 326.9L1882.5 323.1M1861.0 107.3L1857.4 111.1M1977.4 350.6L1973.1 347.8M1965.9 243.4L1958.7 243.1M1936.4 193.3L1937.6 199.1M1763.0 341.5L1757.8 344.4M1865.9 297.7L1871.3 300.9M1818.7 59.5L1823.1 56.6M1780.2 69.4L1784.5 73.6M1972.0 334.6L1972.6 334.3M1954.9 253.1L1961.3 251.9M1865.8 235.3L1858.8 235.7M1907.8 216.1L1906.6 220.8M1743.4 356.5L1741.4 364.9M1779.9 159.1L1783.4 163.4M1841.5 365.9L1830.8 393.0M1860.9 289.6L1867.2 291.3M1898.5 329.0L1899.6 328.4M1754.3 217.9L1758.0 224.8M1868.1 93.5L1862.7 96.2M1940.4 289.9L1943.0 291.7M1781.3 326.2L1778.5 320.2M1950.1 95.1L1945.7 94.5M1803.8 364.4L1805.5 395.9M1747.4 366.8L1749.2 364.4M1906.7 198.7L1904.9 193.5M1740.5 239.0L1736.9 237.5M1895.3 107.8L1892.6 109.8M1842.2 222.9L1843.0 228.6M1895.7 90.8L1896.1 94.2M1780.1 42.6L1776.0 44.2M1757.0 259.9L1753.3 261.8M1908.3 307.6L1912.0 314.4M1979.1 50.2L1977.6 50.9M1940.9 280.6L1937.7 281.3M1904.5 138.8L1905.0 139.0M1977.3 207.0L1974.2 208.2M1978.5 250.4L1983.3 252.4M1959.7 321.0L1955.8 318.9M1972.7 88.0L1972.8 92.8M1757.7 165.8L1753.0 171.0M1902.2 41.2L1904.4 42.2M1969.0 129.9L1965.3 125.1M1787.2 200.0L1786.1 207.1M1775.8 241.7L1779.3 246.0M1900.0 321.6L1899.6 328.4M1940.9 167.8L1930.5 169.9M1934.6 305.3L1929.7 302.4M1874.3 261.2L1880.2 258.0M1751.4 58.6L1754.4 57.4M1810.3 327.2L1815.0 325.6M1799.5 342.2L1796.9 334.5M1771.2 56.8L1775.9 58.2M1737.8 251.9L1734.6 246.1M1914.5 259.5L1917.1 260.8M1914.6 335.9L1910.5 333.1M1766.4 254.7L1773.6 251.0M1849.2 142.7L1848.9 142.6M1948.7 332.6L1943.6 338.4M1775.6 177.6L1780.9 173.5M1837.8 102.6L1839.5 95.3M1749.6 313.5L1750.5 316.1M1841.3 177.3L1843.8 179.1M1788.3 250.5L1786.3 252.8M1867.2 320.8L1865.8 325.3M1960.2 339.7L1960.4 334.8M1832.7 276.9L1837.3 272.1M1841.4 246.7L1841.1 251.7M1848.7 245.7L1849.1 250.2M1791.0 242.4L1787.9 247.3M1848.6 234.3L1852.2 236.3M1736.2 355.2L1743.4 356.5M1751.8 302.9L1750.2 297.4M1810.1 268.4L1806.6 264.1M1855.0 335.3L1853.8 333.5M1771.7 276.9L1767.0 274.1M1826.1 86.4L1830.2 85.1M1894.4 242.7L1891.2 244.2M1923.0 303.3L1925.7 305.4M1758.7 361.4L1758.5 361.3M1882.4 355.0L1886.6 361.2M1798.3 310.4L1802.6 312.6M1857.9 365.0L1859.8 364.2M1962.5 230.3L1970.1 231.3M1910.1 108.7L1911.3 101.9M1744.3 306.1L1745.1 311.5M1802.6 288.1L1807.8 290.0M1782.3 236.0L1780.1 232.4M1924.2 127.4L1932.1 125.6M1836.9 360.5L1841.0 364.2M1978.7 192.9L1974.2 194.2M1862.0 78.4L1862.0 78.4M1973.3 225.6L1968.3 221.3M1822.1 366.1L1816.5 362.4M1777.7 258.2L1781.3 260.5M1842.5 304.7L1836.7 302.9M1827.3 108.6L1828.5 102.1M1839.5 231.2L1840.0 238.1M1792.0 228.3L1789.6 230.3M1794.3 363.1L1792.7 358.7M1896.2 74.6L1900.5 71.7M1883.0 238.5L1884.0 230.5M1966.5 108.7L1960.0 112.8M1900.5 71.7L1900.7 68.9M1937.3 50.7L1943.4 51.2M1985.8 98.6L1994.1 91.2M1799.5 120.0L1803.3 116.0M1757.7 164.7L1757.7 165.8M1771.8 118.4L1774.9 120.4M1926.9 350.9L1937.0 350.9M1942.7 311.7L1940.4 313.1M1870.2 319.1L1867.2 320.8M1906.6 124.4L1898.8 124.1M1827.3 108.6L1830.4 111.9M1797.7 281.8L1801.1 283.4M1967.4 170.1L1973.6 170.0M1888.3 284.5L1889.0 289.0M1773.1 207.1L1771.7 206.1M1967.2 177.1L1964.5 179.9M1792.2 153.0L1794.3 147.8M1737.0 97.1L1742.5 95.1M1753.7 86.1L1754.1 81.7M1946.0 86.4L1946.1 86.1M1767.3 167.5L1771.9 171.9M1942.8 200.2L1937.6 199.1M1804.6 232.5L1801.5 230.0M1797.7 291.8L1797.5 295.7M1786.3 252.8L1786.2 257.7M1945.8 215.1L1944.7 221.9M1736.7 290.7L1736.2 295.8M1762.4 148.0L1765.3 149.1M1886.5 80.6L1884.2 82.3M1831.6 339.6L1832.3 334.7M1800.1 43.0L1800.3 49.5M1756.6 140.0L1757.7 133.9M1937.0 253.6L1941.4 249.8M1747.7 357.8L1749.2 364.4M1860.8 268.9L1861.3 271.3M1763.1 170.9L1767.3 167.5M1847.2 170.2L1854.8 167.2M1844.3 333.0L1839.9 335.6M1986.8 231.3L1987.2 236.4M1893.9 148.3L1889.8 148.4M1856.0 216.0L1857.3 222.5M1897.0 274.3L1892.1 274.6M1767.1 348.1L1771.4 349.9M1838.8 145.7L1833.2 149.5M1761.9 262.9L1762.1 265.1M1923.6 312.4L1918.2 310.0M1937.7 281.3L1934.2 280.5M1917.0 236.7L1921.7 238.7M1758.7 361.4L1760.6 363.7M1953.4 132.2L1946.5 132.4M1773.1 207.1L1773.4 211.7M1745.5 204.0L1746.3 202.3M1816.3 222.2L1816.8 215.3M1979.3 40.8L1970.9 41.8M1814.0 173.7L1814.4 172.8M1862.9 118.1L1863.2 126.3M1978.4 276.0L1977.9 280.1M1985.9 86.2L1987.5 79.6M1775.6 177.6L1775.9 180.8M1935.5 81.2L1931.6 77.6M1878.9 312.9L1883.0 311.7M1951.6 334.2L1958.4 333.3M1808.0 207.8L1803.7 207.2M1883.0 311.7L1886.7 315.0M1871.5 125.6L1865.8 127.4M1819.1 92.2L1815.8 95.7M1910.1 108.7L1917.0 112.0M1882.9 277.6L1889.8 273.5M1799.5 342.2L1806.3 339.3M1803.2 253.8L1803.6 259.4M1990.5 285.0L2095.7 292.3M1756.7 207.3L1761.8 206.1M1905.5 273.6L1900.4 276.8M1917.8 281.6L1920.4 283.8M1736.6 98.4L1718.5 109.5M1772.1 327.8L1776.2 329.7M1823.1 147.2L1825.3 148.8M1946.3 304.5L1946.9 298.4M1871.3 314.1L1866.7 308.6M1891.8 114.4L1887.2 118.4M1935.7 68.1L1939.9 62.7M1898.5 109.6L1901.2 116.8M1843.8 179.1L1849.9 175.7M1789.1 320.3L1786.2 326.2M1771.9 364.4L1771.7 364.0M1754.8 161.3L1757.7 164.7M1863.2 126.3L1857.1 129.1M1840.9 160.0L1835.9 162.5M1823.1 56.6L1822.9 52.4M1814.8 188.4L1816.2 184.8M1982.6 104.2L1982.2 106.5M1841.0 187.8L1845.0 183.7M1753.0 200.3L1752.3 200.1M1763.4 350.1L1759.5 349.0M1959.7 350.2L1962.5 356.5M1912.2 121.6L1907.1 123.6M1876.9 267.6L1869.8 268.6M1766.4 229.4L1772.2 232.4M1783.2 273.6L1782.0 275.4M1921.2 183.9L1921.8 181.5M1872.8 245.3L1878.1 240.2M1872.9 276.7L1878.1 273.7M1739.7 228.6L1737.2 229.3M1778.3 250.3L1779.3 246.0M1832.3 247.4L1834.9 244.5M1878.2 118.2L1876.8 117.3M1925.5 249.0L1920.2 242.4M1886.5 80.6L1893.2 80.5M1937.0 253.6L1934.7 251.4M1905.1 168.3L1904.5 164.8M1826.3 222.7L1831.1 221.3M1796.3 252.2L1788.3 250.5M1973.0 257.0L1971.9 253.6M1947.5 342.9L1946.4 347.4M1826.1 86.4L1822.3 83.9M1895.1 58.9L1898.0 57.3M1925.4 236.4L1927.5 238.0M1924.6 102.8L1930.1 104.1M1928.3 146.1L1925.2 140.8M1942.7 294.2L1943.0 291.7M1849.7 366.9L1841.5 365.9M1906.7 50.4L1908.3 51.2M1794.0 318.9L1793.2 319.7M1812.8 363.6L1809.1 361.6M1796.7 83.0L1799.5 80.5M1861.8 315.8L1857.0 322.3M1954.6 342.1L1960.2 339.7M1845.3 108.5L1839.4 113.6M1972.3 199.6L1974.2 194.2M1917.9 201.6L1912.3 198.3M1978.7 192.9L1979.2 186.9M1736.7 290.7L1730.4 283.9M1890.9 177.5L1888.2 179.9M1831.7 186.9L1831.9 190.1M1976.8 235.4L1972.1 235.4M1920.8 274.0L1917.7 277.2M1797.8 171.8L1803.1 170.5M1830.4 111.9L1830.5 115.7M1911.5 101.6L1911.3 101.9M1981.8 177.4L1976.2 176.2M1975.0 131.7L1975.3 132.1M1849.9 175.7L1847.2 170.2M1939.7 267.9L1939.4 271.5M1905.8 221.2L1899.9 219.4M1763.7 252.3L1766.4 254.7M1870.3 258.8L1866.5 261.2M1818.5 330.3L1818.5 328.6M1773.8 73.5L1780.2 69.4M1961.0 101.3L1960.8 99.6M1964.2 103.0L1968.5 100.6M1778.4 205.3L1773.1 207.1M1875.7 50.0L1877.0 49.3M1742.2 345.1L1742.2 344.7M1958.4 146.6L1959.4 141.1M1737.3 143.6L1740.3 149.5M1865.4 147.1L1862.1 148.7M1921.2 183.9L1926.7 187.1M1758.1 268.5L1762.1 265.1M1731.9 270.3L1738.1 275.8M1904.4 95.3L1900.2 98.6M1915.3 215.6L1921.6 212.1M1985.9 353.2L1981.5 356.4M1779.1 99.8L1781.7 94.8M1851.7 258.2L1848.0 259.6M1745.3 186.5L1745.5 192.6M1910.5 333.1L1913.4 326.5M1743.0 297.7L1742.7 304.2M1830.2 312.0L1828.1 318.1M1802.5 273.4L1806.7 275.0M1879.2 297.6L1875.8 296.1M1852.8 303.3L1857.4 304.0M1792.9 273.2L1792.6 270.0M1900.4 142.5L1900.3 142.7M1804.8 235.1L1799.1 238.3M1789.3 338.7L1789.8 335.8M1971.0 311.9L1968.9 310.3M1807.5 336.7L1801.6 329.7M1780.1 42.6L1782.5 43.1M1760.5 177.8L1763.1 176.4M1888.0 345.0L1891.3 341.2M1771.9 364.4L1762.8 379.0M1808.7 74.3L1815.7 71.6M1922.6 259.7L1924.0 260.7M1834.5 196.4L1831.2 200.0M1841.4 351.2L1836.1 346.8M1758.6 76.0L1758.5 78.5M1930.8 358.6L1936.4 356.0M1797.5 191.3L1797.6 185.0M1798.1 246.3L1800.4 243.9M1882.4 174.8L1888.2 179.9M1899.6 328.4L1904.0 328.9M1766.7 108.8L1766.7 105.5M1973.1 347.8L1969.3 351.1M1912.9 240.2L1917.0 236.7M1935.4 289.5L1940.4 289.9M1803.3 116.0L1802.0 110.7M1837.1 311.4L1843.9 315.4M1749.2 103.6L1746.3 100.3M1893.2 321.5L1886.4 319.0M1898.0 267.9L1897.0 274.3M1849.7 366.9L1851.7 363.9M1797.7 291.8L1802.6 288.1M1880.4 183.7L1879.9 183.3M1878.4 165.5L1881.9 161.3M1828.9 325.1L1827.5 326.0M1872.0 339.4L1867.6 341.0M1805.8 130.4L1799.0 131.2M1830.9 247.7L1832.3 247.4M1823.2 42.8L1825.7 49.9M1837.9 216.3L1834.2 212.3M1867.3 158.8L1861.3 151.8M1860.8 258.3L1866.5 261.2M1888.6 243.3L1882.8 248.3M1788.9 115.5L1791.4 117.1M1883.0 311.7L1884.8 305.9M1935.3 236.4L1927.5 238.0M1825.1 229.2L1824.2 230.0M1797.5 295.7L1800.9 298.5M1760.6 100.1L1765.6 95.4M1981.3 208.6L1986.6 206.4M1985.7 296.0L1984.1 296.6M1969.7 186.9L1974.4 184.4M1958.3 259.7L1952.6 263.9M1937.0 253.6L1937.4 257.6M1744.3 306.1L1751.8 302.9M1793.4 343.7L1790.3 348.8M1874.2 290.6L1869.7 289.7M1958.7 274.9L1958.5 280.0M1792.2 153.0L1796.8 155.0M1922.1 105.0L1915.7 101.3M1801.1 283.4L1802.6 288.1M1758.5 361.3L1753.7 364.4M1927.8 50.2L1925.5 51.2M1744.5 356.1L1745.8 351.1M1968.7 305.7L1965.3 303.3M1805.0 158.2L1799.8 153.2M1765.2 48.6L1764.7 43.9M1773.8 358.8L1771.7 364.0M1905.8 289.0L1904.8 282.0M1870.2 319.1L1871.3 314.1M1790.6 80.5L1796.7 83.0M1759.1 288.4L1762.9 289.7M1795.4 146.9L1795.6 142.6M1927.6 292.1L1930.1 296.4M1871.3 300.9L1875.8 296.1M1775.0 303.4L1780.4 306.2M1966.7 320.5L1971.2 326.2M1881.8 126.4L1887.8 123.3M1820.9 246.5L1825.9 242.9M1881.5 365.8L1886.5 363.0M1905.5 89.1L1907.7 87.4M1784.1 133.8L1784.7 135.2M1799.3 110.4L1801.2 110.0M1879.2 177.4L1879.9 183.3M1981.8 177.4L1982.9 185.0M1903.7 228.4L1905.8 221.2M1824.2 41.6L1832.4 41.0M1741.9 168.5L1746.0 171.7M1894.0 62.9L1900.7 68.9M1797.8 171.8L1796.6 175.0M1896.1 212.4L1892.3 214.8M1913.0 301.6L1912.8 304.0M1864.2 250.3L1860.9 251.7M1772.9 280.5L1771.7 276.9M1963.0 333.1L1960.4 334.8M1867.9 238.0L1865.8 235.3M1974.7 290.0L1974.1 289.6M1802.2 161.4L1803.1 170.5M1873.2 280.5L1868.6 285.0M1886.8 260.3L1886.4 252.9M1908.1 154.1L1905.2 152.9M1829.7 178.1L1832.4 175.7M1847.0 125.7L1848.6 132.5M1910.1 356.2L1912.7 358.1M1797.7 281.8L1799.1 275.5M1822.9 143.9L1823.1 147.2M1881.9 161.3L1880.2 156.5M1895.1 319.9L1900.0 321.6M1767.7 335.3L1762.1 335.7M1899.9 289.7L1905.8 289.0M1746.3 326.6L1746.1 326.8M1761.8 206.1L1763.7 199.4M1810.3 215.3L1805.2 219.9M1738.3 186.0L1739.8 184.6M1843.3 63.7L1842.9 58.6M1777.2 288.5L1773.6 291.0M1934.1 100.7L1939.1 103.5M1960.8 304.7L1965.3 303.3M1960.0 87.9L1956.2 89.0M1891.6 294.6L1890.7 289.9M1819.5 316.3L1822.1 318.3M1779.4 200.5L1775.4 198.3M1991.1 298.9L2095.7 292.3M1818.3 62.8L1823.9 66.0M1917.1 260.8L1922.6 259.7M1878.0 334.4L1876.8 327.3M1836.1 346.8L1836.5 342.5M1946.1 288.7L1950.5 289.1M1945.6 358.0L1952.4 353.3M1773.6 89.4L1770.2 86.0M1734.4 267.5L1731.9 270.3M1905.5 89.1L1898.6 88.2M1832.9 231.0L1833.9 230.3M1924.7 229.9L1922.1 227.9M1898.0 267.9L1892.0 265.5M1948.7 237.8L1944.0 237.1M1745.7 336.6L1749.8 333.2M1805.2 219.9L1805.1 220.5M1905.1 152.2L1910.4 145.0M1737.0 97.1L1736.6 98.4M1889.8 273.5L1888.6 267.4M1896.1 212.4L1898.1 214.1M1792.3 223.7L1787.9 221.2M1891.2 244.2L1891.4 252.4M1943.4 51.2L1947.5 48.5M1939.7 267.9L1943.1 266.5M1907.2 323.5L1904.0 328.9M1823.6 216.3L1825.1 214.4M1775.9 58.2L1777.5 57.3M1736.2 355.2L1730.1 359.6M1821.8 304.8L1827.8 302.8M1951.0 174.0L1951.6 171.1M1856.5 86.8L1853.4 87.9M1959.9 79.4L1955.3 77.7M1764.0 85.2L1765.0 85.9M1872.0 339.4L1874.4 335.7M1830.4 94.5L1830.3 101.2M1902.1 343.0L1898.6 342.1M1843.7 287.2L1843.8 286.6M1741.1 165.0L1745.4 158.8M1880.2 156.5L1888.9 153.3M1812.8 363.6L1816.5 362.4M1976.6 319.1L1971.8 316.9M1865.7 71.5L1861.6 76.7" stroke="#dcdbe0" stroke-width="1.1" fill="none" opacity="0.5"/><circle cx="1733.6" cy="41.1" r="2.0" fill="#86838b" opacity="0.39"/><circle cx="1741.5" cy="41.6" r="1.6" fill="#86838b" opacity="0.49"/><circle cx="1783.0" cy="38.6" r="1.7" fill="#86838b" opacity="0.38"/><circle cx="1793.1" cy="38.6" r="2.2" fill="#86838b" opacity="0.50"/><circle cx="1828.7" cy="36.3" r="1.3" fill="#86838b" opacity="0.44"/><circle cx="1835.3" cy="36.1" r="1.2" fill="#86838b" opacity="0.40"/><circle cx="1886.6" cy="40.6" r="1.4" fill="#86838b" opacity="0.42"/><circle cx="1907.2" cy="38.8" r="1.7" fill="#86838b" opacity="0.35"/><circle cx="1920.2" cy="37.4" r="2.1" fill="#86838b" opacity="0.36"/><circle cx="1947.2" cy="38.8" r="1.2" fill="#86838b" opacity="0.28"/><circle cx="1973.7" cy="37.3" r="2.0" fill="#86838b" opacity="0.34"/><circle cx="1983.4" cy="35.5" r="2.2" fill="#86838b" opacity="0.21"/><circle cx="1990.9" cy="41.8" r="1.0" fill="#86838b" opacity="0.29"/><circle cx="1743.4" cy="45.9" r="1.0" fill="#86838b" opacity="0.53"/><circle cx="1750.3" cy="44.4" r="1.3" fill="#86838b" opacity="0.31"/><circle cx="1761.3" cy="48.4" r="1.5" fill="#86838b" opacity="0.40"/><circle cx="1768.4" cy="48.7" r="1.7" fill="#86838b" opacity="0.52"/><circle cx="1788.1" cy="45.8" r="1.5" fill="#86838b" opacity="0.45"/><circle cx="1797.6" cy="47.0" r="1.5" fill="#86838b" opacity="0.32"/><circle cx="1804.3" cy="47.2" r="1.2" fill="#86838b" opacity="0.46"/><circle cx="1815.6" cy="48.8" r="2.1" fill="#86838b" opacity="0.24"/><circle cx="1840.2" cy="49.2" r="1.1" fill="#86838b" opacity="0.47"/><circle cx="1848.7" cy="48.1" r="1.4" fill="#86838b" opacity="0.23"/><circle cx="1872.7" cy="45.4" r="1.8" fill="#86838b" opacity="0.27"/><circle cx="1919.0" cy="48.8" r="2.2" fill="#86838b" opacity="0.38"/><circle cx="1952.6" cy="44.1" r="1.7" fill="#86838b" opacity="0.40"/><circle cx="1730.9" cy="53.3" r="2.1" fill="#86838b" opacity="0.46"/><circle cx="1776.0" cy="50.9" r="1.7" fill="#86838b" opacity="0.24"/><circle cx="1801.1" cy="52.2" r="2.0" fill="#86838b" opacity="0.32"/><circle cx="1827.5" cy="54.3" r="1.0" fill="#86838b" opacity="0.30"/><circle cx="1860.7" cy="54.0" r="1.9" fill="#86838b" opacity="0.47"/><circle cx="1887.0" cy="53.3" r="1.9" fill="#86838b" opacity="0.42"/><circle cx="1892.5" cy="54.0" r="2.0" fill="#86838b" opacity="0.29"/><circle cx="1902.4" cy="54.9" r="1.7" fill="#86838b" opacity="0.54"/><circle cx="1912.1" cy="54.6" r="1.3" fill="#86838b" opacity="0.20"/><circle cx="1940.2" cy="54.9" r="2.0" fill="#86838b" opacity="0.51"/><circle cx="1947.0" cy="56.1" r="1.8" fill="#86838b" opacity="0.28"/><circle cx="1957.4" cy="55.1" r="1.8" fill="#86838b" opacity="0.46"/><circle cx="1968.2" cy="56.0" r="1.9" fill="#86838b" opacity="0.40"/><circle cx="1972.6" cy="53.1" r="2.1" fill="#86838b" opacity="0.38"/><circle cx="1979.4" cy="56.6" r="1.7" fill="#86838b" opacity="0.39"/><circle cx="1991.6" cy="54.8" r="1.9" fill="#86838b" opacity="0.49"/><circle cx="1736.6" cy="63.2" r="1.5" fill="#86838b" opacity="0.54"/><circle cx="1764.2" cy="62.0" r="2.0" fill="#86838b" opacity="0.36"/><circle cx="1779.4" cy="62.7" r="2.1" fill="#86838b" opacity="0.41"/><circle cx="1785.4" cy="58.4" r="1.4" fill="#86838b" opacity="0.34"/><circle cx="1797.1" cy="63.2" r="1.9" fill="#86838b" opacity="0.50"/><circle cx="1804.5" cy="63.0" r="1.7" fill="#86838b" opacity="0.25"/><circle cx="1814.3" cy="60.0" r="1.7" fill="#86838b" opacity="0.35"/><circle cx="1830.1" cy="60.6" r="2.1" fill="#86838b" opacity="0.32"/><circle cx="1857.3" cy="61.9" r="1.1" fill="#86838b" opacity="0.21"/><circle cx="1880.3" cy="60.9" r="1.2" fill="#86838b" opacity="0.27"/><circle cx="1908.3" cy="60.0" r="1.7" fill="#86838b" opacity="0.54"/><circle cx="1925.3" cy="61.1" r="1.5" fill="#86838b" opacity="0.23"/><circle cx="1750.7" cy="66.8" r="1.2" fill="#86838b" opacity="0.36"/><circle cx="1766.9" cy="69.3" r="1.9" fill="#86838b" opacity="0.28"/><circle cx="1785.5" cy="67.5" r="1.7" fill="#86838b" opacity="0.29"/><circle cx="1812.2" cy="68.9" r="1.7" fill="#86838b" opacity="0.29"/><circle cx="1818.9" cy="67.0" r="2.1" fill="#86838b" opacity="0.24"/><circle cx="1834.7" cy="69.0" r="1.8" fill="#86838b" opacity="0.52"/><circle cx="1841.7" cy="68.4" r="2.0" fill="#86838b" opacity="0.30"/><circle cx="1888.8" cy="67.7" r="1.5" fill="#86838b" opacity="0.44"/><circle cx="1907.6" cy="66.7" r="1.9" fill="#86838b" opacity="0.48"/><circle cx="1913.9" cy="68.2" r="1.8" fill="#86838b" opacity="0.23"/><circle cx="1922.4" cy="70.1" r="1.8" fill="#86838b" opacity="0.26"/><circle cx="1939.4" cy="66.9" r="1.1" fill="#86838b" opacity="0.26"/><circle cx="1947.2" cy="68.6" r="2.2" fill="#86838b" opacity="0.35"/><circle cx="1963.7" cy="69.2" r="2.1" fill="#86838b" opacity="0.47"/><circle cx="1979.8" cy="67.7" r="2.2" fill="#86838b" opacity="0.40"/><circle cx="1991.3" cy="72.1" r="2.1" fill="#86838b" opacity="0.25"/><circle cx="1754.1" cy="75.8" r="2.1" fill="#86838b" opacity="0.30"/><circle cx="1790.3" cy="74.4" r="2.0" fill="#86838b" opacity="0.28"/><circle cx="1795.7" cy="77.1" r="1.0" fill="#86838b" opacity="0.27"/><circle cx="1802.5" cy="77.5" r="1.2" fill="#86838b" opacity="0.54"/><circle cx="1815.2" cy="77.1" r="1.7" fill="#86838b" opacity="0.49"/><circle cx="1854.9" cy="77.8" r="1.7" fill="#86838b" opacity="0.29"/><circle cx="1873.5" cy="78.1" r="1.4" fill="#86838b" opacity="0.28"/><circle cx="1883.7" cy="77.2" r="2.1" fill="#86838b" opacity="0.49"/><circle cx="1888.2" cy="78.5" r="1.6" fill="#86838b" opacity="0.41"/><circle cx="1909.5" cy="73.2" r="1.9" fill="#86838b" opacity="0.32"/><circle cx="1976.1" cy="75.9" r="2.0" fill="#86838b" opacity="0.41"/><circle cx="1982.7" cy="74.9" r="1.0" fill="#86838b" opacity="0.34"/><circle cx="1743.5" cy="81.6" r="2.1" fill="#86838b" opacity="0.42"/><circle cx="1748.4" cy="83.8" r="2.1" fill="#86838b" opacity="0.39"/><circle cx="1758.0" cy="84.2" r="2.2" fill="#86838b" opacity="0.29"/><circle cx="1770.0" cy="84.1" r="1.9" fill="#86838b" opacity="0.44"/><circle cx="1781.8" cy="84.8" r="2.2" fill="#86838b" opacity="0.21"/><circle cx="1792.6" cy="85.7" r="1.6" fill="#86838b" opacity="0.33"/><circle cx="1801.1" cy="83.5" r="1.8" fill="#86838b" opacity="0.33"/><circle cx="1827.4" cy="82.1" r="1.1" fill="#86838b" opacity="0.37"/><circle cx="1844.3" cy="81.2" r="1.6" fill="#86838b" opacity="0.27"/><circle cx="1853.0" cy="85.6" r="1.2" fill="#86838b" opacity="0.41"/><circle cx="1858.7" cy="85.5" r="1.7" fill="#86838b" opacity="0.46"/><circle cx="1866.7" cy="80.7" r="1.0" fill="#86838b" opacity="0.45"/><circle cx="1879.1" cy="82.1" r="1.5" fill="#86838b" opacity="0.30"/><circle cx="1940.4" cy="83.7" r="1.2" fill="#86838b" opacity="0.34"/><circle cx="1956.3" cy="82.9" r="1.1" fill="#86838b" opacity="0.51"/><circle cx="1980.7" cy="82.1" r="2.0" fill="#86838b" opacity="0.39"/><circle cx="1991.6" cy="85.3" r="1.6" fill="#86838b" opacity="0.28"/><circle cx="1747.0" cy="92.3" r="1.0" fill="#86838b" opacity="0.42"/><circle cx="1754.0" cy="92.0" r="1.6" fill="#86838b" opacity="0.30"/><circle cx="1762.6" cy="89.9" r="2.2" fill="#86838b" opacity="0.31"/><circle cx="1769.0" cy="88.0" r="1.7" fill="#86838b" opacity="0.49"/><circle cx="1789.4" cy="91.2" r="1.2" fill="#86838b" opacity="0.42"/><circle cx="1806.3" cy="93.2" r="2.0" fill="#86838b" opacity="0.24"/><circle cx="1813.7" cy="91.2" r="1.9" fill="#86838b" opacity="0.45"/><circle cx="1821.9" cy="89.0" r="1.2" fill="#86838b" opacity="0.50"/><circle cx="1839.3" cy="89.9" r="1.0" fill="#86838b" opacity="0.30"/><circle cx="1856.2" cy="91.2" r="1.5" fill="#86838b" opacity="0.22"/><circle cx="1880.1" cy="93.1" r="1.1" fill="#86838b" opacity="0.44"/><circle cx="1909.6" cy="93.4" r="2.2" fill="#86838b" opacity="0.36"/><circle cx="1925.3" cy="92.1" r="1.8" fill="#86838b" opacity="0.40"/><circle cx="1978.4" cy="89.1" r="2.1" fill="#86838b" opacity="0.55"/><circle cx="1987.6" cy="93.1" r="2.1" fill="#86838b" opacity="0.32"/><circle cx="1729.7" cy="96.5" r="1.2" fill="#86838b" opacity="0.26"/><circle cx="1775.9" cy="95.5" r="1.2" fill="#86838b" opacity="0.38"/><circle cx="1793.1" cy="97.0" r="1.3" fill="#86838b" opacity="0.50"/><circle cx="1825.8" cy="96.1" r="2.0" fill="#86838b" opacity="0.48"/><circle cx="1835.5" cy="95.4" r="1.1" fill="#86838b" opacity="0.40"/><circle cx="1842.7" cy="98.8" r="1.5" fill="#86838b" opacity="0.42"/><circle cx="1852.5" cy="95.4" r="1.3" fill="#86838b" opacity="0.40"/><circle cx="1878.4" cy="99.6" r="1.1" fill="#86838b" opacity="0.42"/><circle cx="1906.0" cy="98.3" r="2.1" fill="#86838b" opacity="0.34"/><circle cx="1914.9" cy="96.5" r="1.7" fill="#86838b" opacity="0.41"/><circle cx="1919.8" cy="99.7" r="1.8" fill="#86838b" opacity="0.44"/><circle cx="1930.5" cy="98.4" r="1.7" fill="#86838b" opacity="0.33"/><circle cx="1948.1" cy="100.7" r="1.1" fill="#86838b" opacity="0.47"/><circle cx="1744.8" cy="103.7" r="1.9" fill="#86838b" opacity="0.41"/><circle cx="1753.4" cy="106.5" r="2.1" fill="#86838b" opacity="0.28"/><circle cx="1777.6" cy="105.6" r="1.6" fill="#86838b" opacity="0.42"/><circle cx="1797.6" cy="104.1" r="1.6" fill="#86838b" opacity="0.42"/><circle cx="1806.3" cy="107.6" r="1.1" fill="#86838b" opacity="0.28"/><circle cx="1815.2" cy="105.9" r="2.0" fill="#86838b" opacity="0.41"/><circle cx="1831.6" cy="108.1" r="2.0" fill="#86838b" opacity="0.29"/><circle cx="1849.8" cy="108.3" r="2.2" fill="#86838b" opacity="0.39"/><circle cx="1873.2" cy="105.7" r="1.4" fill="#86838b" opacity="0.24"/><circle cx="1900.4" cy="107.3" r="1.3" fill="#86838b" opacity="0.23"/><circle cx="1934.1" cy="103.9" r="2.0" fill="#86838b" opacity="0.50"/><circle cx="1943.9" cy="105.5" r="1.9" fill="#86838b" opacity="0.35"/><circle cx="1988.1" cy="106.6" r="1.1" fill="#86838b" opacity="0.25"/><circle cx="1738.2" cy="111.8" r="1.5" fill="#86838b" opacity="0.36"/><circle cx="1794.8" cy="112.4" r="1.9" fill="#86838b" opacity="0.21"/><circle cx="1808.4" cy="113.9" r="2.0" fill="#86838b" opacity="0.38"/><circle cx="1819.1" cy="116.0" r="1.1" fill="#86838b" opacity="0.29"/><circle cx="1827.1" cy="111.7" r="1.1" fill="#86838b" opacity="0.22"/><circle cx="1844.7" cy="112.7" r="1.2" fill="#86838b" opacity="0.38"/><circle cx="1853.5" cy="112.4" r="1.6" fill="#86838b" opacity="0.53"/><circle cx="1860.5" cy="112.3" r="1.5" fill="#86838b" opacity="0.32"/><circle cx="1887.8" cy="110.7" r="1.5" fill="#86838b" opacity="0.44"/><circle cx="1898.1" cy="113.1" r="1.6" fill="#86838b" opacity="0.22"/><circle cx="1923.7" cy="112.6" r="2.1" fill="#86838b" opacity="0.43"/><circle cx="1964.9" cy="114.2" r="2.1" fill="#86838b" opacity="0.42"/><circle cx="1972.6" cy="112.5" r="1.3" fill="#86838b" opacity="0.33"/><circle cx="1988.9" cy="113.7" r="1.1" fill="#86838b" opacity="0.25"/><circle cx="1735.6" cy="123.4" r="1.1" fill="#86838b" opacity="0.35"/><circle cx="1744.0" cy="123.7" r="1.1" fill="#86838b" opacity="0.53"/><circle cx="1762.8" cy="122.9" r="1.6" fill="#86838b" opacity="0.25"/><circle cx="1771.9" cy="123.6" r="1.2" fill="#86838b" opacity="0.35"/><circle cx="1778.0" cy="122.3" r="2.1" fill="#86838b" opacity="0.31"/><circle cx="1796.6" cy="118.6" r="2.0" fill="#86838b" opacity="0.27"/><circle cx="1814.1" cy="123.0" r="1.7" fill="#86838b" opacity="0.24"/><circle cx="1834.1" cy="119.2" r="1.7" fill="#86838b" opacity="0.31"/><circle cx="1866.3" cy="123.9" r="1.5" fill="#86838b" opacity="0.37"/><circle cx="1875.4" cy="121.4" r="1.2" fill="#86838b" opacity="0.21"/><circle cx="1903.5" cy="122.5" r="1.5" fill="#86838b" opacity="0.54"/><circle cx="1916.3" cy="120.3" r="1.4" fill="#86838b" opacity="0.48"/><circle cx="1937.8" cy="121.4" r="1.3" fill="#86838b" opacity="0.41"/><circle cx="1941.3" cy="119.9" r="1.9" fill="#86838b" opacity="0.52"/><circle cx="1960.7" cy="121.2" r="1.8" fill="#86838b" opacity="0.48"/><circle cx="1776.0" cy="127.8" r="1.2" fill="#86838b" opacity="0.50"/><circle cx="1792.0" cy="128.6" r="2.1" fill="#86838b" opacity="0.32"/><circle cx="1837.2" cy="130.3" r="2.0" fill="#86838b" opacity="0.35"/><circle cx="1844.9" cy="130.3" r="1.6" fill="#86838b" opacity="0.23"/><circle cx="1849.6" cy="128.1" r="1.1" fill="#86838b" opacity="0.39"/><circle cx="1869.0" cy="131.6" r="2.1" fill="#86838b" opacity="0.32"/><circle cx="1880.1" cy="131.1" r="1.2" fill="#86838b" opacity="0.53"/><circle cx="1885.0" cy="130.7" r="1.9" fill="#86838b" opacity="0.23"/><circle cx="1896.5" cy="129.7" r="2.2" fill="#86838b" opacity="0.55"/><circle cx="1903.0" cy="128.2" r="1.5" fill="#86838b" opacity="0.39"/><circle cx="1918.8" cy="129.7" r="1.9" fill="#86838b" opacity="0.27"/><circle cx="1939.9" cy="129.7" r="1.0" fill="#86838b" opacity="0.38"/><circle cx="1948.3" cy="129.5" r="1.5" fill="#86838b" opacity="0.41"/><circle cx="1964.7" cy="131.4" r="1.5" fill="#86838b" opacity="0.46"/><circle cx="1971.6" cy="126.1" r="1.2" fill="#86838b" opacity="0.46"/><circle cx="1990.8" cy="129.3" r="1.4" fill="#86838b" opacity="0.43"/><circle cx="1769.9" cy="138.2" r="2.1" fill="#86838b" opacity="0.54"/><circle cx="1813.0" cy="136.4" r="1.9" fill="#86838b" opacity="0.48"/><circle cx="1839.9" cy="138.1" r="1.7" fill="#86838b" opacity="0.41"/><circle cx="1850.7" cy="136.9" r="1.9" fill="#86838b" opacity="0.33"/><circle cx="1871.1" cy="135.8" r="1.3" fill="#86838b" opacity="0.24"/><circle cx="1898.7" cy="134.9" r="1.8" fill="#86838b" opacity="0.46"/><circle cx="1912.2" cy="136.7" r="2.1" fill="#86838b" opacity="0.48"/><circle cx="1917.2" cy="139.0" r="1.9" fill="#86838b" opacity="0.36"/><circle cx="1923.0" cy="135.8" r="1.5" fill="#86838b" opacity="0.44"/><circle cx="1949.9" cy="135.2" r="1.7" fill="#86838b" opacity="0.26"/><circle cx="1959.6" cy="136.0" r="1.4" fill="#86838b" opacity="0.33"/><circle cx="1969.2" cy="134.8" r="2.1" fill="#86838b" opacity="0.35"/><circle cx="1977.0" cy="137.5" r="1.1" fill="#86838b" opacity="0.23"/><circle cx="1729.9" cy="142.7" r="1.0" fill="#86838b" opacity="0.26"/><circle cx="1743.4" cy="145.6" r="1.3" fill="#86838b" opacity="0.41"/><circle cx="1767.2" cy="144.1" r="1.1" fill="#86838b" opacity="0.35"/><circle cx="1785.4" cy="141.7" r="1.6" fill="#86838b" opacity="0.22"/><circle cx="1790.4" cy="144.8" r="2.0" fill="#86838b" opacity="0.51"/><circle cx="1817.5" cy="145.1" r="1.7" fill="#86838b" opacity="0.43"/><circle cx="1833.6" cy="145.4" r="1.4" fill="#86838b" opacity="0.54"/><circle cx="1860.2" cy="143.3" r="1.0" fill="#86838b" opacity="0.24"/><circle cx="1894.4" cy="142.3" r="1.2" fill="#86838b" opacity="0.20"/><circle cx="1907.7" cy="145.7" r="2.1" fill="#86838b" opacity="0.21"/><circle cx="1911.8" cy="140.8" r="1.5" fill="#86838b" opacity="0.34"/><circle cx="1936.3" cy="145.8" r="1.7" fill="#86838b" opacity="0.20"/><circle cx="1954.4" cy="142.5" r="2.1" fill="#86838b" opacity="0.46"/><circle cx="1963.9" cy="144.7" r="1.7" fill="#86838b" opacity="0.39"/><circle cx="1971.5" cy="145.1" r="1.4" fill="#86838b" opacity="0.37"/><circle cx="1978.8" cy="144.8" r="1.4" fill="#86838b" opacity="0.50"/><circle cx="1993.4" cy="144.7" r="2.2" fill="#86838b" opacity="0.31"/><circle cx="1762.2" cy="154.3" r="2.0" fill="#86838b" opacity="0.54"/><circle cx="1770.2" cy="151.9" r="1.2" fill="#86838b" opacity="0.25"/><circle cx="1779.6" cy="152.4" r="2.1" fill="#86838b" opacity="0.22"/><circle cx="1796.3" cy="152.7" r="1.4" fill="#86838b" opacity="0.34"/><circle cx="1801.9" cy="152.4" r="1.0" fill="#86838b" opacity="0.45"/><circle cx="1883.9" cy="153.4" r="1.7" fill="#86838b" opacity="0.37"/><circle cx="1912.1" cy="149.5" r="1.2" fill="#86838b" opacity="0.30"/><circle cx="1936.0" cy="148.9" r="1.3" fill="#86838b" opacity="0.29"/><circle cx="1976.3" cy="148.4" r="1.7" fill="#86838b" opacity="0.21"/><circle cx="1751.1" cy="158.3" r="2.0" fill="#86838b" opacity="0.31"/><circle cx="1759.5" cy="158.4" r="1.8" fill="#86838b" opacity="0.25"/><circle cx="1766.9" cy="158.3" r="1.7" fill="#86838b" opacity="0.27"/><circle cx="1785.2" cy="159.1" r="1.7" fill="#86838b" opacity="0.40"/><circle cx="1795.1" cy="156.3" r="1.4" fill="#86838b" opacity="0.25"/><circle cx="1798.3" cy="155.4" r="1.0" fill="#86838b" opacity="0.30"/><circle cx="1829.5" cy="159.7" r="1.9" fill="#86838b" opacity="0.28"/><circle cx="1862.6" cy="157.4" r="2.0" fill="#86838b" opacity="0.21"/><circle cx="1872.5" cy="156.8" r="1.0" fill="#86838b" opacity="0.24"/><circle cx="1885.3" cy="155.8" r="1.2" fill="#86838b" opacity="0.28"/><circle cx="1894.6" cy="158.8" r="1.9" fill="#86838b" opacity="0.25"/><circle cx="1922.2" cy="157.7" r="1.2" fill="#86838b" opacity="0.41"/><circle cx="1932.3" cy="156.6" r="1.8" fill="#86838b" opacity="0.53"/><circle cx="1937.6" cy="157.1" r="1.5" fill="#86838b" opacity="0.37"/><circle cx="1962.7" cy="156.7" r="1.6" fill="#86838b" opacity="0.27"/><circle cx="1973.0" cy="160.1" r="2.2" fill="#86838b" opacity="0.55"/><circle cx="1980.2" cy="156.4" r="1.9" fill="#86838b" opacity="0.35"/><circle cx="1989.0" cy="157.4" r="1.6" fill="#86838b" opacity="0.42"/><circle cx="1736.5" cy="167.1" r="2.0" fill="#86838b" opacity="0.46"/><circle cx="1752.6" cy="166.7" r="2.0" fill="#86838b" opacity="0.46"/><circle cx="1764.0" cy="166.8" r="2.2" fill="#86838b" opacity="0.30"/><circle cx="1772.7" cy="168.7" r="2.1" fill="#86838b" opacity="0.25"/><circle cx="1776.7" cy="164.5" r="1.7" fill="#86838b" opacity="0.40"/><circle cx="1814.9" cy="167.2" r="2.0" fill="#86838b" opacity="0.43"/><circle cx="1822.1" cy="163.0" r="1.0" fill="#86838b" opacity="0.42"/><circle cx="1831.0" cy="165.2" r="1.6" fill="#86838b" opacity="0.27"/><circle cx="1858.9" cy="162.9" r="1.9" fill="#86838b" opacity="0.28"/><circle cx="1884.2" cy="165.9" r="1.2" fill="#86838b" opacity="0.32"/><circle cx="1899.9" cy="167.8" r="1.9" fill="#86838b" opacity="0.41"/><circle cx="1916.1" cy="164.5" r="1.7" fill="#86838b" opacity="0.32"/><circle cx="1944.6" cy="164.0" r="1.4" fill="#86838b" opacity="0.36"/><circle cx="1970.9" cy="167.2" r="1.7" fill="#86838b" opacity="0.26"/><circle cx="1983.6" cy="163.0" r="1.5" fill="#86838b" opacity="0.31"/><circle cx="1731.8" cy="172.0" r="1.8" fill="#86838b" opacity="0.39"/><circle cx="1758.7" cy="172.7" r="1.3" fill="#86838b" opacity="0.26"/><circle cx="1769.4" cy="171.3" r="2.1" fill="#86838b" opacity="0.54"/><circle cx="1793.1" cy="172.3" r="1.0" fill="#86838b" opacity="0.24"/><circle cx="1810.0" cy="172.6" r="1.2" fill="#86838b" opacity="0.38"/><circle cx="1838.1" cy="172.0" r="1.4" fill="#86838b" opacity="0.48"/><circle cx="1863.9" cy="173.3" r="1.3" fill="#86838b" opacity="0.34"/><circle cx="1869.4" cy="174.8" r="1.5" fill="#86838b" opacity="0.55"/><circle cx="1895.1" cy="172.8" r="1.8" fill="#86838b" opacity="0.41"/><circle cx="1927.7" cy="176.2" r="1.3" fill="#86838b" opacity="0.35"/><circle cx="1938.1" cy="171.5" r="1.1" fill="#86838b" opacity="0.51"/><circle cx="1956.0" cy="174.2" r="1.2" fill="#86838b" opacity="0.28"/><circle cx="1980.9" cy="173.4" r="1.6" fill="#86838b" opacity="0.44"/><circle cx="1735.3" cy="182.3" r="1.2" fill="#86838b" opacity="0.45"/><circle cx="1770.4" cy="180.2" r="2.1" fill="#86838b" opacity="0.49"/><circle cx="1781.9" cy="180.3" r="1.4" fill="#86838b" opacity="0.27"/><circle cx="1788.2" cy="180.6" r="1.1" fill="#86838b" opacity="0.37"/><circle cx="1799.6" cy="178.3" r="1.4" fill="#86838b" opacity="0.37"/><circle cx="1806.3" cy="182.2" r="1.6" fill="#86838b" opacity="0.31"/><circle cx="1826.1" cy="179.8" r="1.6" fill="#86838b" opacity="0.35"/><circle cx="1840.4" cy="182.2" r="1.9" fill="#86838b" opacity="0.38"/><circle cx="1849.7" cy="179.5" r="1.5" fill="#86838b" opacity="0.30"/><circle cx="1857.9" cy="180.6" r="1.5" fill="#86838b" opacity="0.53"/><circle cx="1876.2" cy="179.5" r="1.1" fill="#86838b" opacity="0.40"/><circle cx="1883.6" cy="178.6" r="1.7" fill="#86838b" opacity="0.43"/><circle cx="1892.4" cy="183.1" r="1.5" fill="#86838b" opacity="0.46"/><circle cx="1914.2" cy="179.7" r="2.2" fill="#86838b" opacity="0.31"/><circle cx="1959.0" cy="179.4" r="2.2" fill="#86838b" opacity="0.21"/><circle cx="1968.9" cy="180.3" r="1.8" fill="#86838b" opacity="0.31"/><circle cx="1734.5" cy="188.5" r="1.7" fill="#86838b" opacity="0.42"/><circle cx="1741.0" cy="190.0" r="1.3" fill="#86838b" opacity="0.31"/><circle cx="1755.2" cy="187.7" r="1.7" fill="#86838b" opacity="0.51"/><circle cx="1772.2" cy="185.8" r="2.1" fill="#86838b" opacity="0.30"/><circle cx="1785.0" cy="186.7" r="1.1" fill="#86838b" opacity="0.46"/><circle cx="1792.8" cy="188.8" r="2.1" fill="#86838b" opacity="0.49"/><circle cx="1802.7" cy="187.9" r="1.9" fill="#86838b" opacity="0.43"/><circle cx="1821.0" cy="188.8" r="1.9" fill="#86838b" opacity="0.53"/><circle cx="1827.4" cy="190.2" r="2.1" fill="#86838b" opacity="0.43"/><circle cx="1836.6" cy="189.3" r="1.3" fill="#86838b" opacity="0.21"/><circle cx="1846.6" cy="188.3" r="2.1" fill="#86838b" opacity="0.38"/><circle cx="1865.1" cy="187.4" r="2.0" fill="#86838b" opacity="0.48"/><circle cx="1868.2" cy="188.6" r="1.3" fill="#86838b" opacity="0.46"/><circle cx="1877.5" cy="188.3" r="2.2" fill="#86838b" opacity="0.27"/><circle cx="1885.7" cy="187.2" r="1.1" fill="#86838b" opacity="0.55"/><circle cx="1892.7" cy="189.0" r="1.4" fill="#86838b" opacity="0.47"/><circle cx="1912.2" cy="185.9" r="1.3" fill="#86838b" opacity="0.45"/><circle cx="1946.0" cy="185.5" r="1.8" fill="#86838b" opacity="0.43"/><circle cx="1973.9" cy="189.4" r="1.4" fill="#86838b" opacity="0.44"/><circle cx="1984.4" cy="189.7" r="1.5" fill="#86838b" opacity="0.43"/><circle cx="1991.8" cy="187.3" r="1.5" fill="#86838b" opacity="0.25"/><circle cx="1746.6" cy="197.4" r="1.3" fill="#86838b" opacity="0.44"/><circle cx="1761.4" cy="193.9" r="1.5" fill="#86838b" opacity="0.46"/><circle cx="1772.0" cy="196.8" r="2.0" fill="#86838b" opacity="0.50"/><circle cx="1777.8" cy="195.3" r="1.4" fill="#86838b" opacity="0.42"/><circle cx="1791.1" cy="194.2" r="2.1" fill="#86838b" opacity="0.27"/><circle cx="1814.2" cy="194.5" r="1.4" fill="#86838b" opacity="0.33"/><circle cx="1850.4" cy="195.5" r="2.1" fill="#86838b" opacity="0.52"/><circle cx="1858.3" cy="193.3" r="1.1" fill="#86838b" opacity="0.54"/><circle cx="1871.9" cy="196.5" r="1.7" fill="#86838b" opacity="0.32"/><circle cx="1903.3" cy="196.3" r="1.7" fill="#86838b" opacity="0.24"/><circle cx="1908.6" cy="194.4" r="1.6" fill="#86838b" opacity="0.44"/><circle cx="1917.1" cy="195.9" r="1.7" fill="#86838b" opacity="0.38"/><circle cx="1928.0" cy="195.7" r="1.3" fill="#86838b" opacity="0.24"/><circle cx="1934.5" cy="198.6" r="1.5" fill="#86838b" opacity="0.28"/><circle cx="1949.2" cy="197.9" r="2.0" fill="#86838b" opacity="0.32"/><circle cx="1959.9" cy="193.6" r="1.4" fill="#86838b" opacity="0.27"/><circle cx="1970.9" cy="196.2" r="1.6" fill="#86838b" opacity="0.39"/><circle cx="1976.0" cy="197.8" r="1.5" fill="#86838b" opacity="0.51"/><circle cx="1987.5" cy="194.9" r="1.6" fill="#86838b" opacity="0.22"/><circle cx="1750.2" cy="206.5" r="2.0" fill="#86838b" opacity="0.31"/><circle cx="1758.6" cy="200.0" r="2.2" fill="#86838b" opacity="0.28"/><circle cx="1768.0" cy="202.8" r="2.0" fill="#86838b" opacity="0.24"/><circle cx="1775.0" cy="200.8" r="2.2" fill="#86838b" opacity="0.31"/><circle cx="1821.1" cy="202.7" r="2.0" fill="#86838b" opacity="0.23"/><circle cx="1825.8" cy="203.6" r="1.3" fill="#86838b" opacity="0.45"/><circle cx="1842.4" cy="201.9" r="1.0" fill="#86838b" opacity="0.30"/><circle cx="1858.9" cy="204.6" r="1.7" fill="#86838b" opacity="0.48"/><circle cx="1877.4" cy="205.7" r="1.6" fill="#86838b" opacity="0.46"/><circle cx="1911.2" cy="202.9" r="2.1" fill="#86838b" opacity="0.39"/><circle cx="1955.2" cy="205.7" r="1.1" fill="#86838b" opacity="0.45"/><circle cx="1964.4" cy="203.1" r="1.7" fill="#86838b" opacity="0.37"/><circle cx="1973.4" cy="205.1" r="1.1" fill="#86838b" opacity="0.38"/><circle cx="1979.5" cy="203.1" r="1.8" fill="#86838b" opacity="0.29"/><circle cx="1761.5" cy="211.5" r="2.2" fill="#86838b" opacity="0.26"/><circle cx="1768.9" cy="210.2" r="1.4" fill="#86838b" opacity="0.25"/><circle cx="1777.3" cy="210.1" r="1.2" fill="#86838b" opacity="0.45"/><circle cx="1788.9" cy="210.2" r="1.8" fill="#86838b" opacity="0.48"/><circle cx="1829.4" cy="213.4" r="1.2" fill="#86838b" opacity="0.21"/><circle cx="1874.4" cy="212.2" r="1.9" fill="#86838b" opacity="0.46"/><circle cx="1902.9" cy="211.6" r="1.1" fill="#86838b" opacity="0.53"/><circle cx="1918.0" cy="211.1" r="1.8" fill="#86838b" opacity="0.42"/><circle cx="1931.1" cy="211.9" r="2.1" fill="#86838b" opacity="0.46"/><circle cx="1951.0" cy="210.8" r="2.0" fill="#86838b" opacity="0.21"/><circle cx="1970.3" cy="210.1" r="1.7" fill="#86838b" opacity="0.30"/><circle cx="1976.5" cy="211.2" r="2.0" fill="#86838b" opacity="0.39"/><circle cx="1984.0" cy="212.8" r="1.9" fill="#86838b" opacity="0.29"/><circle cx="1730.4" cy="219.2" r="1.9" fill="#86838b" opacity="0.37"/><circle cx="1748.0" cy="216.6" r="1.6" fill="#86838b" opacity="0.36"/><circle cx="1761.9" cy="220.8" r="1.1" fill="#86838b" opacity="0.47"/><circle cx="1764.5" cy="219.2" r="2.1" fill="#86838b" opacity="0.33"/><circle cx="1771.8" cy="217.3" r="1.9" fill="#86838b" opacity="0.25"/><circle cx="1792.1" cy="217.4" r="1.2" fill="#86838b" opacity="0.45"/><circle cx="1799.8" cy="217.2" r="1.7" fill="#86838b" opacity="0.50"/><circle cx="1834.6" cy="216.5" r="1.7" fill="#86838b" opacity="0.30"/><circle cx="1854.7" cy="219.6" r="1.1" fill="#86838b" opacity="0.25"/><circle cx="1859.0" cy="217.8" r="1.6" fill="#86838b" opacity="0.41"/><circle cx="1871.5" cy="220.2" r="1.1" fill="#86838b" opacity="0.55"/><circle cx="1880.2" cy="220.0" r="1.8" fill="#86838b" opacity="0.44"/><circle cx="1888.6" cy="218.6" r="1.3" fill="#86838b" opacity="0.31"/><circle cx="1903.9" cy="215.0" r="1.1" fill="#86838b" opacity="0.22"/><circle cx="1911.8" cy="218.5" r="1.5" fill="#86838b" opacity="0.46"/><circle cx="1928.6" cy="217.0" r="1.5" fill="#86838b" opacity="0.40"/><circle cx="1948.2" cy="219.5" r="1.2" fill="#86838b" opacity="0.55"/><circle cx="1963.4" cy="217.4" r="2.2" fill="#86838b" opacity="0.41"/><circle cx="1988.8" cy="216.7" r="2.2" fill="#86838b" opacity="0.31"/><circle cx="1777.3" cy="229.2" r="1.9" fill="#86838b" opacity="0.53"/><circle cx="1798.3" cy="227.8" r="1.7" fill="#86838b" opacity="0.50"/><circle cx="1804.2" cy="229.0" r="1.2" fill="#86838b" opacity="0.37"/><circle cx="1831.5" cy="225.8" r="1.4" fill="#86838b" opacity="0.46"/><circle cx="1837.9" cy="226.9" r="1.7" fill="#86838b" opacity="0.54"/><circle cx="1857.5" cy="227.1" r="1.7" fill="#86838b" opacity="0.26"/><circle cx="1865.5" cy="226.4" r="1.7" fill="#86838b" opacity="0.37"/><circle cx="1874.4" cy="227.4" r="1.0" fill="#86838b" opacity="0.43"/><circle cx="1882.8" cy="225.6" r="2.1" fill="#86838b" opacity="0.46"/><circle cx="1891.0" cy="226.3" r="1.3" fill="#86838b" opacity="0.22"/><circle cx="1901.7" cy="223.0" r="1.8" fill="#86838b" opacity="0.26"/><circle cx="1908.4" cy="225.8" r="2.0" fill="#86838b" opacity="0.41"/><circle cx="1969.2" cy="227.1" r="2.0" fill="#86838b" opacity="0.41"/><circle cx="1984.3" cy="225.0" r="1.4" fill="#86838b" opacity="0.47"/><circle cx="1759.7" cy="234.5" r="1.8" fill="#86838b" opacity="0.46"/><circle cx="1767.2" cy="234.1" r="1.7" fill="#86838b" opacity="0.24"/><circle cx="1809.5" cy="232.9" r="1.3" fill="#86838b" opacity="0.35"/><circle cx="1819.3" cy="233.4" r="1.8" fill="#86838b" opacity="0.25"/><circle cx="1829.2" cy="234.7" r="1.4" fill="#86838b" opacity="0.31"/><circle cx="1837.5" cy="233.8" r="1.1" fill="#86838b" opacity="0.53"/><circle cx="1843.0" cy="233.0" r="1.2" fill="#86838b" opacity="0.29"/><circle cx="1863.1" cy="231.4" r="1.1" fill="#86838b" opacity="0.54"/><circle cx="1869.4" cy="234.3" r="1.2" fill="#86838b" opacity="0.51"/><circle cx="1887.1" cy="235.8" r="1.5" fill="#86838b" opacity="0.53"/><circle cx="1915.3" cy="236.6" r="2.2" fill="#86838b" opacity="0.46"/><circle cx="1973.9" cy="232.1" r="1.7" fill="#86838b" opacity="0.24"/><circle cx="1980.6" cy="234.8" r="1.9" fill="#86838b" opacity="0.37"/><circle cx="1744.7" cy="242.5" r="1.0" fill="#86838b" opacity="0.43"/><circle cx="1770.8" cy="241.7" r="2.0" fill="#86838b" opacity="0.40"/><circle cx="1780.5" cy="240.8" r="1.0" fill="#86838b" opacity="0.54"/><circle cx="1786.5" cy="242.9" r="1.6" fill="#86838b" opacity="0.44"/><circle cx="1794.9" cy="241.1" r="1.3" fill="#86838b" opacity="0.44"/><circle cx="1815.6" cy="240.6" r="1.1" fill="#86838b" opacity="0.33"/><circle cx="1828.9" cy="243.0" r="1.3" fill="#86838b" opacity="0.29"/><circle cx="1840.1" cy="244.1" r="1.2" fill="#86838b" opacity="0.33"/><circle cx="1848.6" cy="239.6" r="1.5" fill="#86838b" opacity="0.21"/><circle cx="1864.2" cy="239.2" r="2.1" fill="#86838b" opacity="0.47"/><circle cx="1884.9" cy="243.9" r="1.7" fill="#86838b" opacity="0.40"/><circle cx="1918.3" cy="238.7" r="2.2" fill="#86838b" opacity="0.30"/><circle cx="1923.2" cy="242.3" r="1.6" fill="#86838b" opacity="0.32"/><circle cx="1943.3" cy="242.1" r="1.1" fill="#86838b" opacity="0.33"/><circle cx="1962.7" cy="238.9" r="1.1" fill="#86838b" opacity="0.52"/><circle cx="1972.1" cy="240.2" r="2.1" fill="#86838b" opacity="0.40"/><circle cx="1975.6" cy="240.5" r="1.8" fill="#86838b" opacity="0.41"/><circle cx="1988.5" cy="242.3" r="1.2" fill="#86838b" opacity="0.21"/><circle cx="1733.9" cy="251.0" r="2.0" fill="#86838b" opacity="0.24"/><circle cx="1750.5" cy="250.8" r="1.8" fill="#86838b" opacity="0.54"/><circle cx="1769.8" cy="249.1" r="2.0" fill="#86838b" opacity="0.52"/><circle cx="1775.2" cy="245.0" r="1.9" fill="#86838b" opacity="0.40"/><circle cx="1791.4" cy="247.5" r="1.4" fill="#86838b" opacity="0.50"/><circle cx="1808.4" cy="250.8" r="1.7" fill="#86838b" opacity="0.48"/><circle cx="1815.9" cy="247.8" r="1.3" fill="#86838b" opacity="0.26"/><circle cx="1853.0" cy="247.7" r="1.2" fill="#86838b" opacity="0.24"/><circle cx="1860.7" cy="246.4" r="1.7" fill="#86838b" opacity="0.38"/><circle cx="1867.9" cy="245.3" r="1.5" fill="#86838b" opacity="0.43"/><circle cx="1903.4" cy="245.8" r="1.4" fill="#86838b" opacity="0.43"/><circle cx="1915.4" cy="249.1" r="1.1" fill="#86838b" opacity="0.42"/><circle cx="1918.3" cy="245.7" r="1.4" fill="#86838b" opacity="0.55"/><circle cx="1936.6" cy="248.7" r="2.0" fill="#86838b" opacity="0.33"/><circle cx="1945.7" cy="251.1" r="2.0" fill="#86838b" opacity="0.41"/><circle cx="1735.1" cy="256.2" r="1.5" fill="#86838b" opacity="0.25"/><circle cx="1747.6" cy="258.6" r="1.6" fill="#86838b" opacity="0.36"/><circle cx="1760.8" cy="258.9" r="2.0" fill="#86838b" opacity="0.52"/><circle cx="1790.6" cy="254.9" r="1.2" fill="#86838b" opacity="0.39"/><circle cx="1811.3" cy="254.4" r="1.2" fill="#86838b" opacity="0.32"/><circle cx="1822.8" cy="258.1" r="1.2" fill="#86838b" opacity="0.31"/><circle cx="1838.8" cy="255.8" r="1.8" fill="#86838b" opacity="0.28"/><circle cx="1858.1" cy="255.7" r="1.2" fill="#86838b" opacity="0.47"/><circle cx="1865.5" cy="256.2" r="2.1" fill="#86838b" opacity="0.48"/><circle cx="1883.4" cy="258.5" r="2.0" fill="#86838b" opacity="0.29"/><circle cx="1888.2" cy="257.9" r="1.3" fill="#86838b" opacity="0.51"/><circle cx="1898.7" cy="253.7" r="1.2" fill="#86838b" opacity="0.24"/><circle cx="1911.0" cy="257.6" r="1.8" fill="#86838b" opacity="0.40"/><circle cx="1954.5" cy="258.0" r="2.2" fill="#86838b" opacity="0.51"/><circle cx="1966.9" cy="258.4" r="1.5" fill="#86838b" opacity="0.45"/><circle cx="1989.2" cy="259.0" r="1.9" fill="#86838b" opacity="0.36"/><circle cx="1729.0" cy="263.0" r="1.8" fill="#86838b" opacity="0.35"/><circle cx="1757.5" cy="263.3" r="1.7" fill="#86838b" opacity="0.40"/><circle cx="1767.0" cy="264.3" r="1.9" fill="#86838b" opacity="0.52"/><circle cx="1776.7" cy="263.7" r="1.1" fill="#86838b" opacity="0.46"/><circle cx="1787.1" cy="263.3" r="1.5" fill="#86838b" opacity="0.30"/><circle cx="1793.6" cy="266.6" r="1.9" fill="#86838b" opacity="0.49"/><circle cx="1800.7" cy="263.9" r="1.3" fill="#86838b" opacity="0.45"/><circle cx="1811.0" cy="264.4" r="1.5" fill="#86838b" opacity="0.41"/><circle cx="1816.1" cy="263.5" r="1.8" fill="#86838b" opacity="0.37"/><circle cx="1860.7" cy="263.4" r="1.9" fill="#86838b" opacity="0.28"/><circle cx="1870.7" cy="266.5" r="1.5" fill="#86838b" opacity="0.31"/><circle cx="1879.2" cy="261.3" r="1.1" fill="#86838b" opacity="0.34"/><circle cx="1889.4" cy="261.6" r="1.4" fill="#86838b" opacity="0.36"/><circle cx="1913.6" cy="264.8" r="1.5" fill="#86838b" opacity="0.32"/><circle cx="1946.5" cy="263.4" r="1.3" fill="#86838b" opacity="0.36"/><circle cx="1975.0" cy="261.8" r="2.2" fill="#86838b" opacity="0.48"/><circle cx="1979.9" cy="261.1" r="1.8" fill="#86838b" opacity="0.50"/><circle cx="1991.0" cy="264.4" r="1.2" fill="#86838b" opacity="0.21"/><circle cx="1747.1" cy="273.9" r="1.6" fill="#86838b" opacity="0.34"/><circle cx="1762.0" cy="269.4" r="2.1" fill="#86838b" opacity="0.31"/><circle cx="1788.9" cy="272.7" r="1.1" fill="#86838b" opacity="0.25"/><circle cx="1797.4" cy="272.4" r="2.0" fill="#86838b" opacity="0.41"/><circle cx="1806.4" cy="270.0" r="1.6" fill="#86838b" opacity="0.31"/><circle cx="1812.7" cy="271.2" r="2.0" fill="#86838b" opacity="0.37"/><circle cx="1832.0" cy="273.3" r="1.6" fill="#86838b" opacity="0.33"/><circle cx="1846.4" cy="272.6" r="2.1" fill="#86838b" opacity="0.48"/><circle cx="1894.1" cy="269.6" r="1.6" fill="#86838b" opacity="0.44"/><circle cx="1902.2" cy="269.7" r="2.0" fill="#86838b" opacity="0.47"/><circle cx="1909.7" cy="268.7" r="1.4" fill="#86838b" opacity="0.54"/><circle cx="1916.1" cy="271.2" r="2.0" fill="#86838b" opacity="0.53"/><circle cx="1927.0" cy="273.0" r="2.1" fill="#86838b" opacity="0.37"/><circle cx="1943.5" cy="272.0" r="1.3" fill="#86838b" opacity="0.52"/><circle cx="1962.4" cy="271.0" r="2.0" fill="#86838b" opacity="0.30"/><circle cx="1977.3" cy="271.9" r="1.7" fill="#86838b" opacity="0.31"/><circle cx="1739.5" cy="280.7" r="1.3" fill="#86838b" opacity="0.53"/><circle cx="1750.7" cy="278.7" r="1.2" fill="#86838b" opacity="0.41"/><circle cx="1766.2" cy="280.8" r="1.5" fill="#86838b" opacity="0.28"/><circle cx="1776.6" cy="276.3" r="2.1" fill="#86838b" opacity="0.50"/><circle cx="1786.5" cy="279.5" r="1.3" fill="#86838b" opacity="0.32"/><circle cx="1827.1" cy="276.9" r="1.8" fill="#86838b" opacity="0.23"/><circle cx="1838.2" cy="276.1" r="1.6" fill="#86838b" opacity="0.34"/><circle cx="1842.1" cy="280.2" r="1.8" fill="#86838b" opacity="0.21"/><circle cx="1851.9" cy="279.0" r="1.2" fill="#86838b" opacity="0.49"/><circle cx="1889.7" cy="278.6" r="1.7" fill="#86838b" opacity="0.29"/><circle cx="1923.1" cy="277.9" r="2.0" fill="#86838b" opacity="0.43"/><circle cx="1939.0" cy="275.4" r="2.2" fill="#86838b" opacity="0.43"/><circle cx="1953.8" cy="277.9" r="1.1" fill="#86838b" opacity="0.21"/><circle cx="1992.9" cy="278.6" r="1.2" fill="#86838b" opacity="0.30"/><circle cx="1738.4" cy="286.2" r="1.7" fill="#86838b" opacity="0.29"/><circle cx="1747.7" cy="284.2" r="2.0" fill="#86838b" opacity="0.28"/><circle cx="1763.1" cy="283.3" r="1.8" fill="#86838b" opacity="0.48"/><circle cx="1788.5" cy="284.8" r="1.3" fill="#86838b" opacity="0.53"/><circle cx="1812.6" cy="287.3" r="2.1" fill="#86838b" opacity="0.35"/><circle cx="1834.6" cy="288.5" r="1.2" fill="#86838b" opacity="0.35"/><circle cx="1863.5" cy="286.7" r="1.2" fill="#86838b" opacity="0.31"/><circle cx="1873.0" cy="285.4" r="1.6" fill="#86838b" opacity="0.30"/><circle cx="1883.6" cy="284.6" r="2.1" fill="#86838b" opacity="0.33"/><circle cx="1894.0" cy="283.9" r="1.9" fill="#86838b" opacity="0.22"/><circle cx="1907.2" cy="282.7" r="1.6" fill="#86838b" opacity="0.51"/><circle cx="1940.9" cy="284.3" r="2.2" fill="#86838b" opacity="0.30"/><circle cx="1950.4" cy="284.5" r="1.5" fill="#86838b" opacity="0.37"/><circle cx="1970.3" cy="285.7" r="2.1" fill="#86838b" opacity="0.50"/><circle cx="1977.4" cy="284.2" r="1.2" fill="#86838b" opacity="0.36"/><circle cx="1785.3" cy="294.1" r="2.1" fill="#86838b" opacity="0.46"/><circle cx="1793.5" cy="292.5" r="1.2" fill="#86838b" opacity="0.49"/><circle cx="1801.8" cy="292.6" r="1.2" fill="#86838b" opacity="0.46"/><circle cx="1811.8" cy="294.2" r="1.1" fill="#86838b" opacity="0.49"/><circle cx="1833.7" cy="292.6" r="1.2" fill="#86838b" opacity="0.26"/><circle cx="1842.4" cy="294.0" r="1.5" fill="#86838b" opacity="0.50"/><circle cx="1881.3" cy="294.3" r="1.5" fill="#86838b" opacity="0.32"/><circle cx="1886.2" cy="296.7" r="2.0" fill="#86838b" opacity="0.27"/><circle cx="1912.3" cy="296.1" r="2.0" fill="#86838b" opacity="0.28"/><circle cx="1955.5" cy="292.2" r="1.8" fill="#86838b" opacity="0.42"/><circle cx="1964.3" cy="291.8" r="1.6" fill="#86838b" opacity="0.26"/><circle cx="1991.2" cy="290.7" r="1.2" fill="#86838b" opacity="0.21"/><circle cx="1761.1" cy="300.8" r="2.2" fill="#86838b" opacity="0.32"/><circle cx="1795.2" cy="301.3" r="1.9" fill="#86838b" opacity="0.22"/><circle cx="1812.2" cy="300.6" r="1.0" fill="#86838b" opacity="0.46"/><circle cx="1822.5" cy="301.4" r="1.4" fill="#86838b" opacity="0.28"/><circle cx="1832.7" cy="302.4" r="1.4" fill="#86838b" opacity="0.52"/><circle cx="1838.4" cy="299.0" r="1.8" fill="#86838b" opacity="0.49"/><circle cx="1847.9" cy="299.7" r="1.0" fill="#86838b" opacity="0.26"/><circle cx="1906.1" cy="300.1" r="2.0" fill="#86838b" opacity="0.53"/><circle cx="1925.4" cy="298.4" r="2.2" fill="#86838b" opacity="0.39"/><circle cx="1934.2" cy="301.1" r="2.1" fill="#86838b" opacity="0.28"/><circle cx="1952.0" cy="301.6" r="1.2" fill="#86838b" opacity="0.35"/><circle cx="1962.5" cy="299.6" r="1.1" fill="#86838b" opacity="0.50"/><circle cx="1970.1" cy="299.9" r="2.1" fill="#86838b" opacity="0.36"/><circle cx="1979.5" cy="298.3" r="1.8" fill="#86838b" opacity="0.51"/><circle cx="1985.2" cy="302.5" r="1.4" fill="#86838b" opacity="0.24"/><circle cx="1731.7" cy="308.4" r="1.1" fill="#86838b" opacity="0.45"/><circle cx="1739.1" cy="307.4" r="2.1" fill="#86838b" opacity="0.27"/><circle cx="1749.1" cy="306.8" r="1.0" fill="#86838b" opacity="0.43"/><circle cx="1777.8" cy="308.6" r="2.0" fill="#86838b" opacity="0.30"/><circle cx="1795.2" cy="306.2" r="2.0" fill="#86838b" opacity="0.26"/><circle cx="1813.3" cy="309.7" r="1.1" fill="#86838b" opacity="0.21"/><circle cx="1841.2" cy="310.0" r="2.1" fill="#86838b" opacity="0.34"/><circle cx="1858.0" cy="310.3" r="2.0" fill="#86838b" opacity="0.45"/><circle cx="1879.7" cy="307.2" r="1.2" fill="#86838b" opacity="0.43"/><circle cx="1903.7" cy="311.0" r="1.7" fill="#86838b" opacity="0.29"/><circle cx="1919.3" cy="306.7" r="1.9" fill="#86838b" opacity="0.55"/><circle cx="1948.9" cy="309.1" r="1.2" fill="#86838b" opacity="0.50"/><circle cx="1956.9" cy="308.8" r="1.4" fill="#86838b" opacity="0.40"/><circle cx="1963.8" cy="307.9" r="1.0" fill="#86838b" opacity="0.41"/><circle cx="1993.1" cy="307.3" r="1.6" fill="#86838b" opacity="0.49"/><circle cx="1738.7" cy="316.2" r="2.2" fill="#86838b" opacity="0.22"/><circle cx="1744.4" cy="317.9" r="2.0" fill="#86838b" opacity="0.29"/><circle cx="1757.0" cy="313.9" r="1.7" fill="#86838b" opacity="0.47"/><circle cx="1764.2" cy="316.1" r="1.4" fill="#86838b" opacity="0.38"/><circle cx="1770.1" cy="317.2" r="2.0" fill="#86838b" opacity="0.47"/><circle cx="1791.3" cy="314.3" r="1.8" fill="#86838b" opacity="0.38"/><circle cx="1798.3" cy="315.0" r="2.0" fill="#86838b" opacity="0.28"/><circle cx="1831.1" cy="317.4" r="1.2" fill="#86838b" opacity="0.42"/><circle cx="1858.3" cy="318.9" r="2.1" fill="#86838b" opacity="0.43"/><circle cx="1867.5" cy="314.4" r="1.6" fill="#86838b" opacity="0.49"/><circle cx="1889.7" cy="316.4" r="1.7" fill="#86838b" opacity="0.23"/><circle cx="1898.8" cy="317.1" r="1.5" fill="#86838b" opacity="0.36"/><circle cx="1908.8" cy="313.3" r="1.2" fill="#86838b" opacity="0.54"/><circle cx="1917.2" cy="312.8" r="1.7" fill="#86838b" opacity="0.52"/><circle cx="1927.4" cy="319.0" r="1.1" fill="#86838b" opacity="0.33"/><circle cx="1743.1" cy="321.8" r="2.2" fill="#86838b" opacity="0.42"/><circle cx="1767.2" cy="325.0" r="2.0" fill="#86838b" opacity="0.31"/><circle cx="1783.0" cy="321.1" r="1.1" fill="#86838b" opacity="0.25"/><circle cx="1834.0" cy="323.2" r="1.6" fill="#86838b" opacity="0.49"/><circle cx="1861.6" cy="321.3" r="1.9" fill="#86838b" opacity="0.46"/><circle cx="1902.3" cy="323.9" r="1.9" fill="#86838b" opacity="0.23"/><circle cx="1922.8" cy="325.9" r="2.1" fill="#86838b" opacity="0.33"/><circle cx="1928.6" cy="322.9" r="1.5" fill="#86838b" opacity="0.32"/><circle cx="1940.7" cy="321.0" r="1.1" fill="#86838b" opacity="0.45"/><circle cx="1947.1" cy="326.7" r="1.0" fill="#86838b" opacity="0.36"/><circle cx="1954.6" cy="326.7" r="1.5" fill="#86838b" opacity="0.23"/><circle cx="1972.7" cy="322.0" r="1.5" fill="#86838b" opacity="0.42"/><circle cx="1981.7" cy="321.6" r="1.8" fill="#86838b" opacity="0.53"/><circle cx="1738.2" cy="331.7" r="1.3" fill="#86838b" opacity="0.35"/><circle cx="1745.9" cy="333.9" r="2.1" fill="#86838b" opacity="0.45"/><circle cx="1763.2" cy="332.3" r="2.0" fill="#86838b" opacity="0.28"/><circle cx="1772.9" cy="334.1" r="1.6" fill="#86838b" opacity="0.38"/><circle cx="1789.1" cy="330.2" r="1.0" fill="#86838b" opacity="0.40"/><circle cx="1825.8" cy="331.9" r="1.7" fill="#86838b" opacity="0.21"/><circle cx="1831.5" cy="331.5" r="1.7" fill="#86838b" opacity="0.52"/><circle cx="1848.4" cy="332.0" r="1.9" fill="#86838b" opacity="0.42"/><circle cx="1866.7" cy="332.2" r="1.2" fill="#86838b" opacity="0.47"/><circle cx="1871.9" cy="330.2" r="1.0" fill="#86838b" opacity="0.34"/><circle cx="1882.2" cy="329.5" r="1.2" fill="#86838b" opacity="0.33"/><circle cx="1893.6" cy="329.6" r="1.6" fill="#86838b" opacity="0.32"/><circle cx="1900.6" cy="333.2" r="1.1" fill="#86838b" opacity="0.41"/><circle cx="1915.8" cy="330.9" r="1.6" fill="#86838b" opacity="0.24"/><circle cx="1927.5" cy="330.2" r="1.5" fill="#86838b" opacity="0.25"/><circle cx="1935.1" cy="330.1" r="1.1" fill="#86838b" opacity="0.35"/><circle cx="1960.6" cy="327.5" r="1.5" fill="#86838b" opacity="0.36"/><circle cx="1976.2" cy="328.6" r="1.8" fill="#86838b" opacity="0.47"/><circle cx="1759.7" cy="341.7" r="1.1" fill="#86838b" opacity="0.28"/><circle cx="1764.3" cy="338.9" r="1.2" fill="#86838b" opacity="0.40"/><circle cx="1801.4" cy="336.0" r="1.4" fill="#86838b" opacity="0.34"/><circle cx="1828.3" cy="336.2" r="2.1" fill="#86838b" opacity="0.26"/><circle cx="1836.7" cy="338.1" r="1.6" fill="#86838b" opacity="0.20"/><circle cx="1843.7" cy="336.5" r="1.3" fill="#86838b" opacity="0.50"/><circle cx="1859.4" cy="335.8" r="1.2" fill="#86838b" opacity="0.24"/><circle cx="1868.8" cy="336.5" r="2.1" fill="#86838b" opacity="0.51"/><circle cx="1894.6" cy="335.8" r="1.6" fill="#86838b" opacity="0.54"/><circle cx="1903.3" cy="338.8" r="2.2" fill="#86838b" opacity="0.33"/><circle cx="1918.2" cy="337.2" r="1.7" fill="#86838b" opacity="0.26"/><circle cx="1950.7" cy="337.4" r="1.1" fill="#86838b" opacity="0.24"/><circle cx="1955.1" cy="336.2" r="1.3" fill="#86838b" opacity="0.50"/><circle cx="1973.3" cy="339.3" r="1.6" fill="#86838b" opacity="0.50"/><circle cx="1989.9" cy="337.9" r="1.2" fill="#86838b" opacity="0.48"/><circle cx="1736.3" cy="346.0" r="1.5" fill="#86838b" opacity="0.31"/><circle cx="1752.9" cy="348.5" r="1.9" fill="#86838b" opacity="0.37"/><circle cx="1771.2" cy="343.4" r="1.2" fill="#86838b" opacity="0.29"/><circle cx="1778.7" cy="344.0" r="1.6" fill="#86838b" opacity="0.47"/><circle cx="1788.1" cy="342.9" r="2.2" fill="#86838b" opacity="0.21"/><circle cx="1804.4" cy="345.4" r="1.6" fill="#86838b" opacity="0.24"/><circle cx="1813.4" cy="347.2" r="1.0" fill="#86838b" opacity="0.33"/><circle cx="1823.1" cy="345.8" r="2.2" fill="#86838b" opacity="0.44"/><circle cx="1832.5" cy="344.9" r="2.1" fill="#86838b" opacity="0.35"/><circle cx="1840.5" cy="346.4" r="2.2" fill="#86838b" opacity="0.45"/><circle cx="1850.1" cy="345.6" r="1.2" fill="#86838b" opacity="0.38"/><circle cx="1858.2" cy="345.0" r="1.5" fill="#86838b" opacity="0.40"/><circle cx="1892.1" cy="346.9" r="1.1" fill="#86838b" opacity="0.45"/><circle cx="1924.7" cy="345.5" r="2.0" fill="#86838b" opacity="0.46"/><circle cx="1958.3" cy="345.1" r="2.1" fill="#86838b" opacity="0.20"/><circle cx="1968.8" cy="347.1" r="1.9" fill="#86838b" opacity="0.21"/><circle cx="1749.5" cy="352.8" r="1.4" fill="#86838b" opacity="0.38"/><circle cx="1759.8" cy="353.9" r="2.1" fill="#86838b" opacity="0.30"/><circle cx="1767.7" cy="354.0" r="1.8" fill="#86838b" opacity="0.32"/><circle cx="1773.6" cy="353.6" r="2.0" fill="#86838b" opacity="0.41"/><circle cx="1795.0" cy="353.5" r="1.7" fill="#86838b" opacity="0.47"/><circle cx="1826.2" cy="353.4" r="1.9" fill="#86838b" opacity="0.26"/><circle cx="1836.2" cy="351.3" r="1.8" fill="#86838b" opacity="0.26"/><circle cx="1878.3" cy="354.2" r="1.5" fill="#86838b" opacity="0.52"/><circle cx="1886.9" cy="355.3" r="1.2" fill="#86838b" opacity="0.48"/><circle cx="1939.4" cy="354.4" r="1.2" fill="#86838b" opacity="0.26"/><circle cx="1956.7" cy="353.7" r="1.7" fill="#86838b" opacity="0.31"/><circle cx="1744.5" cy="363.7" r="1.3" fill="#86838b" opacity="0.45"/><circle cx="1776.2" cy="361.6" r="1.2" fill="#86838b" opacity="0.25"/><circle cx="1799.1" cy="357.7" r="1.9" fill="#86838b" opacity="0.52"/><circle cx="1804.2" cy="358.4" r="1.0" fill="#86838b" opacity="0.29"/><circle cx="1822.4" cy="359.8" r="2.1" fill="#86838b" opacity="0.44"/><circle cx="1843.3" cy="359.1" r="1.2" fill="#86838b" opacity="0.32"/><circle cx="1865.6" cy="363.2" r="1.2" fill="#86838b" opacity="0.32"/><circle cx="1876.1" cy="361.0" r="1.5" fill="#86838b" opacity="0.27"/><circle cx="1881.3" cy="360.0" r="1.1" fill="#86838b" opacity="0.25"/><circle cx="1892.2" cy="361.6" r="1.3" fill="#86838b" opacity="0.32"/><circle cx="1951.1" cy="357.3" r="1.8" fill="#86838b" opacity="0.46"/><circle cx="1961.4" cy="362.6" r="1.7" fill="#86838b" opacity="0.22"/><circle cx="1966.9" cy="359.7" r="2.1" fill="#86838b" opacity="0.33"/><circle cx="1978.5" cy="361.9" r="1.1" fill="#86838b" opacity="0.26"/><circle cx="1730.8" cy="369.1" r="1.7" fill="#86838b" opacity="0.55"/><circle cx="1756.2" cy="366.8" r="1.8" fill="#86838b" opacity="0.50"/><circle cx="1765.3" cy="366.2" r="1.5" fill="#86838b" opacity="0.23"/><circle cx="1786.6" cy="367.3" r="2.0" fill="#86838b" opacity="0.40"/><circle cx="1790.3" cy="369.6" r="1.9" fill="#86838b" opacity="0.25"/><circle cx="1800.5" cy="366.7" r="1.9" fill="#86838b" opacity="0.54"/><circle cx="1817.0" cy="366.9" r="1.5" fill="#86838b" opacity="0.55"/><circle cx="1828.5" cy="366.6" r="2.0" fill="#86838b" opacity="0.50"/><circle cx="1859.3" cy="369.1" r="1.9" fill="#86838b" opacity="0.32"/><circle cx="1895.8" cy="366.9" r="1.1" fill="#86838b" opacity="0.24"/><circle cx="1903.8" cy="367.1" r="1.1" fill="#86838b" opacity="0.45"/><circle cx="1921.7" cy="369.5" r="1.4" fill="#86838b" opacity="0.35"/><circle cx="1928.4" cy="369.2" r="1.0" fill="#86838b" opacity="0.49"/><circle cx="1961.3" cy="367.3" r="2.0" fill="#86838b" opacity="0.37"/><circle cx="1974.1" cy="366.9" r="1.9" fill="#86838b" opacity="0.41"/><circle cx="1978.6" cy="369.9" r="1.1" fill="#86838b" opacity="0.30"/><circle cx="1988.4" cy="365.7" r="1.3" fill="#86838b" opacity="0.38"/></g><circle cx="1960.8" cy="259.2" r="1.8" fill="#3c3a40" opacity="0.51"/><circle cx="1864.4" cy="351.6" r="2.0" fill="#3c3a40" opacity="0.52"/><circle cx="1815.3" cy="130.5" r="1.2" fill="#3c3a40" opacity="0.56"/><circle cx="1799.2" cy="87.0" r="1.4" fill="#3c3a40" opacity="0.88"/><circle cx="1950.5" cy="292.6" r="2.0" fill="#3c3a40" opacity="0.60"/><circle cx="1875.3" cy="135.9" r="1.4" fill="#3c3a40" opacity="0.52"/><circle cx="1911.8" cy="170.5" r="1.2" fill="#3c3a40" opacity="0.71"/><circle cx="1829.7" cy="113.3" r="2.1" fill="#3c3a40" opacity="0.75"/><circle cx="1782.7" cy="95.1" r="1.9" fill="#3c3a40" opacity="0.90"/><circle cx="1783.0" cy="220.7" r="1.4" fill="#3c3a40" opacity="0.57"/><circle cx="1895.3" cy="142.3" r="1.7" fill="#3c3a40" opacity="0.75"/><circle cx="1880.4" cy="181.2" r="1.1" fill="#3c3a40" opacity="0.88"/><circle cx="1752.9" cy="96.5" r="1.4" fill="#3c3a40" opacity="0.87"/><circle cx="1871.4" cy="153.2" r="1.1" fill="#3c3a40" opacity="0.59"/><circle cx="1892.1" cy="359.5" r="2.1" fill="#3c3a40" opacity="0.87"/><circle cx="1970.0" cy="136.2" r="1.1" fill="#3c3a40" opacity="0.76"/><circle cx="1746.3" cy="209.8" r="1.9" fill="#3c3a40" opacity="0.61"/><circle cx="1796.6" cy="122.0" r="1.6" fill="#3c3a40" opacity="0.74"/><circle cx="1808.2" cy="302.2" r="1.5" fill="#3c3a40" opacity="0.68"/><circle cx="1748.1" cy="192.4" r="1.4" fill="#3c3a40" opacity="0.56"/><circle cx="1948.5" cy="314.6" r="1.3" fill="#3c3a40" opacity="0.58"/><circle cx="1924.8" cy="207.1" r="2.0" fill="#3c3a40" opacity="0.87"/><circle cx="1897.7" cy="154.5" r="1.6" fill="#3c3a40" opacity="0.74"/><circle cx="1943.8" cy="141.7" r="1.5" fill="#3c3a40" opacity="0.64"/><circle cx="1927.7" cy="142.7" r="1.4" fill="#3c3a40" opacity="0.51"/><circle cx="1945.9" cy="100.2" r="2.1" fill="#3c3a40" opacity="0.52"/><circle cx="1746.4" cy="154.1" r="1.4" fill="#3c3a40" opacity="0.86"/><circle cx="1968.4" cy="90.3" r="1.5" fill="#3c3a40" opacity="0.60"/><circle cx="1884.2" cy="114.5" r="1.3" fill="#3c3a40" opacity="0.70"/><circle cx="1937.2" cy="349.6" r="1.7" fill="#3c3a40" opacity="0.79"/><circle cx="1795.6" cy="181.8" r="1.5" fill="#3c3a40" opacity="0.59"/><circle cx="1779.6" cy="53.4" r="1.7" fill="#3c3a40" opacity="0.73"/><circle cx="1843.3" cy="255.3" r="1.8" fill="#3c3a40" opacity="0.60"/><circle cx="1894.5" cy="297.0" r="1.3" fill="#3c3a40" opacity="0.83"/><circle cx="1777.9" cy="127.2" r="1.3" fill="#3c3a40" opacity="0.73"/><circle cx="1828.1" cy="198.1" r="1.9" fill="#3c3a40" opacity="0.56"/><circle cx="1902.0" cy="66.6" r="1.1" fill="#3c3a40" opacity="0.86"/><circle cx="1801.1" cy="289.6" r="2.1" fill="#3c3a40" opacity="0.75"/><circle cx="1941.0" cy="355.3" r="1.8" fill="#3c3a40" opacity="0.83"/><circle cx="1917.7" cy="318.5" r="1.4" fill="#3c3a40" opacity="0.79"/><circle cx="1911.4" cy="309.6" r="1.1" fill="#3c3a40" opacity="0.65"/><circle cx="1960.3" cy="292.1" r="1.8" fill="#3c3a40" opacity="0.69"/><circle cx="1947.0" cy="164.8" r="1.2" fill="#3c3a40" opacity="0.55"/><circle cx="1884.6" cy="57.3" r="2.1" fill="#3c3a40" opacity="0.54"/><circle cx="1780.4" cy="268.9" r="1.0" fill="#3c3a40" opacity="0.77"/></g>
</svg></body></html>
